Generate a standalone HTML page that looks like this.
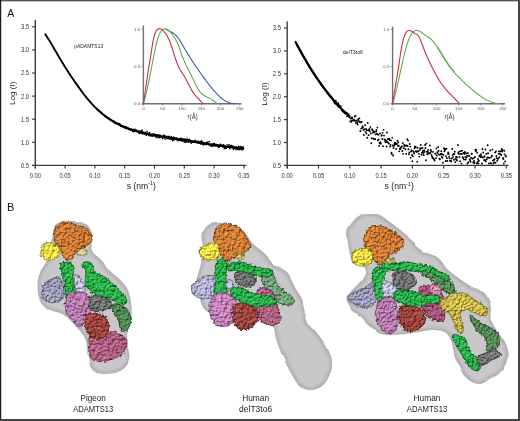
<!DOCTYPE html>
<html><head><meta charset="utf-8"><style>html,body{margin:0;padding:0;background:#fff;}svg{display:block;will-change:transform;}</style></head>
<body><svg width="520" height="421" viewBox="0 0 520 421"><defs>
<filter id="bump" x="-30%" y="-30%" width="160%" height="160%" color-interpolation-filters="sRGB">
 <feTurbulence type="fractalNoise" baseFrequency="0.4" numOctaves="2" seed="3" result="t"/>
 <feDisplacementMap in="SourceGraphic" in2="t" scale="3.8" xChannelSelector="R" yChannelSelector="G" result="d"/>
 <feTurbulence type="fractalNoise" baseFrequency="0.45" numOctaves="2" seed="11" result="t2"/>
 <feDiffuseLighting in="t2" surfaceScale="2.5" diffuseConstant="1.22" lighting-color="#ffffff" result="light">
   <feDistantLight azimuth="235" elevation="55"/>
 </feDiffuseLighting>
 <feComposite in="d" in2="light" operator="arithmetic" k1="0.7" k2="0.33" k3="0" k4="0" result="lit"/>
 <feSpecularLighting in="t2" surfaceScale="2.5" specularConstant="0.3" specularExponent="14" lighting-color="#ffffff" result="spec">
   <feDistantLight azimuth="235" elevation="55"/>
 </feSpecularLighting>
 <feComposite in="lit" in2="spec" operator="arithmetic" k1="0" k2="1" k3="0.5" k4="0" result="lit2"/>
 <feComposite in="lit2" in2="d" operator="in" result="litc"/>
 <feMorphology in="d" operator="erode" radius="0.7" result="er"/>
 <feComposite in="d" in2="er" operator="out" result="edge"/>
 <feFlood flood-color="#000" flood-opacity="0.28"/>
 <feComposite in2="edge" operator="in" result="edged"/>
 <feMerge><feMergeNode in="litc"/><feMergeNode in="edged"/></feMerge>
</filter>
<filter id="envf" x="-10%" y="-10%" width="120%" height="120%" color-interpolation-filters="sRGB">
 <feTurbulence type="fractalNoise" baseFrequency="0.06" numOctaves="1" seed="2" result="t"/>
 <feDisplacementMap in="SourceGraphic" in2="t" scale="3" xChannelSelector="R" yChannelSelector="G" result="d"/>
 <feGaussianBlur in="d" stdDeviation="0.45" result="db"/>
 <feMorphology in="db" operator="erode" radius="1.6" result="er"/>
 <feGaussianBlur in="er" stdDeviation="1.4" result="erb"/>
 <feFlood flood-color="#c9c7c9" result="fl"/>
 <feComposite in="fl" in2="erb" operator="in" result="inner"/>
 <feMerge><feMergeNode in="db"/><feMergeNode in="inner"/></feMerge>
</filter>
</defs>
<rect x="0" y="0" width="520" height="421" fill="#fff"/>
<line x1="35.3" y1="20" x2="35.3" y2="168.6" stroke="#3c3c3c" stroke-width="1.4"/>
<line x1="32.099999999999994" y1="165.4" x2="246.5" y2="165.4" stroke="#3c3c3c" stroke-width="1.3"/>
<line x1="32.099999999999994" y1="165.40" x2="35.3" y2="165.40" stroke="#3c3c3c" stroke-width="1.2"/>
<text x="29.099999999999998" y="167.85" font-size="6.9" text-anchor="end" fill="#333" font-family="Liberation Sans, sans-serif" textLength="8.2" lengthAdjust="spacingAndGlyphs">0.5</text>
<line x1="32.099999999999994" y1="142.30" x2="35.3" y2="142.30" stroke="#3c3c3c" stroke-width="1.2"/>
<text x="29.099999999999998" y="144.75" font-size="6.9" text-anchor="end" fill="#333" font-family="Liberation Sans, sans-serif" textLength="8.2" lengthAdjust="spacingAndGlyphs">1.0</text>
<line x1="32.099999999999994" y1="119.20" x2="35.3" y2="119.20" stroke="#3c3c3c" stroke-width="1.2"/>
<text x="29.099999999999998" y="121.65" font-size="6.9" text-anchor="end" fill="#333" font-family="Liberation Sans, sans-serif" textLength="8.2" lengthAdjust="spacingAndGlyphs">1.5</text>
<line x1="32.099999999999994" y1="96.10" x2="35.3" y2="96.10" stroke="#3c3c3c" stroke-width="1.2"/>
<text x="29.099999999999998" y="98.55" font-size="6.9" text-anchor="end" fill="#333" font-family="Liberation Sans, sans-serif" textLength="8.2" lengthAdjust="spacingAndGlyphs">2.0</text>
<line x1="32.099999999999994" y1="73.00" x2="35.3" y2="73.00" stroke="#3c3c3c" stroke-width="1.2"/>
<text x="29.099999999999998" y="75.45" font-size="6.9" text-anchor="end" fill="#333" font-family="Liberation Sans, sans-serif" textLength="8.2" lengthAdjust="spacingAndGlyphs">2.5</text>
<line x1="32.099999999999994" y1="49.90" x2="35.3" y2="49.90" stroke="#3c3c3c" stroke-width="1.2"/>
<text x="29.099999999999998" y="52.35" font-size="6.9" text-anchor="end" fill="#333" font-family="Liberation Sans, sans-serif" textLength="8.2" lengthAdjust="spacingAndGlyphs">3.0</text>
<line x1="32.099999999999994" y1="26.80" x2="35.3" y2="26.80" stroke="#3c3c3c" stroke-width="1.2"/>
<text x="29.099999999999998" y="29.25" font-size="6.9" text-anchor="end" fill="#333" font-family="Liberation Sans, sans-serif" textLength="8.2" lengthAdjust="spacingAndGlyphs">3.5</text>
<line x1="35.30" y1="165.4" x2="35.30" y2="168.6" stroke="#3c3c3c" stroke-width="1.2"/>
<text x="35.30" y="177.50" font-size="6.8" text-anchor="middle" fill="#333" font-family="Liberation Sans, sans-serif" textLength="11.2" lengthAdjust="spacingAndGlyphs">0.00</text>
<line x1="65.10" y1="165.4" x2="65.10" y2="168.6" stroke="#3c3c3c" stroke-width="1.2"/>
<text x="65.10" y="177.50" font-size="6.8" text-anchor="middle" fill="#333" font-family="Liberation Sans, sans-serif" textLength="11.2" lengthAdjust="spacingAndGlyphs">0.05</text>
<line x1="94.90" y1="165.4" x2="94.90" y2="168.6" stroke="#3c3c3c" stroke-width="1.2"/>
<text x="94.90" y="177.50" font-size="6.8" text-anchor="middle" fill="#333" font-family="Liberation Sans, sans-serif" textLength="11.2" lengthAdjust="spacingAndGlyphs">0.10</text>
<line x1="124.70" y1="165.4" x2="124.70" y2="168.6" stroke="#3c3c3c" stroke-width="1.2"/>
<text x="124.70" y="177.50" font-size="6.8" text-anchor="middle" fill="#333" font-family="Liberation Sans, sans-serif" textLength="11.2" lengthAdjust="spacingAndGlyphs">0.15</text>
<line x1="154.50" y1="165.4" x2="154.50" y2="168.6" stroke="#3c3c3c" stroke-width="1.2"/>
<text x="154.50" y="177.50" font-size="6.8" text-anchor="middle" fill="#333" font-family="Liberation Sans, sans-serif" textLength="11.2" lengthAdjust="spacingAndGlyphs">0.20</text>
<line x1="184.30" y1="165.4" x2="184.30" y2="168.6" stroke="#3c3c3c" stroke-width="1.2"/>
<text x="184.30" y="177.50" font-size="6.8" text-anchor="middle" fill="#333" font-family="Liberation Sans, sans-serif" textLength="11.2" lengthAdjust="spacingAndGlyphs">0.25</text>
<line x1="214.10" y1="165.4" x2="214.10" y2="168.6" stroke="#3c3c3c" stroke-width="1.2"/>
<text x="214.10" y="177.50" font-size="6.8" text-anchor="middle" fill="#333" font-family="Liberation Sans, sans-serif" textLength="11.2" lengthAdjust="spacingAndGlyphs">0.30</text>
<line x1="243.90" y1="165.4" x2="243.90" y2="168.6" stroke="#3c3c3c" stroke-width="1.2"/>
<text x="243.90" y="177.50" font-size="6.8" text-anchor="middle" fill="#333" font-family="Liberation Sans, sans-serif" textLength="11.2" lengthAdjust="spacingAndGlyphs">0.35</text>
<text x="14.9" y="93.2" font-size="8.1" text-anchor="middle" fill="#222" font-family="Liberation Sans, sans-serif" transform="rotate(-90 14.9 93.2)">Log (I)</text>
<text x="126.8" y="188.6" font-size="8.6" fill="#222" font-family="Liberation Sans, sans-serif">s (nm<tspan font-size="5.4" dy="-3.3">-1</tspan><tspan dy="3.3">)</tspan></text>
<text x="7.2" y="17.2" font-size="10.6" fill="#111" font-family="Liberation Sans, sans-serif">A</text>
<text x="74.2" y="47.8" font-size="5.3" fill="#222" font-family="Liberation Sans, sans-serif" textLength="29" lengthAdjust="spacingAndGlyphs">pADAMTS13</text>
<path d="M45.40,34.37 C45.96,35.24 47.64,37.79 48.76,39.58 C49.87,41.38 50.99,43.25 52.11,45.13 C53.23,47.01 54.35,48.94 55.47,50.86 C56.59,52.78 57.71,54.73 58.82,56.64 C59.94,58.55 61.06,60.47 62.18,62.33 C63.30,64.18 64.42,66.01 65.54,67.79 C66.65,69.57 67.77,71.30 68.89,73.01 C70.01,74.72 71.13,76.39 72.25,78.04 C73.37,79.69 74.48,81.31 75.60,82.91 C76.72,84.51 77.84,86.10 78.96,87.65 C80.08,89.20 81.20,90.73 82.32,92.22 C83.43,93.71 84.55,95.17 85.67,96.57 C86.79,97.98 87.91,99.35 89.03,100.66 C90.15,101.96 91.26,103.22 92.38,104.42 C93.50,105.63 94.62,106.77 95.74,107.87 C96.86,108.97 97.98,110.02 99.09,111.02 C100.21,112.02 101.33,112.98 102.45,113.89 C103.57,114.80 104.69,115.67 105.81,116.50 C106.93,117.33 108.04,118.12 109.16,118.88 C110.28,119.63 111.40,120.35 112.52,121.03 C113.64,121.71 114.76,122.36 115.87,122.97 C116.99,123.59 118.11,124.17 119.23,124.73 C120.35,125.28 121.47,125.81 122.59,126.30 C123.71,126.80 124.82,127.27 125.94,127.72 C127.06,128.17 128.18,128.59 129.30,128.99 C130.42,129.39 131.54,129.76 132.65,130.12 C133.77,130.48 134.89,130.82 136.01,131.14 C137.13,131.46 138.25,131.76 139.37,132.05 C140.48,132.34 141.60,132.62 142.72,132.88 C143.84,133.14 144.96,133.39 146.08,133.63 C147.20,133.87 148.32,134.10 149.43,134.33 C150.55,134.55 151.67,134.76 152.79,134.97 C153.91,135.19 155.03,135.39 156.15,135.59 C157.26,135.80 158.38,136.00 159.50,136.20 C160.62,136.40 161.74,136.60 162.86,136.80 C163.98,136.99 165.09,137.19 166.21,137.38 C167.33,137.58 168.45,137.77 169.57,137.97 C170.69,138.16 171.81,138.35 172.93,138.54 C174.04,138.73 175.16,138.92 176.28,139.10 C177.40,139.29 178.52,139.48 179.64,139.66 C180.76,139.84 181.87,140.03 182.99,140.21 C184.11,140.39 185.23,140.57 186.35,140.75 C187.47,140.93 188.59,141.11 189.71,141.28 C190.82,141.46 191.94,141.64 193.06,141.81 C194.18,141.98 195.30,142.16 196.42,142.33 C197.54,142.50 198.65,142.67 199.77,142.84 C200.89,143.00 202.01,143.17 203.13,143.34 C204.25,143.50 205.37,143.67 206.48,143.83 C207.60,143.99 208.72,144.16 209.84,144.32 C210.96,144.48 212.08,144.64 213.20,144.79 C214.32,144.95 215.43,145.11 216.55,145.26 C217.67,145.42 218.79,145.57 219.91,145.72 C221.03,145.88 222.15,146.03 223.26,146.18 C224.38,146.33 225.50,146.48 226.62,146.62 C227.74,146.77 228.86,146.92 229.98,147.06 C231.09,147.20 232.21,147.35 233.33,147.49 C234.45,147.63 235.57,147.77 236.69,147.91 C237.81,148.05 238.93,148.19 240.04,148.32 C241.16,148.46 242.84,148.66 243.40,148.73" fill="none" stroke="#000" stroke-width="1.9" stroke-linecap="round"/>
<path d="M95.40,107.52h1.2v1.2h-1.2zM95.58,107.75h1.2v1.2h-1.2zM95.77,107.81h1.2v1.2h-1.2zM95.95,107.85h1.2v1.2h-1.2zM96.14,108.11h1.2v1.2h-1.2zM96.32,108.17h1.2v1.2h-1.2zM96.51,108.57h1.2v1.2h-1.2zM96.69,109.02h1.2v1.2h-1.2zM96.88,108.79h1.2v1.2h-1.2zM97.06,108.93h1.2v1.2h-1.2zM97.24,109.36h1.2v1.2h-1.2zM97.43,109.50h1.2v1.2h-1.2zM97.61,109.62h1.2v1.2h-1.2zM97.80,109.55h1.2v1.2h-1.2zM97.98,109.93h1.2v1.2h-1.2zM98.17,110.28h1.2v1.2h-1.2zM98.35,109.96h1.2v1.2h-1.2zM98.54,110.34h1.2v1.2h-1.2zM98.72,110.14h1.2v1.2h-1.2zM98.91,110.45h1.2v1.2h-1.2zM99.09,110.46h1.2v1.2h-1.2zM99.27,111.03h1.2v1.2h-1.2zM99.46,110.91h1.2v1.2h-1.2zM99.64,111.47h1.2v1.2h-1.2zM99.83,111.60h1.2v1.2h-1.2zM100.01,111.67h1.2v1.2h-1.2zM100.20,111.19h1.2v1.2h-1.2zM100.38,111.89h1.2v1.2h-1.2zM100.57,112.18h1.2v1.2h-1.2zM100.75,112.38h1.2v1.2h-1.2zM100.93,112.07h1.2v1.2h-1.2zM101.12,112.53h1.2v1.2h-1.2zM101.30,112.54h1.2v1.2h-1.2zM101.49,112.74h1.2v1.2h-1.2zM101.67,113.45h1.2v1.2h-1.2zM101.86,113.06h1.2v1.2h-1.2zM102.04,113.43h1.2v1.2h-1.2zM102.23,113.85h1.2v1.2h-1.2zM102.41,113.55h1.2v1.2h-1.2zM102.59,113.84h1.2v1.2h-1.2zM102.78,114.05h1.2v1.2h-1.2zM102.96,114.18h1.2v1.2h-1.2zM103.15,113.91h1.2v1.2h-1.2zM103.33,114.47h1.2v1.2h-1.2zM103.52,115.03h1.2v1.2h-1.2zM103.70,114.23h1.2v1.2h-1.2zM103.89,115.16h1.2v1.2h-1.2zM104.07,115.06h1.2v1.2h-1.2zM104.26,114.95h1.2v1.2h-1.2zM104.44,115.98h1.2v1.2h-1.2zM104.62,115.71h1.2v1.2h-1.2zM104.81,115.18h1.2v1.2h-1.2zM104.99,115.76h1.2v1.2h-1.2zM105.18,116.08h1.2v1.2h-1.2zM105.36,115.95h1.2v1.2h-1.2zM105.55,116.38h1.2v1.2h-1.2zM105.73,116.25h1.2v1.2h-1.2zM105.92,116.64h1.2v1.2h-1.2zM106.10,117.05h1.2v1.2h-1.2zM106.28,116.42h1.2v1.2h-1.2zM106.47,116.87h1.2v1.2h-1.2zM106.65,116.75h1.2v1.2h-1.2zM106.84,117.10h1.2v1.2h-1.2zM107.02,116.74h1.2v1.2h-1.2zM107.21,117.10h1.2v1.2h-1.2zM107.39,117.37h1.2v1.2h-1.2zM107.58,117.92h1.2v1.2h-1.2zM107.76,118.15h1.2v1.2h-1.2zM107.94,117.33h1.2v1.2h-1.2zM108.13,117.66h1.2v1.2h-1.2zM108.31,118.35h1.2v1.2h-1.2zM108.50,117.44h1.2v1.2h-1.2zM108.68,118.17h1.2v1.2h-1.2zM108.87,118.43h1.2v1.2h-1.2zM109.05,119.10h1.2v1.2h-1.2zM109.24,118.99h1.2v1.2h-1.2zM109.42,118.69h1.2v1.2h-1.2zM109.61,118.79h1.2v1.2h-1.2zM109.79,118.96h1.2v1.2h-1.2zM109.97,119.82h1.2v1.2h-1.2zM110.16,119.12h1.2v1.2h-1.2zM110.34,119.29h1.2v1.2h-1.2zM110.53,119.69h1.2v1.2h-1.2zM110.71,119.60h1.2v1.2h-1.2zM110.90,119.69h1.2v1.2h-1.2zM111.08,119.41h1.2v1.2h-1.2zM111.27,120.00h1.2v1.2h-1.2zM111.45,119.93h1.2v1.2h-1.2zM111.63,120.76h1.2v1.2h-1.2zM111.82,120.66h1.2v1.2h-1.2zM112.00,120.47h1.2v1.2h-1.2zM112.19,120.89h1.2v1.2h-1.2zM112.37,120.54h1.2v1.2h-1.2zM112.56,121.28h1.2v1.2h-1.2zM112.74,120.90h1.2v1.2h-1.2zM112.93,121.28h1.2v1.2h-1.2zM113.11,120.52h1.2v1.2h-1.2zM113.29,121.39h1.2v1.2h-1.2zM113.48,120.54h1.2v1.2h-1.2zM113.66,120.47h1.2v1.2h-1.2zM113.85,121.40h1.2v1.2h-1.2zM114.03,121.22h1.2v1.2h-1.2zM114.22,121.84h1.2v1.2h-1.2zM114.40,122.96h1.2v1.2h-1.2zM114.59,121.57h1.2v1.2h-1.2zM114.77,121.78h1.2v1.2h-1.2zM114.95,122.29h1.2v1.2h-1.2zM115.14,122.54h1.2v1.2h-1.2zM115.32,122.31h1.2v1.2h-1.2zM115.51,122.39h1.2v1.2h-1.2zM115.69,122.95h1.2v1.2h-1.2zM115.88,122.95h1.2v1.2h-1.2zM116.06,122.26h1.2v1.2h-1.2zM116.25,122.84h1.2v1.2h-1.2zM116.43,123.00h1.2v1.2h-1.2zM116.62,122.53h1.2v1.2h-1.2zM116.80,123.31h1.2v1.2h-1.2zM116.98,122.82h1.2v1.2h-1.2zM117.17,123.88h1.2v1.2h-1.2zM117.35,123.56h1.2v1.2h-1.2zM117.54,123.60h1.2v1.2h-1.2zM117.72,123.34h1.2v1.2h-1.2zM117.91,123.69h1.2v1.2h-1.2zM118.09,122.77h1.2v1.2h-1.2zM118.28,123.33h1.2v1.2h-1.2zM118.46,124.24h1.2v1.2h-1.2zM118.64,122.97h1.2v1.2h-1.2zM118.83,124.69h1.2v1.2h-1.2zM119.01,123.34h1.2v1.2h-1.2zM119.20,124.82h1.2v1.2h-1.2zM119.38,124.01h1.2v1.2h-1.2zM119.57,125.01h1.2v1.2h-1.2zM119.75,124.73h1.2v1.2h-1.2zM119.94,123.87h1.2v1.2h-1.2zM120.12,125.54h1.2v1.2h-1.2zM120.30,125.74h1.2v1.2h-1.2zM120.49,124.96h1.2v1.2h-1.2zM120.67,124.93h1.2v1.2h-1.2zM120.86,125.08h1.2v1.2h-1.2zM121.04,124.69h1.2v1.2h-1.2zM121.23,125.99h1.2v1.2h-1.2zM121.41,125.11h1.2v1.2h-1.2zM121.60,125.49h1.2v1.2h-1.2zM121.78,125.14h1.2v1.2h-1.2zM121.97,125.32h1.2v1.2h-1.2zM122.15,125.01h1.2v1.2h-1.2zM122.33,126.61h1.2v1.2h-1.2zM122.52,125.84h1.2v1.2h-1.2zM122.70,126.60h1.2v1.2h-1.2zM122.89,126.09h1.2v1.2h-1.2zM123.07,125.74h1.2v1.2h-1.2zM123.26,126.04h1.2v1.2h-1.2zM123.44,125.97h1.2v1.2h-1.2zM123.63,126.40h1.2v1.2h-1.2zM123.81,126.24h1.2v1.2h-1.2zM123.99,126.36h1.2v1.2h-1.2zM124.18,125.76h1.2v1.2h-1.2zM124.36,126.20h1.2v1.2h-1.2zM124.55,127.84h1.2v1.2h-1.2zM124.73,126.43h1.2v1.2h-1.2zM124.92,126.26h1.2v1.2h-1.2zM125.10,127.24h1.2v1.2h-1.2zM125.29,128.01h1.2v1.2h-1.2zM125.47,126.22h1.2v1.2h-1.2zM125.65,127.10h1.2v1.2h-1.2zM125.84,126.89h1.2v1.2h-1.2zM126.02,126.22h1.2v1.2h-1.2zM126.21,127.93h1.2v1.2h-1.2zM126.39,127.50h1.2v1.2h-1.2zM126.58,127.63h1.2v1.2h-1.2zM126.76,127.15h1.2v1.2h-1.2zM126.95,128.03h1.2v1.2h-1.2zM127.13,127.43h1.2v1.2h-1.2zM127.32,127.77h1.2v1.2h-1.2zM127.50,127.18h1.2v1.2h-1.2zM127.68,127.17h1.2v1.2h-1.2zM127.87,128.99h1.2v1.2h-1.2zM128.05,127.79h1.2v1.2h-1.2zM128.24,128.42h1.2v1.2h-1.2zM128.42,128.26h1.2v1.2h-1.2zM128.61,128.05h1.2v1.2h-1.2zM128.79,128.06h1.2v1.2h-1.2zM128.98,128.92h1.2v1.2h-1.2zM129.16,128.33h1.2v1.2h-1.2zM129.34,128.50h1.2v1.2h-1.2zM129.53,128.68h1.2v1.2h-1.2zM129.71,129.57h1.2v1.2h-1.2zM129.90,129.28h1.2v1.2h-1.2zM130.08,129.13h1.2v1.2h-1.2zM130.27,128.51h1.2v1.2h-1.2zM130.45,127.98h1.2v1.2h-1.2zM130.64,129.73h1.2v1.2h-1.2zM130.82,129.81h1.2v1.2h-1.2zM131.00,129.06h1.2v1.2h-1.2zM131.19,129.63h1.2v1.2h-1.2zM131.37,129.87h1.2v1.2h-1.2zM131.56,129.97h1.2v1.2h-1.2zM131.74,130.10h1.2v1.2h-1.2zM131.93,129.14h1.2v1.2h-1.2zM132.11,130.68h1.2v1.2h-1.2zM132.30,128.66h1.2v1.2h-1.2zM132.48,130.30h1.2v1.2h-1.2zM132.67,130.08h1.2v1.2h-1.2zM132.85,130.43h1.2v1.2h-1.2zM133.03,131.26h1.2v1.2h-1.2zM133.22,131.01h1.2v1.2h-1.2zM133.40,129.05h1.2v1.2h-1.2zM133.59,128.68h1.2v1.2h-1.2zM133.77,130.68h1.2v1.2h-1.2zM133.96,129.31h1.2v1.2h-1.2zM134.14,130.15h1.2v1.2h-1.2zM134.33,130.87h1.2v1.2h-1.2zM134.51,128.97h1.2v1.2h-1.2zM134.69,128.66h1.2v1.2h-1.2zM134.88,130.58h1.2v1.2h-1.2zM135.06,130.47h1.2v1.2h-1.2zM135.25,130.29h1.2v1.2h-1.2zM135.43,130.58h1.2v1.2h-1.2zM135.62,129.91h1.2v1.2h-1.2zM135.80,129.43h1.2v1.2h-1.2zM135.99,130.56h1.2v1.2h-1.2zM136.17,129.96h1.2v1.2h-1.2zM136.35,129.46h1.2v1.2h-1.2zM136.54,131.26h1.2v1.2h-1.2zM136.72,130.85h1.2v1.2h-1.2zM136.91,131.28h1.2v1.2h-1.2zM137.09,130.18h1.2v1.2h-1.2zM137.28,130.50h1.2v1.2h-1.2zM137.46,130.27h1.2v1.2h-1.2zM137.65,130.41h1.2v1.2h-1.2zM137.83,131.36h1.2v1.2h-1.2zM138.02,130.59h1.2v1.2h-1.2zM138.20,131.60h1.2v1.2h-1.2zM138.38,131.64h1.2v1.2h-1.2zM138.57,133.12h1.2v1.2h-1.2zM138.75,130.27h1.2v1.2h-1.2zM138.94,132.25h1.2v1.2h-1.2zM139.12,131.47h1.2v1.2h-1.2zM139.31,131.58h1.2v1.2h-1.2zM139.49,130.38h1.2v1.2h-1.2zM139.68,131.28h1.2v1.2h-1.2zM139.86,132.37h1.2v1.2h-1.2zM140.04,131.70h1.2v1.2h-1.2zM140.23,131.88h1.2v1.2h-1.2zM140.41,131.61h1.2v1.2h-1.2zM140.60,132.92h1.2v1.2h-1.2zM140.78,131.93h1.2v1.2h-1.2zM140.97,130.05h1.2v1.2h-1.2zM141.15,131.43h1.2v1.2h-1.2zM141.34,130.34h1.2v1.2h-1.2zM141.52,129.23h1.2v1.2h-1.2zM141.70,131.70h1.2v1.2h-1.2zM141.89,133.42h1.2v1.2h-1.2zM142.07,132.31h1.2v1.2h-1.2zM142.26,131.25h1.2v1.2h-1.2zM142.44,131.50h1.2v1.2h-1.2zM142.63,133.42h1.2v1.2h-1.2zM142.81,132.58h1.2v1.2h-1.2zM143.00,132.52h1.2v1.2h-1.2zM143.18,132.47h1.2v1.2h-1.2zM143.36,132.59h1.2v1.2h-1.2zM143.55,133.34h1.2v1.2h-1.2zM143.73,133.15h1.2v1.2h-1.2zM143.92,132.88h1.2v1.2h-1.2zM144.10,131.75h1.2v1.2h-1.2zM144.29,133.24h1.2v1.2h-1.2zM144.47,132.17h1.2v1.2h-1.2zM144.66,133.88h1.2v1.2h-1.2zM144.84,131.69h1.2v1.2h-1.2zM145.03,132.80h1.2v1.2h-1.2zM145.21,132.97h1.2v1.2h-1.2zM145.39,131.76h1.2v1.2h-1.2zM145.58,134.69h1.2v1.2h-1.2zM145.76,134.48h1.2v1.2h-1.2zM145.95,132.69h1.2v1.2h-1.2zM146.13,133.90h1.2v1.2h-1.2zM146.32,133.57h1.2v1.2h-1.2zM146.50,130.76h1.2v1.2h-1.2zM146.69,133.52h1.2v1.2h-1.2zM146.87,133.26h1.2v1.2h-1.2zM147.05,133.44h1.2v1.2h-1.2zM147.24,132.37h1.2v1.2h-1.2zM147.42,133.18h1.2v1.2h-1.2zM147.61,133.30h1.2v1.2h-1.2zM147.79,134.64h1.2v1.2h-1.2zM147.98,133.87h1.2v1.2h-1.2zM148.16,133.58h1.2v1.2h-1.2zM148.35,135.08h1.2v1.2h-1.2zM148.53,133.14h1.2v1.2h-1.2zM148.71,133.33h1.2v1.2h-1.2zM148.90,132.01h1.2v1.2h-1.2zM149.08,135.26h1.2v1.2h-1.2zM149.27,134.73h1.2v1.2h-1.2zM149.45,134.72h1.2v1.2h-1.2zM149.64,134.52h1.2v1.2h-1.2zM149.82,134.02h1.2v1.2h-1.2zM150.01,134.16h1.2v1.2h-1.2zM150.19,133.75h1.2v1.2h-1.2zM150.38,133.83h1.2v1.2h-1.2zM150.56,134.11h1.2v1.2h-1.2zM150.74,135.53h1.2v1.2h-1.2zM150.93,134.66h1.2v1.2h-1.2zM151.11,134.11h1.2v1.2h-1.2zM151.30,133.65h1.2v1.2h-1.2zM151.48,133.63h1.2v1.2h-1.2zM151.67,135.80h1.2v1.2h-1.2zM151.85,134.79h1.2v1.2h-1.2zM152.04,134.41h1.2v1.2h-1.2zM152.22,134.05h1.2v1.2h-1.2zM152.40,133.36h1.2v1.2h-1.2zM152.59,134.38h1.2v1.2h-1.2zM152.77,135.31h1.2v1.2h-1.2zM152.96,134.14h1.2v1.2h-1.2zM153.14,134.33h1.2v1.2h-1.2zM153.33,134.37h1.2v1.2h-1.2zM153.51,134.72h1.2v1.2h-1.2zM153.70,133.14h1.2v1.2h-1.2zM153.88,134.46h1.2v1.2h-1.2zM154.06,133.91h1.2v1.2h-1.2zM154.25,135.60h1.2v1.2h-1.2zM154.43,134.06h1.2v1.2h-1.2zM154.62,135.37h1.2v1.2h-1.2zM154.80,136.31h1.2v1.2h-1.2zM154.99,134.59h1.2v1.2h-1.2zM155.17,134.35h1.2v1.2h-1.2zM155.36,135.14h1.2v1.2h-1.2zM155.54,134.99h1.2v1.2h-1.2zM155.73,134.08h1.2v1.2h-1.2zM155.91,135.50h1.2v1.2h-1.2zM156.09,137.01h1.2v1.2h-1.2zM156.28,134.88h1.2v1.2h-1.2zM156.46,134.97h1.2v1.2h-1.2zM156.65,134.20h1.2v1.2h-1.2zM156.83,135.53h1.2v1.2h-1.2zM157.02,134.07h1.2v1.2h-1.2zM157.20,134.24h1.2v1.2h-1.2zM157.39,136.54h1.2v1.2h-1.2zM157.57,134.50h1.2v1.2h-1.2zM157.75,136.42h1.2v1.2h-1.2zM157.94,136.87h1.2v1.2h-1.2zM158.12,135.71h1.2v1.2h-1.2zM158.31,136.02h1.2v1.2h-1.2zM158.49,137.38h1.2v1.2h-1.2zM158.68,135.37h1.2v1.2h-1.2zM158.86,135.03h1.2v1.2h-1.2zM159.05,134.34h1.2v1.2h-1.2zM159.23,135.70h1.2v1.2h-1.2zM159.41,137.10h1.2v1.2h-1.2zM159.60,136.63h1.2v1.2h-1.2zM159.78,134.86h1.2v1.2h-1.2zM159.97,134.98h1.2v1.2h-1.2zM160.15,135.34h1.2v1.2h-1.2zM160.34,136.13h1.2v1.2h-1.2zM160.52,135.69h1.2v1.2h-1.2zM160.71,136.12h1.2v1.2h-1.2zM160.89,136.23h1.2v1.2h-1.2zM161.08,135.70h1.2v1.2h-1.2zM161.26,135.98h1.2v1.2h-1.2zM161.44,136.25h1.2v1.2h-1.2zM161.63,136.00h1.2v1.2h-1.2zM161.81,136.59h1.2v1.2h-1.2zM162.00,137.93h1.2v1.2h-1.2zM162.18,136.74h1.2v1.2h-1.2zM162.37,136.27h1.2v1.2h-1.2zM162.55,134.65h1.2v1.2h-1.2zM162.74,136.65h1.2v1.2h-1.2zM162.92,134.46h1.2v1.2h-1.2zM163.10,135.01h1.2v1.2h-1.2zM163.29,137.19h1.2v1.2h-1.2zM163.47,137.08h1.2v1.2h-1.2zM163.66,136.30h1.2v1.2h-1.2zM163.84,134.85h1.2v1.2h-1.2zM164.03,136.15h1.2v1.2h-1.2zM164.21,135.89h1.2v1.2h-1.2zM164.40,137.18h1.2v1.2h-1.2zM164.58,138.75h1.2v1.2h-1.2zM164.76,136.84h1.2v1.2h-1.2zM164.95,135.93h1.2v1.2h-1.2zM165.13,135.59h1.2v1.2h-1.2zM165.32,136.68h1.2v1.2h-1.2zM165.50,136.60h1.2v1.2h-1.2zM165.69,135.70h1.2v1.2h-1.2zM165.87,136.94h1.2v1.2h-1.2zM166.06,135.77h1.2v1.2h-1.2zM166.24,137.95h1.2v1.2h-1.2zM166.43,137.93h1.2v1.2h-1.2zM166.61,137.99h1.2v1.2h-1.2zM166.79,136.54h1.2v1.2h-1.2zM166.98,137.51h1.2v1.2h-1.2zM167.16,136.93h1.2v1.2h-1.2zM167.35,136.72h1.2v1.2h-1.2zM167.53,136.79h1.2v1.2h-1.2zM167.72,135.91h1.2v1.2h-1.2zM167.90,135.81h1.2v1.2h-1.2zM168.09,137.97h1.2v1.2h-1.2zM168.27,137.06h1.2v1.2h-1.2zM168.45,137.48h1.2v1.2h-1.2zM168.64,138.26h1.2v1.2h-1.2zM168.82,135.69h1.2v1.2h-1.2zM169.01,136.63h1.2v1.2h-1.2zM169.19,137.57h1.2v1.2h-1.2zM169.38,137.81h1.2v1.2h-1.2zM169.56,137.11h1.2v1.2h-1.2zM169.75,138.48h1.2v1.2h-1.2zM169.93,137.73h1.2v1.2h-1.2zM170.11,136.41h1.2v1.2h-1.2zM170.30,136.71h1.2v1.2h-1.2zM170.48,138.39h1.2v1.2h-1.2zM170.67,138.10h1.2v1.2h-1.2zM170.85,135.88h1.2v1.2h-1.2zM171.04,139.00h1.2v1.2h-1.2zM171.22,138.32h1.2v1.2h-1.2zM171.41,139.06h1.2v1.2h-1.2zM171.59,137.45h1.2v1.2h-1.2zM171.77,137.56h1.2v1.2h-1.2zM171.96,136.81h1.2v1.2h-1.2zM172.14,140.32h1.2v1.2h-1.2zM172.33,137.77h1.2v1.2h-1.2zM172.51,139.48h1.2v1.2h-1.2zM172.70,137.39h1.2v1.2h-1.2zM172.88,138.19h1.2v1.2h-1.2zM173.07,136.48h1.2v1.2h-1.2zM173.25,137.73h1.2v1.2h-1.2zM173.44,139.06h1.2v1.2h-1.2zM173.62,136.97h1.2v1.2h-1.2zM173.80,139.21h1.2v1.2h-1.2zM173.99,138.54h1.2v1.2h-1.2zM174.17,137.26h1.2v1.2h-1.2zM174.36,137.80h1.2v1.2h-1.2zM174.54,137.88h1.2v1.2h-1.2zM174.73,138.30h1.2v1.2h-1.2zM174.91,137.86h1.2v1.2h-1.2zM175.10,137.62h1.2v1.2h-1.2zM175.28,138.15h1.2v1.2h-1.2zM175.46,137.49h1.2v1.2h-1.2zM175.65,137.27h1.2v1.2h-1.2zM175.83,138.48h1.2v1.2h-1.2zM176.02,139.40h1.2v1.2h-1.2zM176.20,137.14h1.2v1.2h-1.2zM176.39,138.62h1.2v1.2h-1.2zM176.57,138.03h1.2v1.2h-1.2zM176.76,137.75h1.2v1.2h-1.2zM176.94,139.52h1.2v1.2h-1.2zM177.12,138.25h1.2v1.2h-1.2zM177.31,140.20h1.2v1.2h-1.2zM177.49,138.06h1.2v1.2h-1.2zM177.68,139.20h1.2v1.2h-1.2zM177.86,138.65h1.2v1.2h-1.2zM178.05,138.18h1.2v1.2h-1.2zM178.23,139.48h1.2v1.2h-1.2zM178.42,138.81h1.2v1.2h-1.2zM178.60,139.56h1.2v1.2h-1.2zM178.79,138.97h1.2v1.2h-1.2zM178.97,138.02h1.2v1.2h-1.2zM179.15,138.98h1.2v1.2h-1.2zM179.34,139.16h1.2v1.2h-1.2zM179.52,140.05h1.2v1.2h-1.2zM179.71,138.31h1.2v1.2h-1.2zM179.89,139.16h1.2v1.2h-1.2zM180.08,137.59h1.2v1.2h-1.2zM180.26,139.88h1.2v1.2h-1.2zM180.45,138.26h1.2v1.2h-1.2zM180.63,137.60h1.2v1.2h-1.2zM180.81,139.29h1.2v1.2h-1.2zM181.00,140.43h1.2v1.2h-1.2zM181.18,137.96h1.2v1.2h-1.2zM181.37,138.41h1.2v1.2h-1.2zM181.55,138.77h1.2v1.2h-1.2zM181.74,138.43h1.2v1.2h-1.2zM181.92,139.89h1.2v1.2h-1.2zM182.11,138.80h1.2v1.2h-1.2zM182.29,138.91h1.2v1.2h-1.2zM182.47,140.18h1.2v1.2h-1.2zM182.66,138.93h1.2v1.2h-1.2zM182.84,140.09h1.2v1.2h-1.2zM183.03,138.79h1.2v1.2h-1.2zM183.21,138.59h1.2v1.2h-1.2zM183.40,138.03h1.2v1.2h-1.2zM183.58,141.57h1.2v1.2h-1.2zM183.77,139.53h1.2v1.2h-1.2zM183.95,140.09h1.2v1.2h-1.2zM184.14,139.86h1.2v1.2h-1.2zM184.32,140.07h1.2v1.2h-1.2zM184.50,140.00h1.2v1.2h-1.2zM184.69,141.79h1.2v1.2h-1.2zM184.87,139.02h1.2v1.2h-1.2zM185.06,138.56h1.2v1.2h-1.2zM185.24,139.11h1.2v1.2h-1.2zM185.43,138.83h1.2v1.2h-1.2zM185.61,140.84h1.2v1.2h-1.2zM185.80,140.94h1.2v1.2h-1.2zM185.98,139.27h1.2v1.2h-1.2zM186.16,138.90h1.2v1.2h-1.2zM186.35,139.91h1.2v1.2h-1.2zM186.53,141.60h1.2v1.2h-1.2zM186.72,137.63h1.2v1.2h-1.2zM186.90,140.83h1.2v1.2h-1.2zM187.09,139.34h1.2v1.2h-1.2zM187.27,141.38h1.2v1.2h-1.2zM187.46,139.40h1.2v1.2h-1.2zM187.64,140.18h1.2v1.2h-1.2zM187.82,139.05h1.2v1.2h-1.2zM188.01,139.58h1.2v1.2h-1.2zM188.19,141.86h1.2v1.2h-1.2zM188.38,141.35h1.2v1.2h-1.2zM188.56,140.22h1.2v1.2h-1.2zM188.75,139.80h1.2v1.2h-1.2zM188.93,138.86h1.2v1.2h-1.2zM189.12,140.31h1.2v1.2h-1.2zM189.30,140.69h1.2v1.2h-1.2zM189.49,140.66h1.2v1.2h-1.2zM189.67,140.68h1.2v1.2h-1.2zM189.85,139.74h1.2v1.2h-1.2zM190.04,140.77h1.2v1.2h-1.2zM190.22,140.82h1.2v1.2h-1.2zM190.41,142.11h1.2v1.2h-1.2zM190.59,142.69h1.2v1.2h-1.2zM190.78,140.82h1.2v1.2h-1.2zM190.96,140.25h1.2v1.2h-1.2zM191.15,140.94h1.2v1.2h-1.2zM191.33,140.46h1.2v1.2h-1.2zM191.51,140.36h1.2v1.2h-1.2zM191.70,141.03h1.2v1.2h-1.2zM191.88,140.13h1.2v1.2h-1.2zM192.07,141.72h1.2v1.2h-1.2zM192.25,141.08h1.2v1.2h-1.2zM192.44,141.44h1.2v1.2h-1.2zM192.62,141.06h1.2v1.2h-1.2zM192.81,140.57h1.2v1.2h-1.2zM192.99,140.39h1.2v1.2h-1.2zM193.17,141.09h1.2v1.2h-1.2zM193.36,140.83h1.2v1.2h-1.2zM193.54,141.60h1.2v1.2h-1.2zM193.73,141.40h1.2v1.2h-1.2zM193.91,140.14h1.2v1.2h-1.2zM194.10,141.53h1.2v1.2h-1.2zM194.28,140.21h1.2v1.2h-1.2zM194.47,140.93h1.2v1.2h-1.2zM194.65,141.27h1.2v1.2h-1.2zM194.84,139.60h1.2v1.2h-1.2zM195.02,141.69h1.2v1.2h-1.2zM195.20,141.78h1.2v1.2h-1.2zM195.39,141.51h1.2v1.2h-1.2zM195.57,141.29h1.2v1.2h-1.2zM195.76,141.36h1.2v1.2h-1.2zM195.94,140.82h1.2v1.2h-1.2zM196.13,141.52h1.2v1.2h-1.2zM196.31,141.28h1.2v1.2h-1.2zM196.50,141.92h1.2v1.2h-1.2zM196.68,140.71h1.2v1.2h-1.2zM196.86,142.11h1.2v1.2h-1.2zM197.05,142.05h1.2v1.2h-1.2zM197.23,141.81h1.2v1.2h-1.2zM197.42,141.55h1.2v1.2h-1.2zM197.60,142.52h1.2v1.2h-1.2zM197.79,140.44h1.2v1.2h-1.2zM197.97,142.49h1.2v1.2h-1.2zM198.16,142.31h1.2v1.2h-1.2zM198.34,142.38h1.2v1.2h-1.2zM198.52,142.50h1.2v1.2h-1.2zM198.71,141.55h1.2v1.2h-1.2zM198.89,141.95h1.2v1.2h-1.2zM199.08,142.83h1.2v1.2h-1.2zM199.26,142.66h1.2v1.2h-1.2zM199.45,142.47h1.2v1.2h-1.2zM199.63,140.87h1.2v1.2h-1.2zM199.82,142.84h1.2v1.2h-1.2zM200.00,143.47h1.2v1.2h-1.2zM200.18,143.35h1.2v1.2h-1.2zM200.37,142.64h1.2v1.2h-1.2zM200.55,140.96h1.2v1.2h-1.2zM200.74,143.37h1.2v1.2h-1.2zM200.92,142.36h1.2v1.2h-1.2zM201.11,140.12h1.2v1.2h-1.2zM201.29,142.91h1.2v1.2h-1.2zM201.48,141.16h1.2v1.2h-1.2zM201.66,141.38h1.2v1.2h-1.2zM201.85,142.03h1.2v1.2h-1.2zM202.03,143.87h1.2v1.2h-1.2zM202.21,142.34h1.2v1.2h-1.2zM202.40,142.98h1.2v1.2h-1.2zM202.58,144.41h1.2v1.2h-1.2zM202.77,144.29h1.2v1.2h-1.2zM202.95,142.70h1.2v1.2h-1.2zM203.14,142.60h1.2v1.2h-1.2zM203.32,141.66h1.2v1.2h-1.2zM203.51,142.22h1.2v1.2h-1.2zM203.69,143.31h1.2v1.2h-1.2zM203.87,143.31h1.2v1.2h-1.2zM204.06,143.07h1.2v1.2h-1.2zM204.24,143.94h1.2v1.2h-1.2zM204.43,142.28h1.2v1.2h-1.2zM204.61,142.99h1.2v1.2h-1.2zM204.80,143.77h1.2v1.2h-1.2zM204.98,143.65h1.2v1.2h-1.2zM205.17,144.14h1.2v1.2h-1.2zM205.35,143.53h1.2v1.2h-1.2zM205.53,142.89h1.2v1.2h-1.2zM205.72,143.55h1.2v1.2h-1.2zM205.90,142.28h1.2v1.2h-1.2zM206.09,141.70h1.2v1.2h-1.2zM206.27,143.84h1.2v1.2h-1.2zM206.46,143.26h1.2v1.2h-1.2zM206.64,143.63h1.2v1.2h-1.2zM206.83,141.75h1.2v1.2h-1.2zM207.01,143.05h1.2v1.2h-1.2zM207.20,142.85h1.2v1.2h-1.2zM207.38,142.63h1.2v1.2h-1.2zM207.56,141.33h1.2v1.2h-1.2zM207.75,143.18h1.2v1.2h-1.2zM207.93,144.38h1.2v1.2h-1.2zM208.12,143.92h1.2v1.2h-1.2zM208.30,143.01h1.2v1.2h-1.2zM208.49,143.59h1.2v1.2h-1.2zM208.67,144.35h1.2v1.2h-1.2zM208.86,141.04h1.2v1.2h-1.2zM209.04,143.57h1.2v1.2h-1.2zM209.22,144.23h1.2v1.2h-1.2zM209.41,144.39h1.2v1.2h-1.2zM209.59,145.38h1.2v1.2h-1.2zM209.78,144.87h1.2v1.2h-1.2zM209.96,144.12h1.2v1.2h-1.2zM210.15,144.13h1.2v1.2h-1.2zM210.33,144.62h1.2v1.2h-1.2zM210.52,143.39h1.2v1.2h-1.2zM210.70,143.89h1.2v1.2h-1.2zM210.88,144.81h1.2v1.2h-1.2zM211.07,145.84h1.2v1.2h-1.2zM211.25,143.85h1.2v1.2h-1.2zM211.44,143.98h1.2v1.2h-1.2zM211.62,144.24h1.2v1.2h-1.2zM211.81,145.36h1.2v1.2h-1.2zM211.99,144.08h1.2v1.2h-1.2zM212.18,145.53h1.2v1.2h-1.2zM212.36,143.24h1.2v1.2h-1.2zM212.55,144.01h1.2v1.2h-1.2zM212.73,144.02h1.2v1.2h-1.2zM212.91,144.99h1.2v1.2h-1.2zM213.10,145.26h1.2v1.2h-1.2zM213.28,142.86h1.2v1.2h-1.2zM213.47,143.45h1.2v1.2h-1.2zM213.65,144.66h1.2v1.2h-1.2zM213.84,143.74h1.2v1.2h-1.2zM214.02,142.95h1.2v1.2h-1.2zM214.21,145.41h1.2v1.2h-1.2zM214.39,144.91h1.2v1.2h-1.2zM214.57,144.94h1.2v1.2h-1.2zM214.76,144.05h1.2v1.2h-1.2zM214.94,145.50h1.2v1.2h-1.2zM215.13,144.32h1.2v1.2h-1.2zM215.31,145.62h1.2v1.2h-1.2zM215.50,143.73h1.2v1.2h-1.2zM215.68,143.81h1.2v1.2h-1.2zM215.87,144.85h1.2v1.2h-1.2zM216.05,144.01h1.2v1.2h-1.2zM216.23,145.34h1.2v1.2h-1.2zM216.42,144.97h1.2v1.2h-1.2zM216.60,143.88h1.2v1.2h-1.2zM216.79,144.85h1.2v1.2h-1.2zM216.97,144.47h1.2v1.2h-1.2zM217.16,145.70h1.2v1.2h-1.2zM217.34,144.25h1.2v1.2h-1.2zM217.53,144.46h1.2v1.2h-1.2zM217.71,146.06h1.2v1.2h-1.2zM217.90,147.06h1.2v1.2h-1.2zM218.08,146.86h1.2v1.2h-1.2zM218.26,145.04h1.2v1.2h-1.2zM218.45,145.21h1.2v1.2h-1.2zM218.63,146.49h1.2v1.2h-1.2zM218.82,144.94h1.2v1.2h-1.2zM219.00,144.16h1.2v1.2h-1.2zM219.19,145.22h1.2v1.2h-1.2zM219.37,145.56h1.2v1.2h-1.2zM219.56,144.37h1.2v1.2h-1.2zM219.74,143.62h1.2v1.2h-1.2zM219.92,143.84h1.2v1.2h-1.2zM220.11,145.87h1.2v1.2h-1.2zM220.29,144.54h1.2v1.2h-1.2zM220.48,145.15h1.2v1.2h-1.2zM220.66,145.51h1.2v1.2h-1.2zM220.85,145.92h1.2v1.2h-1.2zM221.03,145.04h1.2v1.2h-1.2zM221.22,145.86h1.2v1.2h-1.2zM221.40,144.56h1.2v1.2h-1.2zM221.58,145.09h1.2v1.2h-1.2zM221.77,144.48h1.2v1.2h-1.2zM221.95,146.56h1.2v1.2h-1.2zM222.14,145.48h1.2v1.2h-1.2zM222.32,144.83h1.2v1.2h-1.2zM222.51,145.22h1.2v1.2h-1.2zM222.69,145.37h1.2v1.2h-1.2zM222.88,146.27h1.2v1.2h-1.2zM223.06,144.11h1.2v1.2h-1.2zM223.25,144.67h1.2v1.2h-1.2zM223.43,145.32h1.2v1.2h-1.2zM223.61,148.11h1.2v1.2h-1.2zM223.80,146.64h1.2v1.2h-1.2zM223.98,145.65h1.2v1.2h-1.2zM224.17,146.45h1.2v1.2h-1.2zM224.35,147.76h1.2v1.2h-1.2zM224.54,145.60h1.2v1.2h-1.2zM224.72,145.50h1.2v1.2h-1.2zM224.91,147.03h1.2v1.2h-1.2zM225.09,146.37h1.2v1.2h-1.2zM225.27,146.56h1.2v1.2h-1.2zM225.46,145.47h1.2v1.2h-1.2zM225.64,147.80h1.2v1.2h-1.2zM225.83,147.62h1.2v1.2h-1.2zM226.01,146.56h1.2v1.2h-1.2zM226.20,146.70h1.2v1.2h-1.2zM226.38,144.14h1.2v1.2h-1.2zM226.57,146.70h1.2v1.2h-1.2zM226.75,145.93h1.2v1.2h-1.2zM226.93,146.55h1.2v1.2h-1.2zM227.12,146.81h1.2v1.2h-1.2zM227.30,145.87h1.2v1.2h-1.2zM227.49,144.61h1.2v1.2h-1.2zM227.67,146.59h1.2v1.2h-1.2zM227.86,145.56h1.2v1.2h-1.2zM228.04,145.97h1.2v1.2h-1.2zM228.23,145.74h1.2v1.2h-1.2zM228.41,146.01h1.2v1.2h-1.2zM228.59,144.16h1.2v1.2h-1.2zM228.78,147.54h1.2v1.2h-1.2zM228.96,146.65h1.2v1.2h-1.2zM229.15,147.49h1.2v1.2h-1.2zM229.33,148.34h1.2v1.2h-1.2zM229.52,146.50h1.2v1.2h-1.2zM229.70,144.79h1.2v1.2h-1.2zM229.89,145.68h1.2v1.2h-1.2zM230.07,145.40h1.2v1.2h-1.2zM230.26,146.10h1.2v1.2h-1.2zM230.44,146.67h1.2v1.2h-1.2zM230.62,144.72h1.2v1.2h-1.2zM230.81,146.97h1.2v1.2h-1.2zM230.99,145.23h1.2v1.2h-1.2zM231.18,146.97h1.2v1.2h-1.2zM231.36,146.61h1.2v1.2h-1.2zM231.55,146.44h1.2v1.2h-1.2zM231.73,146.69h1.2v1.2h-1.2zM231.92,146.27h1.2v1.2h-1.2zM232.10,146.23h1.2v1.2h-1.2zM232.28,145.23h1.2v1.2h-1.2zM232.47,146.83h1.2v1.2h-1.2zM232.65,148.63h1.2v1.2h-1.2zM232.84,148.78h1.2v1.2h-1.2zM233.02,148.18h1.2v1.2h-1.2zM233.21,147.62h1.2v1.2h-1.2zM233.39,146.33h1.2v1.2h-1.2zM233.58,148.37h1.2v1.2h-1.2zM233.76,146.97h1.2v1.2h-1.2zM233.94,146.98h1.2v1.2h-1.2zM234.13,146.79h1.2v1.2h-1.2zM234.31,147.18h1.2v1.2h-1.2zM234.50,146.70h1.2v1.2h-1.2zM234.68,147.05h1.2v1.2h-1.2zM234.87,146.13h1.2v1.2h-1.2zM235.05,146.83h1.2v1.2h-1.2zM235.24,149.37h1.2v1.2h-1.2zM235.42,147.16h1.2v1.2h-1.2zM235.61,147.02h1.2v1.2h-1.2zM235.79,147.78h1.2v1.2h-1.2zM235.97,147.97h1.2v1.2h-1.2zM236.16,146.26h1.2v1.2h-1.2zM236.34,147.15h1.2v1.2h-1.2zM236.53,148.24h1.2v1.2h-1.2zM236.71,147.64h1.2v1.2h-1.2zM236.90,147.53h1.2v1.2h-1.2zM237.08,148.91h1.2v1.2h-1.2zM237.27,146.81h1.2v1.2h-1.2zM237.45,147.56h1.2v1.2h-1.2zM237.63,147.01h1.2v1.2h-1.2zM237.82,148.94h1.2v1.2h-1.2zM238.00,145.69h1.2v1.2h-1.2zM238.19,146.93h1.2v1.2h-1.2zM238.37,147.09h1.2v1.2h-1.2zM238.56,148.24h1.2v1.2h-1.2zM238.74,148.21h1.2v1.2h-1.2zM238.93,148.99h1.2v1.2h-1.2zM239.11,146.19h1.2v1.2h-1.2zM239.29,148.42h1.2v1.2h-1.2zM239.48,147.45h1.2v1.2h-1.2zM239.66,147.12h1.2v1.2h-1.2zM239.85,148.28h1.2v1.2h-1.2zM240.03,146.92h1.2v1.2h-1.2zM240.22,145.84h1.2v1.2h-1.2zM240.40,147.49h1.2v1.2h-1.2zM240.59,146.44h1.2v1.2h-1.2zM240.77,147.27h1.2v1.2h-1.2zM240.96,148.26h1.2v1.2h-1.2zM241.14,148.22h1.2v1.2h-1.2zM241.32,149.46h1.2v1.2h-1.2zM241.51,147.78h1.2v1.2h-1.2zM241.69,146.54h1.2v1.2h-1.2zM241.88,147.30h1.2v1.2h-1.2zM242.06,147.17h1.2v1.2h-1.2zM242.25,146.90h1.2v1.2h-1.2zM242.43,148.50h1.2v1.2h-1.2zM242.62,147.49h1.2v1.2h-1.2zM242.80,146.25h1.2v1.2h-1.2z" fill="#000"/>
<line x1="287.2" y1="21.5" x2="287.2" y2="168.6" stroke="#3c3c3c" stroke-width="1.4"/>
<line x1="284.0" y1="165.4" x2="508.5" y2="165.4" stroke="#3c3c3c" stroke-width="1.3"/>
<line x1="284.0" y1="165.40" x2="287.2" y2="165.40" stroke="#3c3c3c" stroke-width="1.2"/>
<text x="281.0" y="167.85" font-size="6.9" text-anchor="end" fill="#333" font-family="Liberation Sans, sans-serif" textLength="8.2" lengthAdjust="spacingAndGlyphs">0.5</text>
<line x1="284.0" y1="142.50" x2="287.2" y2="142.50" stroke="#3c3c3c" stroke-width="1.2"/>
<text x="281.0" y="144.95" font-size="6.9" text-anchor="end" fill="#333" font-family="Liberation Sans, sans-serif" textLength="8.2" lengthAdjust="spacingAndGlyphs">1.0</text>
<line x1="284.0" y1="119.60" x2="287.2" y2="119.60" stroke="#3c3c3c" stroke-width="1.2"/>
<text x="281.0" y="122.05" font-size="6.9" text-anchor="end" fill="#333" font-family="Liberation Sans, sans-serif" textLength="8.2" lengthAdjust="spacingAndGlyphs">1.5</text>
<line x1="284.0" y1="96.70" x2="287.2" y2="96.70" stroke="#3c3c3c" stroke-width="1.2"/>
<text x="281.0" y="99.15" font-size="6.9" text-anchor="end" fill="#333" font-family="Liberation Sans, sans-serif" textLength="8.2" lengthAdjust="spacingAndGlyphs">2.0</text>
<line x1="284.0" y1="73.80" x2="287.2" y2="73.80" stroke="#3c3c3c" stroke-width="1.2"/>
<text x="281.0" y="76.25" font-size="6.9" text-anchor="end" fill="#333" font-family="Liberation Sans, sans-serif" textLength="8.2" lengthAdjust="spacingAndGlyphs">2.5</text>
<line x1="284.0" y1="50.90" x2="287.2" y2="50.90" stroke="#3c3c3c" stroke-width="1.2"/>
<text x="281.0" y="53.35" font-size="6.9" text-anchor="end" fill="#333" font-family="Liberation Sans, sans-serif" textLength="8.2" lengthAdjust="spacingAndGlyphs">3.0</text>
<line x1="284.0" y1="28.00" x2="287.2" y2="28.00" stroke="#3c3c3c" stroke-width="1.2"/>
<text x="281.0" y="30.45" font-size="6.9" text-anchor="end" fill="#333" font-family="Liberation Sans, sans-serif" textLength="8.2" lengthAdjust="spacingAndGlyphs">3.5</text>
<line x1="287.20" y1="165.4" x2="287.20" y2="168.6" stroke="#3c3c3c" stroke-width="1.2"/>
<text x="287.20" y="177.50" font-size="6.8" text-anchor="middle" fill="#333" font-family="Liberation Sans, sans-serif" textLength="11.2" lengthAdjust="spacingAndGlyphs">0.00</text>
<line x1="318.50" y1="165.4" x2="318.50" y2="168.6" stroke="#3c3c3c" stroke-width="1.2"/>
<text x="318.50" y="177.50" font-size="6.8" text-anchor="middle" fill="#333" font-family="Liberation Sans, sans-serif" textLength="11.2" lengthAdjust="spacingAndGlyphs">0.05</text>
<line x1="349.80" y1="165.4" x2="349.80" y2="168.6" stroke="#3c3c3c" stroke-width="1.2"/>
<text x="349.80" y="177.50" font-size="6.8" text-anchor="middle" fill="#333" font-family="Liberation Sans, sans-serif" textLength="11.2" lengthAdjust="spacingAndGlyphs">0.10</text>
<line x1="381.10" y1="165.4" x2="381.10" y2="168.6" stroke="#3c3c3c" stroke-width="1.2"/>
<text x="381.10" y="177.50" font-size="6.8" text-anchor="middle" fill="#333" font-family="Liberation Sans, sans-serif" textLength="11.2" lengthAdjust="spacingAndGlyphs">0.15</text>
<line x1="412.40" y1="165.4" x2="412.40" y2="168.6" stroke="#3c3c3c" stroke-width="1.2"/>
<text x="412.40" y="177.50" font-size="6.8" text-anchor="middle" fill="#333" font-family="Liberation Sans, sans-serif" textLength="11.2" lengthAdjust="spacingAndGlyphs">0.20</text>
<line x1="443.70" y1="165.4" x2="443.70" y2="168.6" stroke="#3c3c3c" stroke-width="1.2"/>
<text x="443.70" y="177.50" font-size="6.8" text-anchor="middle" fill="#333" font-family="Liberation Sans, sans-serif" textLength="11.2" lengthAdjust="spacingAndGlyphs">0.25</text>
<line x1="475.00" y1="165.4" x2="475.00" y2="168.6" stroke="#3c3c3c" stroke-width="1.2"/>
<text x="475.00" y="177.50" font-size="6.8" text-anchor="middle" fill="#333" font-family="Liberation Sans, sans-serif" textLength="11.2" lengthAdjust="spacingAndGlyphs">0.30</text>
<line x1="506.30" y1="165.4" x2="506.30" y2="168.6" stroke="#3c3c3c" stroke-width="1.2"/>
<text x="506.30" y="177.50" font-size="6.8" text-anchor="middle" fill="#333" font-family="Liberation Sans, sans-serif" textLength="11.2" lengthAdjust="spacingAndGlyphs">0.35</text>
<text x="266.7" y="94" font-size="8.1" text-anchor="middle" fill="#222" font-family="Liberation Sans, sans-serif" transform="rotate(-90 266.7 94)">Log (I)</text>
<text x="384.6" y="189.4" font-size="8.6" fill="#222" font-family="Liberation Sans, sans-serif">s (nm<tspan font-size="5.4" dy="-3.3">-1</tspan><tspan dy="3.3">)</tspan></text>
<text x="342.7" y="53.5" font-size="5.3" fill="#222" font-family="Liberation Sans, sans-serif" textLength="20.3" lengthAdjust="spacingAndGlyphs">delT3to6</text>
<path d="M295.50,41.86 C295.94,42.70 297.28,45.26 298.16,46.92 C299.05,48.57 299.94,50.21 300.83,51.81 C301.72,53.42 302.61,55.00 303.49,56.55 C304.38,58.11 305.27,59.64 306.16,61.14 C307.05,62.65 307.93,64.12 308.82,65.58 C309.71,67.03 310.60,68.46 311.49,69.87 C312.38,71.28 313.26,72.66 314.15,74.01 C315.04,75.37 315.93,76.71 316.82,78.02 C317.70,79.33 318.59,80.62 319.48,81.88 C320.37,83.15 321.26,84.39 322.15,85.61 C323.03,86.83 323.92,88.03 324.81,89.20 C325.70,90.38 326.59,91.53 327.47,92.67 C328.36,93.80 329.25,94.91 330.14,96.00 C331.03,97.09 331.92,98.16 332.80,99.21 C333.69,100.26 334.58,101.29 335.47,102.30 C336.36,103.31 337.24,104.29 338.13,105.26 C339.02,106.23 339.91,107.18 340.80,108.11 C341.69,109.05 342.57,109.96 343.46,110.85 C344.35,111.74 345.24,112.62 346.13,113.48 C347.01,114.33 348.35,115.57 348.79,115.99" fill="none" stroke="#000" stroke-width="2.1" stroke-linecap="round"/>
<path d="M295.05,43.02a0.95,0.95 0 1,0 1.9,0a0.95,0.95 0 1,0 -1.9,0M295.30,43.24a0.95,0.95 0 1,0 1.9,0a0.95,0.95 0 1,0 -1.9,0M295.54,43.85a0.95,0.95 0 1,0 1.9,0a0.95,0.95 0 1,0 -1.9,0M295.79,44.24a0.95,0.95 0 1,0 1.9,0a0.95,0.95 0 1,0 -1.9,0M296.03,44.86a0.95,0.95 0 1,0 1.9,0a0.95,0.95 0 1,0 -1.9,0M296.28,45.15a0.95,0.95 0 1,0 1.9,0a0.95,0.95 0 1,0 -1.9,0M296.52,45.98a0.95,0.95 0 1,0 1.9,0a0.95,0.95 0 1,0 -1.9,0M296.77,46.20a0.95,0.95 0 1,0 1.9,0a0.95,0.95 0 1,0 -1.9,0M297.02,46.66a0.95,0.95 0 1,0 1.9,0a0.95,0.95 0 1,0 -1.9,0M297.26,47.13a0.95,0.95 0 1,0 1.9,0a0.95,0.95 0 1,0 -1.9,0M297.51,47.02a0.95,0.95 0 1,0 1.9,0a0.95,0.95 0 1,0 -1.9,0M297.75,47.86a0.95,0.95 0 1,0 1.9,0a0.95,0.95 0 1,0 -1.9,0M298.00,48.28a0.95,0.95 0 1,0 1.9,0a0.95,0.95 0 1,0 -1.9,0M298.25,48.87a0.95,0.95 0 1,0 1.9,0a0.95,0.95 0 1,0 -1.9,0M298.49,48.85a0.95,0.95 0 1,0 1.9,0a0.95,0.95 0 1,0 -1.9,0M298.74,50.20a0.95,0.95 0 1,0 1.9,0a0.95,0.95 0 1,0 -1.9,0M298.98,50.20a0.95,0.95 0 1,0 1.9,0a0.95,0.95 0 1,0 -1.9,0M299.23,50.25a0.95,0.95 0 1,0 1.9,0a0.95,0.95 0 1,0 -1.9,0M299.47,50.56a0.95,0.95 0 1,0 1.9,0a0.95,0.95 0 1,0 -1.9,0M299.72,51.44a0.95,0.95 0 1,0 1.9,0a0.95,0.95 0 1,0 -1.9,0M299.97,51.94a0.95,0.95 0 1,0 1.9,0a0.95,0.95 0 1,0 -1.9,0M300.21,52.19a0.95,0.95 0 1,0 1.9,0a0.95,0.95 0 1,0 -1.9,0M300.46,52.87a0.95,0.95 0 1,0 1.9,0a0.95,0.95 0 1,0 -1.9,0M300.70,53.09a0.95,0.95 0 1,0 1.9,0a0.95,0.95 0 1,0 -1.9,0M300.95,53.88a0.95,0.95 0 1,0 1.9,0a0.95,0.95 0 1,0 -1.9,0M301.20,53.94a0.95,0.95 0 1,0 1.9,0a0.95,0.95 0 1,0 -1.9,0M301.44,54.58a0.95,0.95 0 1,0 1.9,0a0.95,0.95 0 1,0 -1.9,0M301.69,55.32a0.95,0.95 0 1,0 1.9,0a0.95,0.95 0 1,0 -1.9,0M301.93,56.24a0.95,0.95 0 1,0 1.9,0a0.95,0.95 0 1,0 -1.9,0M302.18,55.60a0.95,0.95 0 1,0 1.9,0a0.95,0.95 0 1,0 -1.9,0M302.42,56.20a0.95,0.95 0 1,0 1.9,0a0.95,0.95 0 1,0 -1.9,0M302.67,56.52a0.95,0.95 0 1,0 1.9,0a0.95,0.95 0 1,0 -1.9,0M302.92,57.43a0.95,0.95 0 1,0 1.9,0a0.95,0.95 0 1,0 -1.9,0M303.16,57.27a0.95,0.95 0 1,0 1.9,0a0.95,0.95 0 1,0 -1.9,0M303.41,57.90a0.95,0.95 0 1,0 1.9,0a0.95,0.95 0 1,0 -1.9,0M303.65,58.46a0.95,0.95 0 1,0 1.9,0a0.95,0.95 0 1,0 -1.9,0M303.90,58.59a0.95,0.95 0 1,0 1.9,0a0.95,0.95 0 1,0 -1.9,0M304.14,59.02a0.95,0.95 0 1,0 1.9,0a0.95,0.95 0 1,0 -1.9,0M304.39,59.59a0.95,0.95 0 1,0 1.9,0a0.95,0.95 0 1,0 -1.9,0M304.64,59.53a0.95,0.95 0 1,0 1.9,0a0.95,0.95 0 1,0 -1.9,0M304.88,60.15a0.95,0.95 0 1,0 1.9,0a0.95,0.95 0 1,0 -1.9,0M305.13,60.88a0.95,0.95 0 1,0 1.9,0a0.95,0.95 0 1,0 -1.9,0M305.37,61.46a0.95,0.95 0 1,0 1.9,0a0.95,0.95 0 1,0 -1.9,0M305.62,61.77a0.95,0.95 0 1,0 1.9,0a0.95,0.95 0 1,0 -1.9,0M305.87,61.70a0.95,0.95 0 1,0 1.9,0a0.95,0.95 0 1,0 -1.9,0M306.11,62.51a0.95,0.95 0 1,0 1.9,0a0.95,0.95 0 1,0 -1.9,0M306.36,63.30a0.95,0.95 0 1,0 1.9,0a0.95,0.95 0 1,0 -1.9,0M306.60,63.63a0.95,0.95 0 1,0 1.9,0a0.95,0.95 0 1,0 -1.9,0M306.85,63.85a0.95,0.95 0 1,0 1.9,0a0.95,0.95 0 1,0 -1.9,0M307.09,64.02a0.95,0.95 0 1,0 1.9,0a0.95,0.95 0 1,0 -1.9,0M307.34,64.88a0.95,0.95 0 1,0 1.9,0a0.95,0.95 0 1,0 -1.9,0M307.59,64.93a0.95,0.95 0 1,0 1.9,0a0.95,0.95 0 1,0 -1.9,0M307.83,65.16a0.95,0.95 0 1,0 1.9,0a0.95,0.95 0 1,0 -1.9,0M308.08,65.67a0.95,0.95 0 1,0 1.9,0a0.95,0.95 0 1,0 -1.9,0M308.32,66.74a0.95,0.95 0 1,0 1.9,0a0.95,0.95 0 1,0 -1.9,0M308.57,66.77a0.95,0.95 0 1,0 1.9,0a0.95,0.95 0 1,0 -1.9,0M308.82,67.44a0.95,0.95 0 1,0 1.9,0a0.95,0.95 0 1,0 -1.9,0M309.06,67.35a0.95,0.95 0 1,0 1.9,0a0.95,0.95 0 1,0 -1.9,0M309.31,68.17a0.95,0.95 0 1,0 1.9,0a0.95,0.95 0 1,0 -1.9,0M309.55,68.10a0.95,0.95 0 1,0 1.9,0a0.95,0.95 0 1,0 -1.9,0M309.80,68.63a0.95,0.95 0 1,0 1.9,0a0.95,0.95 0 1,0 -1.9,0M310.04,69.82a0.95,0.95 0 1,0 1.9,0a0.95,0.95 0 1,0 -1.9,0M310.29,69.70a0.95,0.95 0 1,0 1.9,0a0.95,0.95 0 1,0 -1.9,0M310.54,69.72a0.95,0.95 0 1,0 1.9,0a0.95,0.95 0 1,0 -1.9,0M310.78,70.22a0.95,0.95 0 1,0 1.9,0a0.95,0.95 0 1,0 -1.9,0M311.03,70.73a0.95,0.95 0 1,0 1.9,0a0.95,0.95 0 1,0 -1.9,0M311.27,71.38a0.95,0.95 0 1,0 1.9,0a0.95,0.95 0 1,0 -1.9,0M311.52,71.25a0.95,0.95 0 1,0 1.9,0a0.95,0.95 0 1,0 -1.9,0M311.77,71.26a0.95,0.95 0 1,0 1.9,0a0.95,0.95 0 1,0 -1.9,0M312.01,72.08a0.95,0.95 0 1,0 1.9,0a0.95,0.95 0 1,0 -1.9,0M312.26,72.55a0.95,0.95 0 1,0 1.9,0a0.95,0.95 0 1,0 -1.9,0M312.50,72.96a0.95,0.95 0 1,0 1.9,0a0.95,0.95 0 1,0 -1.9,0M312.75,73.70a0.95,0.95 0 1,0 1.9,0a0.95,0.95 0 1,0 -1.9,0M312.99,73.79a0.95,0.95 0 1,0 1.9,0a0.95,0.95 0 1,0 -1.9,0M313.24,74.32a0.95,0.95 0 1,0 1.9,0a0.95,0.95 0 1,0 -1.9,0M313.49,74.11a0.95,0.95 0 1,0 1.9,0a0.95,0.95 0 1,0 -1.9,0M313.73,75.07a0.95,0.95 0 1,0 1.9,0a0.95,0.95 0 1,0 -1.9,0M313.98,75.81a0.95,0.95 0 1,0 1.9,0a0.95,0.95 0 1,0 -1.9,0M314.22,75.78a0.95,0.95 0 1,0 1.9,0a0.95,0.95 0 1,0 -1.9,0M314.47,75.99a0.95,0.95 0 1,0 1.9,0a0.95,0.95 0 1,0 -1.9,0M314.71,76.33a0.95,0.95 0 1,0 1.9,0a0.95,0.95 0 1,0 -1.9,0M314.96,77.19a0.95,0.95 0 1,0 1.9,0a0.95,0.95 0 1,0 -1.9,0M315.21,76.75a0.95,0.95 0 1,0 1.9,0a0.95,0.95 0 1,0 -1.9,0M315.45,77.36a0.95,0.95 0 1,0 1.9,0a0.95,0.95 0 1,0 -1.9,0M315.70,77.90a0.95,0.95 0 1,0 1.9,0a0.95,0.95 0 1,0 -1.9,0M315.94,78.35a0.95,0.95 0 1,0 1.9,0a0.95,0.95 0 1,0 -1.9,0M316.19,78.36a0.95,0.95 0 1,0 1.9,0a0.95,0.95 0 1,0 -1.9,0M316.44,78.94a0.95,0.95 0 1,0 1.9,0a0.95,0.95 0 1,0 -1.9,0M316.68,79.12a0.95,0.95 0 1,0 1.9,0a0.95,0.95 0 1,0 -1.9,0M316.93,79.59a0.95,0.95 0 1,0 1.9,0a0.95,0.95 0 1,0 -1.9,0M317.17,79.87a0.95,0.95 0 1,0 1.9,0a0.95,0.95 0 1,0 -1.9,0M317.42,79.93a0.95,0.95 0 1,0 1.9,0a0.95,0.95 0 1,0 -1.9,0M317.66,80.62a0.95,0.95 0 1,0 1.9,0a0.95,0.95 0 1,0 -1.9,0M317.91,81.24a0.95,0.95 0 1,0 1.9,0a0.95,0.95 0 1,0 -1.9,0M318.16,81.05a0.95,0.95 0 1,0 1.9,0a0.95,0.95 0 1,0 -1.9,0M318.40,81.62a0.95,0.95 0 1,0 1.9,0a0.95,0.95 0 1,0 -1.9,0M318.65,82.24a0.95,0.95 0 1,0 1.9,0a0.95,0.95 0 1,0 -1.9,0M318.89,82.07a0.95,0.95 0 1,0 1.9,0a0.95,0.95 0 1,0 -1.9,0M319.14,82.79a0.95,0.95 0 1,0 1.9,0a0.95,0.95 0 1,0 -1.9,0M319.39,82.76a0.95,0.95 0 1,0 1.9,0a0.95,0.95 0 1,0 -1.9,0M319.63,83.76a0.95,0.95 0 1,0 1.9,0a0.95,0.95 0 1,0 -1.9,0M319.88,84.46a0.95,0.95 0 1,0 1.9,0a0.95,0.95 0 1,0 -1.9,0M320.12,84.71a0.95,0.95 0 1,0 1.9,0a0.95,0.95 0 1,0 -1.9,0M320.37,84.39a0.95,0.95 0 1,0 1.9,0a0.95,0.95 0 1,0 -1.9,0M320.61,85.02a0.95,0.95 0 1,0 1.9,0a0.95,0.95 0 1,0 -1.9,0M320.86,85.18a0.95,0.95 0 1,0 1.9,0a0.95,0.95 0 1,0 -1.9,0M321.11,85.51a0.95,0.95 0 1,0 1.9,0a0.95,0.95 0 1,0 -1.9,0M321.35,86.28a0.95,0.95 0 1,0 1.9,0a0.95,0.95 0 1,0 -1.9,0M321.60,85.76a0.95,0.95 0 1,0 1.9,0a0.95,0.95 0 1,0 -1.9,0M321.84,86.80a0.95,0.95 0 1,0 1.9,0a0.95,0.95 0 1,0 -1.9,0M322.09,86.80a0.95,0.95 0 1,0 1.9,0a0.95,0.95 0 1,0 -1.9,0M322.33,87.57a0.95,0.95 0 1,0 1.9,0a0.95,0.95 0 1,0 -1.9,0M322.58,87.53a0.95,0.95 0 1,0 1.9,0a0.95,0.95 0 1,0 -1.9,0M322.83,87.61a0.95,0.95 0 1,0 1.9,0a0.95,0.95 0 1,0 -1.9,0M323.07,88.22a0.95,0.95 0 1,0 1.9,0a0.95,0.95 0 1,0 -1.9,0M323.32,88.69a0.95,0.95 0 1,0 1.9,0a0.95,0.95 0 1,0 -1.9,0M323.56,88.81a0.95,0.95 0 1,0 1.9,0a0.95,0.95 0 1,0 -1.9,0M323.81,89.28a0.95,0.95 0 1,0 1.9,0a0.95,0.95 0 1,0 -1.9,0M324.06,89.30a0.95,0.95 0 1,0 1.9,0a0.95,0.95 0 1,0 -1.9,0M324.30,89.11a0.95,0.95 0 1,0 1.9,0a0.95,0.95 0 1,0 -1.9,0M324.55,90.39a0.95,0.95 0 1,0 1.9,0a0.95,0.95 0 1,0 -1.9,0M324.79,90.65a0.95,0.95 0 1,0 1.9,0a0.95,0.95 0 1,0 -1.9,0M325.04,90.79a0.95,0.95 0 1,0 1.9,0a0.95,0.95 0 1,0 -1.9,0M325.28,91.08a0.95,0.95 0 1,0 1.9,0a0.95,0.95 0 1,0 -1.9,0M325.53,91.76a0.95,0.95 0 1,0 1.9,0a0.95,0.95 0 1,0 -1.9,0M325.78,91.52a0.95,0.95 0 1,0 1.9,0a0.95,0.95 0 1,0 -1.9,0M326.02,91.73a0.95,0.95 0 1,0 1.9,0a0.95,0.95 0 1,0 -1.9,0M326.27,92.25a0.95,0.95 0 1,0 1.9,0a0.95,0.95 0 1,0 -1.9,0M326.51,93.15a0.95,0.95 0 1,0 1.9,0a0.95,0.95 0 1,0 -1.9,0M326.76,92.36a0.95,0.95 0 1,0 1.9,0a0.95,0.95 0 1,0 -1.9,0M327.01,93.80a0.95,0.95 0 1,0 1.9,0a0.95,0.95 0 1,0 -1.9,0M327.25,93.28a0.95,0.95 0 1,0 1.9,0a0.95,0.95 0 1,0 -1.9,0M327.50,93.36a0.95,0.95 0 1,0 1.9,0a0.95,0.95 0 1,0 -1.9,0M327.74,94.80a0.95,0.95 0 1,0 1.9,0a0.95,0.95 0 1,0 -1.9,0M327.99,94.45a0.95,0.95 0 1,0 1.9,0a0.95,0.95 0 1,0 -1.9,0M328.23,94.14a0.95,0.95 0 1,0 1.9,0a0.95,0.95 0 1,0 -1.9,0M328.48,94.93a0.95,0.95 0 1,0 1.9,0a0.95,0.95 0 1,0 -1.9,0M328.73,95.92a0.95,0.95 0 1,0 1.9,0a0.95,0.95 0 1,0 -1.9,0M328.97,96.38a0.95,0.95 0 1,0 1.9,0a0.95,0.95 0 1,0 -1.9,0M329.22,95.80a0.95,0.95 0 1,0 1.9,0a0.95,0.95 0 1,0 -1.9,0M329.46,96.56a0.95,0.95 0 1,0 1.9,0a0.95,0.95 0 1,0 -1.9,0M329.71,97.04a0.95,0.95 0 1,0 1.9,0a0.95,0.95 0 1,0 -1.9,0M329.96,96.54a0.95,0.95 0 1,0 1.9,0a0.95,0.95 0 1,0 -1.9,0M330.20,97.43a0.95,0.95 0 1,0 1.9,0a0.95,0.95 0 1,0 -1.9,0M330.45,97.49a0.95,0.95 0 1,0 1.9,0a0.95,0.95 0 1,0 -1.9,0M330.69,97.47a0.95,0.95 0 1,0 1.9,0a0.95,0.95 0 1,0 -1.9,0M330.94,97.79a0.95,0.95 0 1,0 1.9,0a0.95,0.95 0 1,0 -1.9,0M331.18,98.45a0.95,0.95 0 1,0 1.9,0a0.95,0.95 0 1,0 -1.9,0M331.43,98.72a0.95,0.95 0 1,0 1.9,0a0.95,0.95 0 1,0 -1.9,0M331.68,98.61a0.95,0.95 0 1,0 1.9,0a0.95,0.95 0 1,0 -1.9,0M331.92,98.99a0.95,0.95 0 1,0 1.9,0a0.95,0.95 0 1,0 -1.9,0M332.17,100.36a0.95,0.95 0 1,0 1.9,0a0.95,0.95 0 1,0 -1.9,0M332.41,100.01a0.95,0.95 0 1,0 1.9,0a0.95,0.95 0 1,0 -1.9,0M332.66,100.79a0.95,0.95 0 1,0 1.9,0a0.95,0.95 0 1,0 -1.9,0M332.90,101.32a0.95,0.95 0 1,0 1.9,0a0.95,0.95 0 1,0 -1.9,0M333.15,101.16a0.95,0.95 0 1,0 1.9,0a0.95,0.95 0 1,0 -1.9,0M333.40,102.74a0.95,0.95 0 1,0 1.9,0a0.95,0.95 0 1,0 -1.9,0M333.64,100.64a0.95,0.95 0 1,0 1.9,0a0.95,0.95 0 1,0 -1.9,0M333.89,102.21a0.95,0.95 0 1,0 1.9,0a0.95,0.95 0 1,0 -1.9,0M334.13,101.60a0.95,0.95 0 1,0 1.9,0a0.95,0.95 0 1,0 -1.9,0M334.38,103.65a0.95,0.95 0 1,0 1.9,0a0.95,0.95 0 1,0 -1.9,0M334.63,103.83a0.95,0.95 0 1,0 1.9,0a0.95,0.95 0 1,0 -1.9,0M334.87,101.05a0.95,0.95 0 1,0 1.9,0a0.95,0.95 0 1,0 -1.9,0M335.12,102.14a0.95,0.95 0 1,0 1.9,0a0.95,0.95 0 1,0 -1.9,0M335.36,103.81a0.95,0.95 0 1,0 1.9,0a0.95,0.95 0 1,0 -1.9,0M335.61,104.20a0.95,0.95 0 1,0 1.9,0a0.95,0.95 0 1,0 -1.9,0M335.85,104.44a0.95,0.95 0 1,0 1.9,0a0.95,0.95 0 1,0 -1.9,0M336.10,103.99a0.95,0.95 0 1,0 1.9,0a0.95,0.95 0 1,0 -1.9,0M336.35,104.75a0.95,0.95 0 1,0 1.9,0a0.95,0.95 0 1,0 -1.9,0M336.59,105.21a0.95,0.95 0 1,0 1.9,0a0.95,0.95 0 1,0 -1.9,0M336.84,104.81a0.95,0.95 0 1,0 1.9,0a0.95,0.95 0 1,0 -1.9,0M337.08,106.13a0.95,0.95 0 1,0 1.9,0a0.95,0.95 0 1,0 -1.9,0M337.33,103.24a0.95,0.95 0 1,0 1.9,0a0.95,0.95 0 1,0 -1.9,0M337.58,106.30a0.95,0.95 0 1,0 1.9,0a0.95,0.95 0 1,0 -1.9,0M337.82,104.92a0.95,0.95 0 1,0 1.9,0a0.95,0.95 0 1,0 -1.9,0M338.07,107.17a0.95,0.95 0 1,0 1.9,0a0.95,0.95 0 1,0 -1.9,0M338.31,106.24a0.95,0.95 0 1,0 1.9,0a0.95,0.95 0 1,0 -1.9,0M338.56,105.82a0.95,0.95 0 1,0 1.9,0a0.95,0.95 0 1,0 -1.9,0M338.80,107.39a0.95,0.95 0 1,0 1.9,0a0.95,0.95 0 1,0 -1.9,0M339.05,106.30a0.95,0.95 0 1,0 1.9,0a0.95,0.95 0 1,0 -1.9,0M339.25,106.51a0.95,0.95 0 1,0 1.9,0a0.95,0.95 0 1,0 -1.9,0M339.69,106.25a0.95,0.95 0 1,0 1.9,0a0.95,0.95 0 1,0 -1.9,0M340.12,108.37a0.95,0.95 0 1,0 1.9,0a0.95,0.95 0 1,0 -1.9,0M340.56,109.41a0.95,0.95 0 1,0 1.9,0a0.95,0.95 0 1,0 -1.9,0M341.00,110.47a0.95,0.95 0 1,0 1.9,0a0.95,0.95 0 1,0 -1.9,0M341.44,109.58a0.95,0.95 0 1,0 1.9,0a0.95,0.95 0 1,0 -1.9,0M341.87,111.44a0.95,0.95 0 1,0 1.9,0a0.95,0.95 0 1,0 -1.9,0M342.31,110.67a0.95,0.95 0 1,0 1.9,0a0.95,0.95 0 1,0 -1.9,0M342.75,110.97a0.95,0.95 0 1,0 1.9,0a0.95,0.95 0 1,0 -1.9,0M343.19,112.24a0.95,0.95 0 1,0 1.9,0a0.95,0.95 0 1,0 -1.9,0M343.62,113.30a0.95,0.95 0 1,0 1.9,0a0.95,0.95 0 1,0 -1.9,0M344.06,111.93a0.95,0.95 0 1,0 1.9,0a0.95,0.95 0 1,0 -1.9,0M344.50,112.48a0.95,0.95 0 1,0 1.9,0a0.95,0.95 0 1,0 -1.9,0M344.94,113.01a0.95,0.95 0 1,0 1.9,0a0.95,0.95 0 1,0 -1.9,0M345.37,113.78a0.95,0.95 0 1,0 1.9,0a0.95,0.95 0 1,0 -1.9,0M345.81,112.69a0.95,0.95 0 1,0 1.9,0a0.95,0.95 0 1,0 -1.9,0M346.25,116.13a0.95,0.95 0 1,0 1.9,0a0.95,0.95 0 1,0 -1.9,0M346.69,114.24a0.95,0.95 0 1,0 1.9,0a0.95,0.95 0 1,0 -1.9,0M347.12,116.11a0.95,0.95 0 1,0 1.9,0a0.95,0.95 0 1,0 -1.9,0M347.56,114.26a0.95,0.95 0 1,0 1.9,0a0.95,0.95 0 1,0 -1.9,0M348.00,116.79a0.95,0.95 0 1,0 1.9,0a0.95,0.95 0 1,0 -1.9,0M348.44,117.27a0.95,0.95 0 1,0 1.9,0a0.95,0.95 0 1,0 -1.9,0M348.87,116.11a0.95,0.95 0 1,0 1.9,0a0.95,0.95 0 1,0 -1.9,0M349.31,121.38a0.95,0.95 0 1,0 1.9,0a0.95,0.95 0 1,0 -1.9,0M349.75,118.49a0.95,0.95 0 1,0 1.9,0a0.95,0.95 0 1,0 -1.9,0M350.19,121.90a0.95,0.95 0 1,0 1.9,0a0.95,0.95 0 1,0 -1.9,0M350.62,120.60a0.95,0.95 0 1,0 1.9,0a0.95,0.95 0 1,0 -1.9,0M351.06,117.40a0.95,0.95 0 1,0 1.9,0a0.95,0.95 0 1,0 -1.9,0M351.50,118.38a0.95,0.95 0 1,0 1.9,0a0.95,0.95 0 1,0 -1.9,0M351.94,120.67a0.95,0.95 0 1,0 1.9,0a0.95,0.95 0 1,0 -1.9,0M352.37,120.17a0.95,0.95 0 1,0 1.9,0a0.95,0.95 0 1,0 -1.9,0M352.81,120.52a0.95,0.95 0 1,0 1.9,0a0.95,0.95 0 1,0 -1.9,0M353.25,120.05a0.95,0.95 0 1,0 1.9,0a0.95,0.95 0 1,0 -1.9,0M353.69,116.43a0.95,0.95 0 1,0 1.9,0a0.95,0.95 0 1,0 -1.9,0M354.12,120.90a0.95,0.95 0 1,0 1.9,0a0.95,0.95 0 1,0 -1.9,0M354.56,115.83a0.95,0.95 0 1,0 1.9,0a0.95,0.95 0 1,0 -1.9,0M355.00,123.26a0.95,0.95 0 1,0 1.9,0a0.95,0.95 0 1,0 -1.9,0M355.44,120.53a0.95,0.95 0 1,0 1.9,0a0.95,0.95 0 1,0 -1.9,0M355.87,120.88a0.95,0.95 0 1,0 1.9,0a0.95,0.95 0 1,0 -1.9,0M356.31,122.65a0.95,0.95 0 1,0 1.9,0a0.95,0.95 0 1,0 -1.9,0M356.75,124.46a0.95,0.95 0 1,0 1.9,0a0.95,0.95 0 1,0 -1.9,0M357.19,119.59a0.95,0.95 0 1,0 1.9,0a0.95,0.95 0 1,0 -1.9,0M357.62,118.86a0.95,0.95 0 1,0 1.9,0a0.95,0.95 0 1,0 -1.9,0M358.06,121.28a0.95,0.95 0 1,0 1.9,0a0.95,0.95 0 1,0 -1.9,0M358.50,118.39a0.95,0.95 0 1,0 1.9,0a0.95,0.95 0 1,0 -1.9,0M358.94,122.16a0.95,0.95 0 1,0 1.9,0a0.95,0.95 0 1,0 -1.9,0M359.37,131.05a0.95,0.95 0 1,0 1.9,0a0.95,0.95 0 1,0 -1.9,0M359.81,122.40a0.95,0.95 0 1,0 1.9,0a0.95,0.95 0 1,0 -1.9,0M360.25,128.62a0.95,0.95 0 1,0 1.9,0a0.95,0.95 0 1,0 -1.9,0M360.69,121.82a0.95,0.95 0 1,0 1.9,0a0.95,0.95 0 1,0 -1.9,0M361.12,128.09a0.95,0.95 0 1,0 1.9,0a0.95,0.95 0 1,0 -1.9,0M361.56,126.16a0.95,0.95 0 1,0 1.9,0a0.95,0.95 0 1,0 -1.9,0M362.00,127.42a0.95,0.95 0 1,0 1.9,0a0.95,0.95 0 1,0 -1.9,0M362.44,130.11a0.95,0.95 0 1,0 1.9,0a0.95,0.95 0 1,0 -1.9,0M362.87,135.02a0.95,0.95 0 1,0 1.9,0a0.95,0.95 0 1,0 -1.9,0M363.31,129.35a0.95,0.95 0 1,0 1.9,0a0.95,0.95 0 1,0 -1.9,0M363.75,129.40a0.95,0.95 0 1,0 1.9,0a0.95,0.95 0 1,0 -1.9,0M364.19,125.32a0.95,0.95 0 1,0 1.9,0a0.95,0.95 0 1,0 -1.9,0M364.62,131.85a0.95,0.95 0 1,0 1.9,0a0.95,0.95 0 1,0 -1.9,0M365.06,128.83a0.95,0.95 0 1,0 1.9,0a0.95,0.95 0 1,0 -1.9,0M365.50,133.46a0.95,0.95 0 1,0 1.9,0a0.95,0.95 0 1,0 -1.9,0M365.94,130.24a0.95,0.95 0 1,0 1.9,0a0.95,0.95 0 1,0 -1.9,0M366.37,137.74a0.95,0.95 0 1,0 1.9,0a0.95,0.95 0 1,0 -1.9,0M366.81,123.00a0.95,0.95 0 1,0 1.9,0a0.95,0.95 0 1,0 -1.9,0M367.25,130.10a0.95,0.95 0 1,0 1.9,0a0.95,0.95 0 1,0 -1.9,0M367.69,135.16a0.95,0.95 0 1,0 1.9,0a0.95,0.95 0 1,0 -1.9,0M368.12,130.45a0.95,0.95 0 1,0 1.9,0a0.95,0.95 0 1,0 -1.9,0M368.56,128.94a0.95,0.95 0 1,0 1.9,0a0.95,0.95 0 1,0 -1.9,0M369.00,131.36a0.95,0.95 0 1,0 1.9,0a0.95,0.95 0 1,0 -1.9,0M369.44,127.10a0.95,0.95 0 1,0 1.9,0a0.95,0.95 0 1,0 -1.9,0M369.87,133.48a0.95,0.95 0 1,0 1.9,0a0.95,0.95 0 1,0 -1.9,0M370.31,143.25a0.95,0.95 0 1,0 1.9,0a0.95,0.95 0 1,0 -1.9,0M370.75,138.23a0.95,0.95 0 1,0 1.9,0a0.95,0.95 0 1,0 -1.9,0M371.19,129.27a0.95,0.95 0 1,0 1.9,0a0.95,0.95 0 1,0 -1.9,0M371.62,130.50a0.95,0.95 0 1,0 1.9,0a0.95,0.95 0 1,0 -1.9,0M372.06,132.69a0.95,0.95 0 1,0 1.9,0a0.95,0.95 0 1,0 -1.9,0M372.50,138.76a0.95,0.95 0 1,0 1.9,0a0.95,0.95 0 1,0 -1.9,0M372.93,131.49a0.95,0.95 0 1,0 1.9,0a0.95,0.95 0 1,0 -1.9,0M373.37,132.28a0.95,0.95 0 1,0 1.9,0a0.95,0.95 0 1,0 -1.9,0M373.81,139.06a0.95,0.95 0 1,0 1.9,0a0.95,0.95 0 1,0 -1.9,0M374.25,139.24a0.95,0.95 0 1,0 1.9,0a0.95,0.95 0 1,0 -1.9,0M374.68,134.36a0.95,0.95 0 1,0 1.9,0a0.95,0.95 0 1,0 -1.9,0M375.12,131.51a0.95,0.95 0 1,0 1.9,0a0.95,0.95 0 1,0 -1.9,0M375.56,129.95a0.95,0.95 0 1,0 1.9,0a0.95,0.95 0 1,0 -1.9,0M376.00,133.74a0.95,0.95 0 1,0 1.9,0a0.95,0.95 0 1,0 -1.9,0M376.43,127.58a0.95,0.95 0 1,0 1.9,0a0.95,0.95 0 1,0 -1.9,0M376.87,140.28a0.95,0.95 0 1,0 1.9,0a0.95,0.95 0 1,0 -1.9,0M377.31,134.75a0.95,0.95 0 1,0 1.9,0a0.95,0.95 0 1,0 -1.9,0M377.75,139.64a0.95,0.95 0 1,0 1.9,0a0.95,0.95 0 1,0 -1.9,0M378.18,145.71a0.95,0.95 0 1,0 1.9,0a0.95,0.95 0 1,0 -1.9,0M378.62,143.03a0.95,0.95 0 1,0 1.9,0a0.95,0.95 0 1,0 -1.9,0M379.06,133.47a0.95,0.95 0 1,0 1.9,0a0.95,0.95 0 1,0 -1.9,0M379.50,142.23a0.95,0.95 0 1,0 1.9,0a0.95,0.95 0 1,0 -1.9,0M379.93,143.68a0.95,0.95 0 1,0 1.9,0a0.95,0.95 0 1,0 -1.9,0M380.37,135.85a0.95,0.95 0 1,0 1.9,0a0.95,0.95 0 1,0 -1.9,0M380.81,135.19a0.95,0.95 0 1,0 1.9,0a0.95,0.95 0 1,0 -1.9,0M381.25,138.99a0.95,0.95 0 1,0 1.9,0a0.95,0.95 0 1,0 -1.9,0M381.68,132.87a0.95,0.95 0 1,0 1.9,0a0.95,0.95 0 1,0 -1.9,0M382.12,146.16a0.95,0.95 0 1,0 1.9,0a0.95,0.95 0 1,0 -1.9,0M382.56,129.86a0.95,0.95 0 1,0 1.9,0a0.95,0.95 0 1,0 -1.9,0M383.00,135.60a0.95,0.95 0 1,0 1.9,0a0.95,0.95 0 1,0 -1.9,0M383.43,139.38a0.95,0.95 0 1,0 1.9,0a0.95,0.95 0 1,0 -1.9,0M383.87,139.77a0.95,0.95 0 1,0 1.9,0a0.95,0.95 0 1,0 -1.9,0M384.31,141.67a0.95,0.95 0 1,0 1.9,0a0.95,0.95 0 1,0 -1.9,0M384.75,142.33a0.95,0.95 0 1,0 1.9,0a0.95,0.95 0 1,0 -1.9,0M385.18,140.46a0.95,0.95 0 1,0 1.9,0a0.95,0.95 0 1,0 -1.9,0M385.62,146.47a0.95,0.95 0 1,0 1.9,0a0.95,0.95 0 1,0 -1.9,0M386.06,132.54a0.95,0.95 0 1,0 1.9,0a0.95,0.95 0 1,0 -1.9,0M386.50,141.97a0.95,0.95 0 1,0 1.9,0a0.95,0.95 0 1,0 -1.9,0M386.93,139.08a0.95,0.95 0 1,0 1.9,0a0.95,0.95 0 1,0 -1.9,0M387.37,142.94a0.95,0.95 0 1,0 1.9,0a0.95,0.95 0 1,0 -1.9,0M387.81,143.52a0.95,0.95 0 1,0 1.9,0a0.95,0.95 0 1,0 -1.9,0M388.25,138.79a0.95,0.95 0 1,0 1.9,0a0.95,0.95 0 1,0 -1.9,0M388.68,140.15a0.95,0.95 0 1,0 1.9,0a0.95,0.95 0 1,0 -1.9,0M389.12,146.58a0.95,0.95 0 1,0 1.9,0a0.95,0.95 0 1,0 -1.9,0M389.56,144.83a0.95,0.95 0 1,0 1.9,0a0.95,0.95 0 1,0 -1.9,0M390.00,140.52a0.95,0.95 0 1,0 1.9,0a0.95,0.95 0 1,0 -1.9,0M390.43,152.61a0.95,0.95 0 1,0 1.9,0a0.95,0.95 0 1,0 -1.9,0M390.87,153.98a0.95,0.95 0 1,0 1.9,0a0.95,0.95 0 1,0 -1.9,0M391.31,137.62a0.95,0.95 0 1,0 1.9,0a0.95,0.95 0 1,0 -1.9,0M391.75,145.54a0.95,0.95 0 1,0 1.9,0a0.95,0.95 0 1,0 -1.9,0M392.18,155.43a0.95,0.95 0 1,0 1.9,0a0.95,0.95 0 1,0 -1.9,0M392.62,148.02a0.95,0.95 0 1,0 1.9,0a0.95,0.95 0 1,0 -1.9,0M393.06,145.71a0.95,0.95 0 1,0 1.9,0a0.95,0.95 0 1,0 -1.9,0M393.50,143.99a0.95,0.95 0 1,0 1.9,0a0.95,0.95 0 1,0 -1.9,0M393.93,142.67a0.95,0.95 0 1,0 1.9,0a0.95,0.95 0 1,0 -1.9,0M394.37,144.29a0.95,0.95 0 1,0 1.9,0a0.95,0.95 0 1,0 -1.9,0M394.81,142.96a0.95,0.95 0 1,0 1.9,0a0.95,0.95 0 1,0 -1.9,0M395.25,148.88a0.95,0.95 0 1,0 1.9,0a0.95,0.95 0 1,0 -1.9,0M395.68,143.96a0.95,0.95 0 1,0 1.9,0a0.95,0.95 0 1,0 -1.9,0M396.12,143.92a0.95,0.95 0 1,0 1.9,0a0.95,0.95 0 1,0 -1.9,0M396.56,140.68a0.95,0.95 0 1,0 1.9,0a0.95,0.95 0 1,0 -1.9,0M397.00,145.98a0.95,0.95 0 1,0 1.9,0a0.95,0.95 0 1,0 -1.9,0M397.43,142.35a0.95,0.95 0 1,0 1.9,0a0.95,0.95 0 1,0 -1.9,0M397.87,145.70a0.95,0.95 0 1,0 1.9,0a0.95,0.95 0 1,0 -1.9,0M398.31,151.34a0.95,0.95 0 1,0 1.9,0a0.95,0.95 0 1,0 -1.9,0M398.75,148.46a0.95,0.95 0 1,0 1.9,0a0.95,0.95 0 1,0 -1.9,0M399.18,149.18a0.95,0.95 0 1,0 1.9,0a0.95,0.95 0 1,0 -1.9,0M399.62,148.67a0.95,0.95 0 1,0 1.9,0a0.95,0.95 0 1,0 -1.9,0M400.06,147.51a0.95,0.95 0 1,0 1.9,0a0.95,0.95 0 1,0 -1.9,0M400.50,146.83a0.95,0.95 0 1,0 1.9,0a0.95,0.95 0 1,0 -1.9,0M400.93,146.18a0.95,0.95 0 1,0 1.9,0a0.95,0.95 0 1,0 -1.9,0M401.37,151.01a0.95,0.95 0 1,0 1.9,0a0.95,0.95 0 1,0 -1.9,0M401.81,143.04a0.95,0.95 0 1,0 1.9,0a0.95,0.95 0 1,0 -1.9,0M402.25,153.84a0.95,0.95 0 1,0 1.9,0a0.95,0.95 0 1,0 -1.9,0M402.68,148.23a0.95,0.95 0 1,0 1.9,0a0.95,0.95 0 1,0 -1.9,0M403.12,144.92a0.95,0.95 0 1,0 1.9,0a0.95,0.95 0 1,0 -1.9,0M403.56,146.20a0.95,0.95 0 1,0 1.9,0a0.95,0.95 0 1,0 -1.9,0M404.00,145.50a0.95,0.95 0 1,0 1.9,0a0.95,0.95 0 1,0 -1.9,0M404.43,149.31a0.95,0.95 0 1,0 1.9,0a0.95,0.95 0 1,0 -1.9,0M404.87,145.58a0.95,0.95 0 1,0 1.9,0a0.95,0.95 0 1,0 -1.9,0M405.31,153.89a0.95,0.95 0 1,0 1.9,0a0.95,0.95 0 1,0 -1.9,0M405.74,145.55a0.95,0.95 0 1,0 1.9,0a0.95,0.95 0 1,0 -1.9,0M406.18,139.11a0.95,0.95 0 1,0 1.9,0a0.95,0.95 0 1,0 -1.9,0M406.62,146.02a0.95,0.95 0 1,0 1.9,0a0.95,0.95 0 1,0 -1.9,0M407.06,140.51a0.95,0.95 0 1,0 1.9,0a0.95,0.95 0 1,0 -1.9,0M407.49,149.29a0.95,0.95 0 1,0 1.9,0a0.95,0.95 0 1,0 -1.9,0M407.93,154.25a0.95,0.95 0 1,0 1.9,0a0.95,0.95 0 1,0 -1.9,0M408.37,152.55a0.95,0.95 0 1,0 1.9,0a0.95,0.95 0 1,0 -1.9,0M408.81,143.94a0.95,0.95 0 1,0 1.9,0a0.95,0.95 0 1,0 -1.9,0M409.24,146.58a0.95,0.95 0 1,0 1.9,0a0.95,0.95 0 1,0 -1.9,0M409.68,157.87a0.95,0.95 0 1,0 1.9,0a0.95,0.95 0 1,0 -1.9,0M410.12,151.55a0.95,0.95 0 1,0 1.9,0a0.95,0.95 0 1,0 -1.9,0M410.56,150.28a0.95,0.95 0 1,0 1.9,0a0.95,0.95 0 1,0 -1.9,0M410.99,155.02a0.95,0.95 0 1,0 1.9,0a0.95,0.95 0 1,0 -1.9,0M411.43,161.27a0.95,0.95 0 1,0 1.9,0a0.95,0.95 0 1,0 -1.9,0M411.87,156.29a0.95,0.95 0 1,0 1.9,0a0.95,0.95 0 1,0 -1.9,0M412.31,151.30a0.95,0.95 0 1,0 1.9,0a0.95,0.95 0 1,0 -1.9,0M412.74,152.35a0.95,0.95 0 1,0 1.9,0a0.95,0.95 0 1,0 -1.9,0M413.18,153.60a0.95,0.95 0 1,0 1.9,0a0.95,0.95 0 1,0 -1.9,0M413.62,148.29a0.95,0.95 0 1,0 1.9,0a0.95,0.95 0 1,0 -1.9,0M414.06,146.43a0.95,0.95 0 1,0 1.9,0a0.95,0.95 0 1,0 -1.9,0M414.49,151.42a0.95,0.95 0 1,0 1.9,0a0.95,0.95 0 1,0 -1.9,0M414.93,147.11a0.95,0.95 0 1,0 1.9,0a0.95,0.95 0 1,0 -1.9,0M415.37,151.10a0.95,0.95 0 1,0 1.9,0a0.95,0.95 0 1,0 -1.9,0M415.81,151.89a0.95,0.95 0 1,0 1.9,0a0.95,0.95 0 1,0 -1.9,0M416.24,161.86a0.95,0.95 0 1,0 1.9,0a0.95,0.95 0 1,0 -1.9,0M416.68,147.91a0.95,0.95 0 1,0 1.9,0a0.95,0.95 0 1,0 -1.9,0M417.12,151.21a0.95,0.95 0 1,0 1.9,0a0.95,0.95 0 1,0 -1.9,0M417.56,151.10a0.95,0.95 0 1,0 1.9,0a0.95,0.95 0 1,0 -1.9,0M417.99,153.84a0.95,0.95 0 1,0 1.9,0a0.95,0.95 0 1,0 -1.9,0M418.43,156.60a0.95,0.95 0 1,0 1.9,0a0.95,0.95 0 1,0 -1.9,0M418.87,149.92a0.95,0.95 0 1,0 1.9,0a0.95,0.95 0 1,0 -1.9,0M419.31,148.55a0.95,0.95 0 1,0 1.9,0a0.95,0.95 0 1,0 -1.9,0M419.74,145.03a0.95,0.95 0 1,0 1.9,0a0.95,0.95 0 1,0 -1.9,0M420.18,148.26a0.95,0.95 0 1,0 1.9,0a0.95,0.95 0 1,0 -1.9,0M420.62,154.77a0.95,0.95 0 1,0 1.9,0a0.95,0.95 0 1,0 -1.9,0M421.06,152.69a0.95,0.95 0 1,0 1.9,0a0.95,0.95 0 1,0 -1.9,0M421.49,148.10a0.95,0.95 0 1,0 1.9,0a0.95,0.95 0 1,0 -1.9,0M421.93,151.00a0.95,0.95 0 1,0 1.9,0a0.95,0.95 0 1,0 -1.9,0M422.37,152.86a0.95,0.95 0 1,0 1.9,0a0.95,0.95 0 1,0 -1.9,0M422.81,155.01a0.95,0.95 0 1,0 1.9,0a0.95,0.95 0 1,0 -1.9,0M423.24,150.25a0.95,0.95 0 1,0 1.9,0a0.95,0.95 0 1,0 -1.9,0M423.68,151.83a0.95,0.95 0 1,0 1.9,0a0.95,0.95 0 1,0 -1.9,0M424.12,145.00a0.95,0.95 0 1,0 1.9,0a0.95,0.95 0 1,0 -1.9,0M424.56,148.01a0.95,0.95 0 1,0 1.9,0a0.95,0.95 0 1,0 -1.9,0M424.99,160.27a0.95,0.95 0 1,0 1.9,0a0.95,0.95 0 1,0 -1.9,0M425.43,143.59a0.95,0.95 0 1,0 1.9,0a0.95,0.95 0 1,0 -1.9,0M425.87,151.79a0.95,0.95 0 1,0 1.9,0a0.95,0.95 0 1,0 -1.9,0M426.31,154.31a0.95,0.95 0 1,0 1.9,0a0.95,0.95 0 1,0 -1.9,0M426.74,151.76a0.95,0.95 0 1,0 1.9,0a0.95,0.95 0 1,0 -1.9,0M427.18,149.92a0.95,0.95 0 1,0 1.9,0a0.95,0.95 0 1,0 -1.9,0M427.62,153.27a0.95,0.95 0 1,0 1.9,0a0.95,0.95 0 1,0 -1.9,0M428.06,153.58a0.95,0.95 0 1,0 1.9,0a0.95,0.95 0 1,0 -1.9,0M428.49,153.30a0.95,0.95 0 1,0 1.9,0a0.95,0.95 0 1,0 -1.9,0M428.93,145.45a0.95,0.95 0 1,0 1.9,0a0.95,0.95 0 1,0 -1.9,0M429.37,153.13a0.95,0.95 0 1,0 1.9,0a0.95,0.95 0 1,0 -1.9,0M429.81,150.07a0.95,0.95 0 1,0 1.9,0a0.95,0.95 0 1,0 -1.9,0M430.24,151.48a0.95,0.95 0 1,0 1.9,0a0.95,0.95 0 1,0 -1.9,0M430.68,154.95a0.95,0.95 0 1,0 1.9,0a0.95,0.95 0 1,0 -1.9,0M431.12,156.82a0.95,0.95 0 1,0 1.9,0a0.95,0.95 0 1,0 -1.9,0M431.56,158.00a0.95,0.95 0 1,0 1.9,0a0.95,0.95 0 1,0 -1.9,0M431.99,151.92a0.95,0.95 0 1,0 1.9,0a0.95,0.95 0 1,0 -1.9,0M432.43,158.22a0.95,0.95 0 1,0 1.9,0a0.95,0.95 0 1,0 -1.9,0M432.87,159.37a0.95,0.95 0 1,0 1.9,0a0.95,0.95 0 1,0 -1.9,0M433.31,159.26a0.95,0.95 0 1,0 1.9,0a0.95,0.95 0 1,0 -1.9,0M433.74,160.42a0.95,0.95 0 1,0 1.9,0a0.95,0.95 0 1,0 -1.9,0M434.18,153.71a0.95,0.95 0 1,0 1.9,0a0.95,0.95 0 1,0 -1.9,0M434.62,153.64a0.95,0.95 0 1,0 1.9,0a0.95,0.95 0 1,0 -1.9,0M435.06,158.08a0.95,0.95 0 1,0 1.9,0a0.95,0.95 0 1,0 -1.9,0M435.49,148.48a0.95,0.95 0 1,0 1.9,0a0.95,0.95 0 1,0 -1.9,0M435.93,155.46a0.95,0.95 0 1,0 1.9,0a0.95,0.95 0 1,0 -1.9,0M436.37,152.25a0.95,0.95 0 1,0 1.9,0a0.95,0.95 0 1,0 -1.9,0M436.81,153.00a0.95,0.95 0 1,0 1.9,0a0.95,0.95 0 1,0 -1.9,0M437.24,147.01a0.95,0.95 0 1,0 1.9,0a0.95,0.95 0 1,0 -1.9,0M437.68,150.79a0.95,0.95 0 1,0 1.9,0a0.95,0.95 0 1,0 -1.9,0M438.12,154.66a0.95,0.95 0 1,0 1.9,0a0.95,0.95 0 1,0 -1.9,0M438.56,158.70a0.95,0.95 0 1,0 1.9,0a0.95,0.95 0 1,0 -1.9,0M438.99,159.19a0.95,0.95 0 1,0 1.9,0a0.95,0.95 0 1,0 -1.9,0M439.43,154.52a0.95,0.95 0 1,0 1.9,0a0.95,0.95 0 1,0 -1.9,0M439.87,154.08a0.95,0.95 0 1,0 1.9,0a0.95,0.95 0 1,0 -1.9,0M440.30,151.29a0.95,0.95 0 1,0 1.9,0a0.95,0.95 0 1,0 -1.9,0M440.74,156.75a0.95,0.95 0 1,0 1.9,0a0.95,0.95 0 1,0 -1.9,0M441.18,153.93a0.95,0.95 0 1,0 1.9,0a0.95,0.95 0 1,0 -1.9,0M441.62,157.72a0.95,0.95 0 1,0 1.9,0a0.95,0.95 0 1,0 -1.9,0M442.05,162.79a0.95,0.95 0 1,0 1.9,0a0.95,0.95 0 1,0 -1.9,0M442.49,154.98a0.95,0.95 0 1,0 1.9,0a0.95,0.95 0 1,0 -1.9,0M442.93,148.56a0.95,0.95 0 1,0 1.9,0a0.95,0.95 0 1,0 -1.9,0M443.37,151.40a0.95,0.95 0 1,0 1.9,0a0.95,0.95 0 1,0 -1.9,0M443.80,148.80a0.95,0.95 0 1,0 1.9,0a0.95,0.95 0 1,0 -1.9,0M444.24,149.98a0.95,0.95 0 1,0 1.9,0a0.95,0.95 0 1,0 -1.9,0M444.68,161.02a0.95,0.95 0 1,0 1.9,0a0.95,0.95 0 1,0 -1.9,0M445.12,156.30a0.95,0.95 0 1,0 1.9,0a0.95,0.95 0 1,0 -1.9,0M445.55,148.65a0.95,0.95 0 1,0 1.9,0a0.95,0.95 0 1,0 -1.9,0M445.99,158.24a0.95,0.95 0 1,0 1.9,0a0.95,0.95 0 1,0 -1.9,0M446.43,160.94a0.95,0.95 0 1,0 1.9,0a0.95,0.95 0 1,0 -1.9,0M446.87,153.84a0.95,0.95 0 1,0 1.9,0a0.95,0.95 0 1,0 -1.9,0M447.30,152.47a0.95,0.95 0 1,0 1.9,0a0.95,0.95 0 1,0 -1.9,0M447.74,153.99a0.95,0.95 0 1,0 1.9,0a0.95,0.95 0 1,0 -1.9,0M448.18,156.75a0.95,0.95 0 1,0 1.9,0a0.95,0.95 0 1,0 -1.9,0M448.62,158.34a0.95,0.95 0 1,0 1.9,0a0.95,0.95 0 1,0 -1.9,0M449.05,160.75a0.95,0.95 0 1,0 1.9,0a0.95,0.95 0 1,0 -1.9,0M449.49,160.91a0.95,0.95 0 1,0 1.9,0a0.95,0.95 0 1,0 -1.9,0M449.93,160.81a0.95,0.95 0 1,0 1.9,0a0.95,0.95 0 1,0 -1.9,0M450.37,161.61a0.95,0.95 0 1,0 1.9,0a0.95,0.95 0 1,0 -1.9,0M450.80,158.55a0.95,0.95 0 1,0 1.9,0a0.95,0.95 0 1,0 -1.9,0M451.24,148.92a0.95,0.95 0 1,0 1.9,0a0.95,0.95 0 1,0 -1.9,0M451.68,155.11a0.95,0.95 0 1,0 1.9,0a0.95,0.95 0 1,0 -1.9,0M452.12,157.08a0.95,0.95 0 1,0 1.9,0a0.95,0.95 0 1,0 -1.9,0M452.55,154.03a0.95,0.95 0 1,0 1.9,0a0.95,0.95 0 1,0 -1.9,0M452.99,159.75a0.95,0.95 0 1,0 1.9,0a0.95,0.95 0 1,0 -1.9,0M453.43,154.17a0.95,0.95 0 1,0 1.9,0a0.95,0.95 0 1,0 -1.9,0M453.87,151.71a0.95,0.95 0 1,0 1.9,0a0.95,0.95 0 1,0 -1.9,0M454.30,162.15a0.95,0.95 0 1,0 1.9,0a0.95,0.95 0 1,0 -1.9,0M454.74,158.75a0.95,0.95 0 1,0 1.9,0a0.95,0.95 0 1,0 -1.9,0M455.18,156.80a0.95,0.95 0 1,0 1.9,0a0.95,0.95 0 1,0 -1.9,0M455.62,159.93a0.95,0.95 0 1,0 1.9,0a0.95,0.95 0 1,0 -1.9,0M456.05,160.54a0.95,0.95 0 1,0 1.9,0a0.95,0.95 0 1,0 -1.9,0M456.49,157.38a0.95,0.95 0 1,0 1.9,0a0.95,0.95 0 1,0 -1.9,0M456.93,145.08a0.95,0.95 0 1,0 1.9,0a0.95,0.95 0 1,0 -1.9,0M457.37,152.94a0.95,0.95 0 1,0 1.9,0a0.95,0.95 0 1,0 -1.9,0M457.80,153.92a0.95,0.95 0 1,0 1.9,0a0.95,0.95 0 1,0 -1.9,0M458.24,151.61a0.95,0.95 0 1,0 1.9,0a0.95,0.95 0 1,0 -1.9,0M458.68,156.83a0.95,0.95 0 1,0 1.9,0a0.95,0.95 0 1,0 -1.9,0M459.12,161.22a0.95,0.95 0 1,0 1.9,0a0.95,0.95 0 1,0 -1.9,0M459.55,153.85a0.95,0.95 0 1,0 1.9,0a0.95,0.95 0 1,0 -1.9,0M459.99,151.01a0.95,0.95 0 1,0 1.9,0a0.95,0.95 0 1,0 -1.9,0M460.43,163.60a0.95,0.95 0 1,0 1.9,0a0.95,0.95 0 1,0 -1.9,0M460.87,154.04a0.95,0.95 0 1,0 1.9,0a0.95,0.95 0 1,0 -1.9,0M461.30,150.61a0.95,0.95 0 1,0 1.9,0a0.95,0.95 0 1,0 -1.9,0M461.74,157.09a0.95,0.95 0 1,0 1.9,0a0.95,0.95 0 1,0 -1.9,0M462.18,157.93a0.95,0.95 0 1,0 1.9,0a0.95,0.95 0 1,0 -1.9,0M462.62,152.97a0.95,0.95 0 1,0 1.9,0a0.95,0.95 0 1,0 -1.9,0M463.05,159.56a0.95,0.95 0 1,0 1.9,0a0.95,0.95 0 1,0 -1.9,0M463.49,153.95a0.95,0.95 0 1,0 1.9,0a0.95,0.95 0 1,0 -1.9,0M463.93,152.04a0.95,0.95 0 1,0 1.9,0a0.95,0.95 0 1,0 -1.9,0M464.37,156.90a0.95,0.95 0 1,0 1.9,0a0.95,0.95 0 1,0 -1.9,0M464.80,159.52a0.95,0.95 0 1,0 1.9,0a0.95,0.95 0 1,0 -1.9,0M465.24,153.35a0.95,0.95 0 1,0 1.9,0a0.95,0.95 0 1,0 -1.9,0M465.68,157.60a0.95,0.95 0 1,0 1.9,0a0.95,0.95 0 1,0 -1.9,0M466.12,155.75a0.95,0.95 0 1,0 1.9,0a0.95,0.95 0 1,0 -1.9,0M466.55,163.60a0.95,0.95 0 1,0 1.9,0a0.95,0.95 0 1,0 -1.9,0M466.99,153.06a0.95,0.95 0 1,0 1.9,0a0.95,0.95 0 1,0 -1.9,0M467.43,162.28a0.95,0.95 0 1,0 1.9,0a0.95,0.95 0 1,0 -1.9,0M467.87,155.97a0.95,0.95 0 1,0 1.9,0a0.95,0.95 0 1,0 -1.9,0M468.30,155.65a0.95,0.95 0 1,0 1.9,0a0.95,0.95 0 1,0 -1.9,0M468.74,159.39a0.95,0.95 0 1,0 1.9,0a0.95,0.95 0 1,0 -1.9,0M469.18,160.16a0.95,0.95 0 1,0 1.9,0a0.95,0.95 0 1,0 -1.9,0M469.62,161.81a0.95,0.95 0 1,0 1.9,0a0.95,0.95 0 1,0 -1.9,0M470.05,157.69a0.95,0.95 0 1,0 1.9,0a0.95,0.95 0 1,0 -1.9,0M470.49,153.61a0.95,0.95 0 1,0 1.9,0a0.95,0.95 0 1,0 -1.9,0M470.93,153.89a0.95,0.95 0 1,0 1.9,0a0.95,0.95 0 1,0 -1.9,0M471.37,158.51a0.95,0.95 0 1,0 1.9,0a0.95,0.95 0 1,0 -1.9,0M471.80,158.83a0.95,0.95 0 1,0 1.9,0a0.95,0.95 0 1,0 -1.9,0M472.24,162.43a0.95,0.95 0 1,0 1.9,0a0.95,0.95 0 1,0 -1.9,0M472.68,158.13a0.95,0.95 0 1,0 1.9,0a0.95,0.95 0 1,0 -1.9,0M473.11,160.96a0.95,0.95 0 1,0 1.9,0a0.95,0.95 0 1,0 -1.9,0M473.55,162.98a0.95,0.95 0 1,0 1.9,0a0.95,0.95 0 1,0 -1.9,0M473.99,157.04a0.95,0.95 0 1,0 1.9,0a0.95,0.95 0 1,0 -1.9,0M474.43,149.79a0.95,0.95 0 1,0 1.9,0a0.95,0.95 0 1,0 -1.9,0M474.86,151.14a0.95,0.95 0 1,0 1.9,0a0.95,0.95 0 1,0 -1.9,0M475.30,150.01a0.95,0.95 0 1,0 1.9,0a0.95,0.95 0 1,0 -1.9,0M475.74,163.35a0.95,0.95 0 1,0 1.9,0a0.95,0.95 0 1,0 -1.9,0M476.18,152.63a0.95,0.95 0 1,0 1.9,0a0.95,0.95 0 1,0 -1.9,0M476.61,161.78a0.95,0.95 0 1,0 1.9,0a0.95,0.95 0 1,0 -1.9,0M477.05,158.95a0.95,0.95 0 1,0 1.9,0a0.95,0.95 0 1,0 -1.9,0M477.49,163.60a0.95,0.95 0 1,0 1.9,0a0.95,0.95 0 1,0 -1.9,0M477.93,160.80a0.95,0.95 0 1,0 1.9,0a0.95,0.95 0 1,0 -1.9,0M478.36,155.95a0.95,0.95 0 1,0 1.9,0a0.95,0.95 0 1,0 -1.9,0M478.80,155.52a0.95,0.95 0 1,0 1.9,0a0.95,0.95 0 1,0 -1.9,0M479.24,156.79a0.95,0.95 0 1,0 1.9,0a0.95,0.95 0 1,0 -1.9,0M479.68,157.19a0.95,0.95 0 1,0 1.9,0a0.95,0.95 0 1,0 -1.9,0M480.11,154.10a0.95,0.95 0 1,0 1.9,0a0.95,0.95 0 1,0 -1.9,0M480.55,156.30a0.95,0.95 0 1,0 1.9,0a0.95,0.95 0 1,0 -1.9,0M480.99,163.53a0.95,0.95 0 1,0 1.9,0a0.95,0.95 0 1,0 -1.9,0M481.43,148.97a0.95,0.95 0 1,0 1.9,0a0.95,0.95 0 1,0 -1.9,0M481.86,157.61a0.95,0.95 0 1,0 1.9,0a0.95,0.95 0 1,0 -1.9,0M482.30,152.49a0.95,0.95 0 1,0 1.9,0a0.95,0.95 0 1,0 -1.9,0M482.74,157.31a0.95,0.95 0 1,0 1.9,0a0.95,0.95 0 1,0 -1.9,0M483.18,160.19a0.95,0.95 0 1,0 1.9,0a0.95,0.95 0 1,0 -1.9,0M483.61,156.25a0.95,0.95 0 1,0 1.9,0a0.95,0.95 0 1,0 -1.9,0M484.05,159.92a0.95,0.95 0 1,0 1.9,0a0.95,0.95 0 1,0 -1.9,0M484.49,149.53a0.95,0.95 0 1,0 1.9,0a0.95,0.95 0 1,0 -1.9,0M484.93,161.41a0.95,0.95 0 1,0 1.9,0a0.95,0.95 0 1,0 -1.9,0M485.36,153.90a0.95,0.95 0 1,0 1.9,0a0.95,0.95 0 1,0 -1.9,0M485.80,159.30a0.95,0.95 0 1,0 1.9,0a0.95,0.95 0 1,0 -1.9,0M486.24,157.37a0.95,0.95 0 1,0 1.9,0a0.95,0.95 0 1,0 -1.9,0M486.68,145.21a0.95,0.95 0 1,0 1.9,0a0.95,0.95 0 1,0 -1.9,0M487.11,153.27a0.95,0.95 0 1,0 1.9,0a0.95,0.95 0 1,0 -1.9,0M487.55,157.58a0.95,0.95 0 1,0 1.9,0a0.95,0.95 0 1,0 -1.9,0M487.99,163.46a0.95,0.95 0 1,0 1.9,0a0.95,0.95 0 1,0 -1.9,0M488.43,157.90a0.95,0.95 0 1,0 1.9,0a0.95,0.95 0 1,0 -1.9,0M488.86,157.78a0.95,0.95 0 1,0 1.9,0a0.95,0.95 0 1,0 -1.9,0M489.30,150.44a0.95,0.95 0 1,0 1.9,0a0.95,0.95 0 1,0 -1.9,0M489.74,162.97a0.95,0.95 0 1,0 1.9,0a0.95,0.95 0 1,0 -1.9,0M490.18,163.60a0.95,0.95 0 1,0 1.9,0a0.95,0.95 0 1,0 -1.9,0M490.61,156.83a0.95,0.95 0 1,0 1.9,0a0.95,0.95 0 1,0 -1.9,0M491.05,155.75a0.95,0.95 0 1,0 1.9,0a0.95,0.95 0 1,0 -1.9,0M491.49,149.61a0.95,0.95 0 1,0 1.9,0a0.95,0.95 0 1,0 -1.9,0M491.93,160.63a0.95,0.95 0 1,0 1.9,0a0.95,0.95 0 1,0 -1.9,0M492.36,163.60a0.95,0.95 0 1,0 1.9,0a0.95,0.95 0 1,0 -1.9,0M492.80,159.93a0.95,0.95 0 1,0 1.9,0a0.95,0.95 0 1,0 -1.9,0M493.24,162.36a0.95,0.95 0 1,0 1.9,0a0.95,0.95 0 1,0 -1.9,0M493.68,159.20a0.95,0.95 0 1,0 1.9,0a0.95,0.95 0 1,0 -1.9,0M494.11,152.49a0.95,0.95 0 1,0 1.9,0a0.95,0.95 0 1,0 -1.9,0M494.55,162.73a0.95,0.95 0 1,0 1.9,0a0.95,0.95 0 1,0 -1.9,0M494.99,151.43a0.95,0.95 0 1,0 1.9,0a0.95,0.95 0 1,0 -1.9,0M495.43,155.96a0.95,0.95 0 1,0 1.9,0a0.95,0.95 0 1,0 -1.9,0M495.86,158.13a0.95,0.95 0 1,0 1.9,0a0.95,0.95 0 1,0 -1.9,0M496.30,160.81a0.95,0.95 0 1,0 1.9,0a0.95,0.95 0 1,0 -1.9,0M496.74,158.77a0.95,0.95 0 1,0 1.9,0a0.95,0.95 0 1,0 -1.9,0M497.18,158.66a0.95,0.95 0 1,0 1.9,0a0.95,0.95 0 1,0 -1.9,0M497.61,153.63a0.95,0.95 0 1,0 1.9,0a0.95,0.95 0 1,0 -1.9,0M498.05,151.33a0.95,0.95 0 1,0 1.9,0a0.95,0.95 0 1,0 -1.9,0M498.49,157.30a0.95,0.95 0 1,0 1.9,0a0.95,0.95 0 1,0 -1.9,0M498.93,153.93a0.95,0.95 0 1,0 1.9,0a0.95,0.95 0 1,0 -1.9,0M499.36,151.32a0.95,0.95 0 1,0 1.9,0a0.95,0.95 0 1,0 -1.9,0M499.80,151.53a0.95,0.95 0 1,0 1.9,0a0.95,0.95 0 1,0 -1.9,0M500.24,154.96a0.95,0.95 0 1,0 1.9,0a0.95,0.95 0 1,0 -1.9,0M500.68,149.00a0.95,0.95 0 1,0 1.9,0a0.95,0.95 0 1,0 -1.9,0M501.11,151.24a0.95,0.95 0 1,0 1.9,0a0.95,0.95 0 1,0 -1.9,0M501.55,150.00a0.95,0.95 0 1,0 1.9,0a0.95,0.95 0 1,0 -1.9,0M501.99,158.03a0.95,0.95 0 1,0 1.9,0a0.95,0.95 0 1,0 -1.9,0M502.43,159.04a0.95,0.95 0 1,0 1.9,0a0.95,0.95 0 1,0 -1.9,0M502.86,163.60a0.95,0.95 0 1,0 1.9,0a0.95,0.95 0 1,0 -1.9,0M503.30,150.72a0.95,0.95 0 1,0 1.9,0a0.95,0.95 0 1,0 -1.9,0M503.74,154.35a0.95,0.95 0 1,0 1.9,0a0.95,0.95 0 1,0 -1.9,0M504.18,161.38a0.95,0.95 0 1,0 1.9,0a0.95,0.95 0 1,0 -1.9,0M504.61,156.44a0.95,0.95 0 1,0 1.9,0a0.95,0.95 0 1,0 -1.9,0M505.05,155.99a0.95,0.95 0 1,0 1.9,0a0.95,0.95 0 1,0 -1.9,0" fill="#000"/>
<line x1="143.4" y1="25.5" x2="143.4" y2="104.9" stroke="#707070" stroke-width="1.4"/>
<line x1="141.9" y1="103.7" x2="241.5" y2="103.7" stroke="#707070" stroke-width="1.5"/>
<line x1="141.6" y1="103.70" x2="143.4" y2="103.70" stroke="#707070" stroke-width="0.8"/>
<text x="140.20000000000002" y="105.20" font-size="4.4" text-anchor="end" fill="#555" font-family="Liberation Sans, sans-serif">0.0</text>
<line x1="141.6" y1="66.55" x2="143.4" y2="66.55" stroke="#707070" stroke-width="0.8"/>
<text x="140.20000000000002" y="68.05" font-size="4.4" text-anchor="end" fill="#555" font-family="Liberation Sans, sans-serif">0.5</text>
<line x1="141.6" y1="29.40" x2="143.4" y2="29.40" stroke="#707070" stroke-width="0.8"/>
<text x="140.20000000000002" y="30.90" font-size="4.4" text-anchor="end" fill="#555" font-family="Liberation Sans, sans-serif">1.0</text>
<line x1="143.40" y1="103.7" x2="143.40" y2="105.5" stroke="#707070" stroke-width="0.8"/>
<text x="143.40" y="110.30" font-size="4.4" text-anchor="middle" fill="#555" font-family="Liberation Sans, sans-serif">0</text>
<line x1="162.70" y1="103.7" x2="162.70" y2="105.5" stroke="#707070" stroke-width="0.8"/>
<text x="162.70" y="110.30" font-size="4.4" text-anchor="middle" fill="#555" font-family="Liberation Sans, sans-serif">50</text>
<line x1="182.00" y1="103.7" x2="182.00" y2="105.5" stroke="#707070" stroke-width="0.8"/>
<text x="182.00" y="110.30" font-size="4.4" text-anchor="middle" fill="#555" font-family="Liberation Sans, sans-serif">100</text>
<line x1="201.30" y1="103.7" x2="201.30" y2="105.5" stroke="#707070" stroke-width="0.8"/>
<text x="201.30" y="110.30" font-size="4.4" text-anchor="middle" fill="#555" font-family="Liberation Sans, sans-serif">150</text>
<line x1="220.60" y1="103.7" x2="220.60" y2="105.5" stroke="#707070" stroke-width="0.8"/>
<text x="220.60" y="110.30" font-size="4.4" text-anchor="middle" fill="#555" font-family="Liberation Sans, sans-serif">200</text>
<line x1="239.90" y1="103.7" x2="239.90" y2="105.5" stroke="#707070" stroke-width="0.8"/>
<text x="239.90" y="110.30" font-size="4.4" text-anchor="middle" fill="#555" font-family="Liberation Sans, sans-serif">250</text>
<text x="187.6" y="119.4" font-size="6.7" fill="#333" font-family="Liberation Sans, sans-serif" textLength="10.2" lengthAdjust="spacingAndGlyphs">r(Å)</text>
<path d="M165.56,29.03 C165.70,29.12 166.14,29.43 166.43,29.61 C166.73,29.78 167.02,29.93 167.31,30.08 C167.60,30.23 167.90,30.37 168.19,30.51 C168.48,30.65 168.77,30.78 169.07,30.91 C169.36,31.05 169.65,31.18 169.94,31.32 C170.24,31.46 170.53,31.59 170.82,31.74 C171.11,31.88 171.41,32.03 171.70,32.19 C171.99,32.35 172.28,32.51 172.58,32.69 C172.87,32.86 173.16,33.05 173.45,33.25 C173.75,33.45 174.04,33.67 174.33,33.90 C174.62,34.13 174.92,34.38 175.21,34.65 C175.50,34.92 175.79,35.21 176.09,35.52 C176.38,35.83 176.67,36.17 176.96,36.53 C177.26,36.88 177.55,37.26 177.84,37.65 C178.13,38.05 178.43,38.46 178.72,38.89 C179.01,39.31 179.30,39.76 179.60,40.21 C179.89,40.66 180.18,41.13 180.47,41.60 C180.77,42.08 181.06,42.57 181.35,43.06 C181.64,43.55 181.94,44.05 182.23,44.55 C182.52,45.05 182.81,45.56 183.11,46.06 C183.40,46.57 183.69,47.08 183.98,47.58 C184.28,48.09 184.57,48.59 184.86,49.09 C185.15,49.59 185.45,50.08 185.74,50.58 C186.03,51.07 186.32,51.56 186.62,52.04 C186.91,52.52 187.20,53.00 187.49,53.48 C187.79,53.96 188.08,54.43 188.37,54.90 C188.66,55.38 188.96,55.84 189.25,56.31 C189.54,56.77 189.83,57.23 190.13,57.69 C190.42,58.15 190.71,58.61 191.01,59.06 C191.30,59.51 191.59,59.96 191.88,60.41 C192.18,60.86 192.47,61.30 192.76,61.75 C193.05,62.19 193.35,62.63 193.64,63.07 C193.93,63.50 194.22,63.94 194.52,64.37 C194.81,64.81 195.10,65.24 195.39,65.67 C195.69,66.10 195.98,66.53 196.27,66.95 C196.56,67.38 196.86,67.80 197.15,68.23 C197.44,68.65 197.73,69.07 198.03,69.49 C198.32,69.91 198.61,70.33 198.90,70.75 C199.20,71.16 199.49,71.58 199.78,71.99 C200.07,72.41 200.37,72.82 200.66,73.23 C200.95,73.65 201.24,74.06 201.54,74.47 C201.83,74.88 202.12,75.29 202.41,75.70 C202.71,76.11 203.00,76.52 203.29,76.92 C203.58,77.33 203.88,77.74 204.17,78.14 C204.46,78.54 204.75,78.94 205.05,79.34 C205.34,79.74 205.63,80.14 205.92,80.54 C206.22,80.93 206.51,81.33 206.80,81.72 C207.09,82.11 207.39,82.50 207.68,82.89 C207.97,83.27 208.26,83.66 208.56,84.04 C208.85,84.42 209.14,84.80 209.43,85.17 C209.73,85.55 210.02,85.92 210.31,86.29 C210.60,86.65 210.90,87.02 211.19,87.38 C211.48,87.74 211.77,88.10 212.07,88.45 C212.36,88.80 212.65,89.15 212.94,89.50 C213.24,89.84 213.53,90.19 213.82,90.52 C214.11,90.86 214.41,91.19 214.70,91.52 C214.99,91.85 215.28,92.17 215.58,92.49 C215.87,92.81 216.16,93.12 216.45,93.43 C216.75,93.73 217.04,94.04 217.33,94.33 C217.62,94.63 217.92,94.92 218.21,95.21 C218.50,95.50 218.79,95.78 219.09,96.05 C219.38,96.32 219.67,96.59 219.96,96.86 C220.26,97.12 220.55,97.37 220.84,97.62 C221.13,97.87 221.43,98.12 221.72,98.35 C222.01,98.59 222.30,98.82 222.60,99.04 C222.89,99.26 223.18,99.48 223.47,99.69 C223.77,99.90 224.06,100.10 224.35,100.29 C224.64,100.48 224.94,100.67 225.23,100.85 C225.52,101.03 225.81,101.20 226.11,101.36 C226.40,101.52 226.69,101.68 226.98,101.82 C227.28,101.97 227.57,102.11 227.86,102.24 C228.15,102.37 228.45,102.49 228.74,102.60 C229.03,102.71 229.32,102.82 229.62,102.91 C229.91,103.01 230.20,103.09 230.49,103.17 C230.79,103.24 231.08,103.31 231.37,103.37 C231.66,103.43 231.96,103.48 232.25,103.51 C232.54,103.55 232.83,103.58 233.13,103.60 C233.42,103.62 233.71,103.61 234.00,103.62 C234.30,103.64 234.74,103.69 234.88,103.70" fill="none" stroke="#3c5a98" stroke-width="1.1"/>
<path d="M143.40,103.70 C143.55,103.19 144.02,101.73 144.33,100.65 C144.64,99.57 144.95,98.42 145.26,97.23 C145.57,96.03 145.88,94.78 146.19,93.48 C146.49,92.18 146.80,90.83 147.11,89.45 C147.42,88.06 147.73,86.63 148.04,85.17 C148.35,83.71 148.66,82.21 148.97,80.69 C149.28,79.17 149.59,77.62 149.90,76.05 C150.21,74.48 150.52,72.89 150.83,71.29 C151.14,69.68 151.45,68.06 151.76,66.44 C152.06,64.82 152.37,63.18 152.68,61.55 C152.99,59.93 153.30,58.29 153.61,56.70 C153.92,55.11 154.23,53.52 154.54,52.00 C154.85,50.48 155.16,48.98 155.47,47.57 C155.78,46.16 156.09,44.79 156.40,43.53 C156.71,42.27 157.02,41.09 157.33,40.01 C157.63,38.93 157.94,37.95 158.25,37.05 C158.56,36.15 158.87,35.36 159.18,34.63 C159.49,33.90 159.80,33.27 160.11,32.70 C160.42,32.13 160.73,31.64 161.04,31.21 C161.35,30.78 161.66,30.42 161.97,30.11 C162.28,29.81 162.59,29.57 162.90,29.37 C163.20,29.18 163.51,29.04 163.82,28.94 C164.13,28.84 164.44,28.79 164.75,28.77 C165.06,28.75 165.37,28.78 165.68,28.84 C165.99,28.89 166.30,28.99 166.61,29.12 C166.92,29.24 167.23,29.41 167.54,29.60 C167.85,29.78 168.16,30.01 168.47,30.25 C168.78,30.50 169.08,30.77 169.39,31.06 C169.70,31.36 170.01,31.68 170.32,32.02 C170.63,32.35 170.94,32.71 171.25,33.09 C171.56,33.46 171.87,33.86 172.18,34.27 C172.49,34.67 172.80,35.10 173.11,35.54 C173.42,35.99 173.73,36.45 174.04,36.93 C174.35,37.41 174.65,37.91 174.96,38.43 C175.27,38.95 175.58,39.48 175.89,40.04 C176.20,40.60 176.51,41.18 176.82,41.78 C177.13,42.39 177.44,43.00 177.75,43.68 C178.06,44.36 178.37,45.06 178.68,45.84 C178.99,46.62 179.30,47.48 179.61,48.37 C179.92,49.26 180.22,50.26 180.53,51.20 C180.84,52.14 181.15,53.12 181.46,54.01 C181.77,54.91 182.08,55.75 182.39,56.56 C182.70,57.37 183.01,58.12 183.32,58.86 C183.63,59.59 183.94,60.29 184.25,60.98 C184.56,61.68 184.87,62.35 185.18,63.02 C185.49,63.68 185.79,64.33 186.10,64.98 C186.41,65.63 186.72,66.26 187.03,66.90 C187.34,67.53 187.65,68.15 187.96,68.78 C188.27,69.40 188.58,70.02 188.89,70.64 C189.20,71.26 189.51,71.88 189.82,72.50 C190.13,73.12 190.44,73.74 190.75,74.36 C191.06,74.98 191.36,75.61 191.67,76.23 C191.98,76.86 192.29,77.49 192.60,78.12 C192.91,78.76 193.22,79.40 193.53,80.04 C193.84,80.68 194.15,81.33 194.46,81.98 C194.77,82.64 195.08,83.30 195.39,83.95 C195.70,84.59 196.01,85.24 196.32,85.86 C196.63,86.47 196.94,87.08 197.24,87.64 C197.55,88.20 197.86,88.72 198.17,89.22 C198.48,89.71 198.79,90.17 199.10,90.60 C199.41,91.03 199.72,91.43 200.03,91.80 C200.34,92.18 200.65,92.52 200.96,92.84 C201.27,93.17 201.58,93.46 201.89,93.74 C202.20,94.02 202.51,94.28 202.81,94.52 C203.12,94.76 203.43,94.98 203.74,95.19 C204.05,95.40 204.36,95.60 204.67,95.78 C204.98,95.97 205.29,96.14 205.60,96.31 C205.91,96.48 206.22,96.63 206.53,96.79 C206.84,96.94 207.15,97.09 207.46,97.24 C207.77,97.39 208.08,97.54 208.38,97.68 C208.69,97.83 209.00,97.98 209.31,98.13 C209.62,98.29 209.93,98.44 210.24,98.61 C210.55,98.77 210.86,98.94 211.17,99.12 C211.48,99.29 211.79,99.48 212.10,99.68 C212.41,99.87 212.72,100.08 213.03,100.30 C213.34,100.53 213.65,100.76 213.95,101.01 C214.26,101.27 214.57,101.53 214.88,101.82 C215.19,102.11 215.50,102.43 215.81,102.74 C216.12,103.05 216.59,103.54 216.74,103.70" fill="none" stroke="#62ad45" stroke-width="1.1"/>
<path d="M143.40,103.70 C143.53,102.87 143.90,100.39 144.15,98.71 C144.40,97.03 144.65,95.32 144.90,93.62 C145.15,91.92 145.41,90.20 145.66,88.49 C145.91,86.78 146.16,85.07 146.41,83.36 C146.66,81.66 146.91,79.95 147.16,78.27 C147.41,76.58 147.66,74.90 147.91,73.24 C148.16,71.59 148.41,69.94 148.66,68.33 C148.91,66.72 149.17,65.13 149.42,63.57 C149.67,62.01 149.92,60.50 150.17,58.96 C150.42,57.42 150.67,55.92 150.92,54.35 C151.17,52.79 151.42,51.17 151.67,49.58 C151.92,48.00 152.17,46.34 152.42,44.86 C152.67,43.37 152.92,41.94 153.18,40.68 C153.43,39.41 153.68,38.29 153.93,37.27 C154.18,36.25 154.43,35.37 154.68,34.57 C154.93,33.78 155.18,33.10 155.43,32.50 C155.68,31.90 155.93,31.41 156.18,30.98 C156.43,30.55 156.68,30.21 156.94,29.92 C157.19,29.63 157.44,29.42 157.69,29.24 C157.94,29.07 158.19,28.96 158.44,28.87 C158.69,28.78 158.94,28.74 159.19,28.72 C159.44,28.70 159.69,28.72 159.94,28.75 C160.19,28.79 160.44,28.86 160.70,28.95 C160.95,29.04 161.20,29.16 161.45,29.30 C161.70,29.44 161.95,29.61 162.20,29.79 C162.45,29.98 162.70,30.19 162.95,30.42 C163.20,30.65 163.45,30.90 163.70,31.17 C163.95,31.44 164.20,31.73 164.46,32.04 C164.71,32.34 164.96,32.67 165.21,33.00 C165.46,33.34 165.71,33.70 165.96,34.07 C166.21,34.45 166.46,34.84 166.71,35.25 C166.96,35.66 167.21,36.10 167.46,36.55 C167.71,37.01 167.96,37.48 168.21,37.98 C168.47,38.49 168.72,39.01 168.97,39.56 C169.22,40.11 169.47,40.69 169.72,41.30 C169.97,41.90 170.22,42.54 170.47,43.20 C170.72,43.86 170.97,44.56 171.22,45.28 C171.47,46.00 171.72,46.76 171.97,47.52 C172.23,48.29 172.48,49.09 172.73,49.88 C172.98,50.68 173.23,51.50 173.48,52.31 C173.73,53.12 173.98,53.94 174.23,54.75 C174.48,55.56 174.73,56.38 174.98,57.17 C175.23,57.96 175.48,58.75 175.73,59.50 C175.99,60.26 176.24,61.00 176.49,61.71 C176.74,62.42 176.99,63.10 177.24,63.74 C177.49,64.38 177.74,64.98 177.99,65.55 C178.24,66.13 178.49,66.66 178.74,67.17 C178.99,67.68 179.24,68.15 179.49,68.61 C179.75,69.07 180.00,69.50 180.25,69.92 C180.50,70.35 180.75,70.75 181.00,71.14 C181.25,71.54 181.50,71.92 181.75,72.31 C182.00,72.69 182.25,73.07 182.50,73.45 C182.75,73.83 183.00,74.21 183.25,74.61 C183.50,75.00 183.76,75.40 184.01,75.81 C184.26,76.23 184.51,76.66 184.76,77.10 C185.01,77.53 185.26,77.99 185.51,78.44 C185.76,78.90 186.01,79.37 186.26,79.84 C186.51,80.32 186.76,80.80 187.01,81.28 C187.26,81.76 187.52,82.25 187.77,82.74 C188.02,83.23 188.27,83.72 188.52,84.21 C188.77,84.69 189.02,85.18 189.27,85.67 C189.52,86.15 189.77,86.63 190.02,87.10 C190.27,87.58 190.52,88.05 190.77,88.51 C191.02,88.97 191.28,89.42 191.53,89.86 C191.78,90.30 192.03,90.73 192.28,91.15 C192.53,91.57 192.78,91.97 193.03,92.36 C193.28,92.75 193.53,93.12 193.78,93.48 C194.03,93.83 194.28,94.17 194.53,94.49 C194.78,94.81 195.04,95.11 195.29,95.40 C195.54,95.69 195.79,95.97 196.04,96.24 C196.29,96.51 196.54,96.77 196.79,97.02 C197.04,97.28 197.29,97.53 197.54,97.78 C197.79,98.02 198.04,98.27 198.29,98.51 C198.54,98.76 198.79,99.00 199.05,99.26 C199.30,99.51 199.55,99.76 199.80,100.03 C200.05,100.29 200.30,100.56 200.55,100.85 C200.80,101.13 201.05,101.43 201.30,101.74 C201.55,102.05 201.80,102.39 202.05,102.72 C202.30,103.04 202.68,103.54 202.81,103.70" fill="none" stroke="#c0324a" stroke-width="1.1"/>
<line x1="392.6" y1="26.5" x2="392.6" y2="104.9" stroke="#707070" stroke-width="1.4"/>
<line x1="391.1" y1="103.7" x2="505" y2="103.7" stroke="#707070" stroke-width="1.5"/>
<line x1="390.8" y1="103.70" x2="392.6" y2="103.70" stroke="#707070" stroke-width="0.8"/>
<text x="389.40000000000003" y="105.20" font-size="4.4" text-anchor="end" fill="#555" font-family="Liberation Sans, sans-serif">0.0</text>
<line x1="390.8" y1="66.55" x2="392.6" y2="66.55" stroke="#707070" stroke-width="0.8"/>
<text x="389.40000000000003" y="68.05" font-size="4.4" text-anchor="end" fill="#555" font-family="Liberation Sans, sans-serif">0.5</text>
<line x1="390.8" y1="29.40" x2="392.6" y2="29.40" stroke="#707070" stroke-width="0.8"/>
<text x="389.40000000000003" y="30.90" font-size="4.4" text-anchor="end" fill="#555" font-family="Liberation Sans, sans-serif">1.0</text>
<line x1="392.60" y1="103.7" x2="392.60" y2="105.5" stroke="#707070" stroke-width="0.8"/>
<text x="392.60" y="110.30" font-size="4.4" text-anchor="middle" fill="#555" font-family="Liberation Sans, sans-serif">0</text>
<line x1="414.65" y1="103.7" x2="414.65" y2="105.5" stroke="#707070" stroke-width="0.8"/>
<text x="414.65" y="110.30" font-size="4.4" text-anchor="middle" fill="#555" font-family="Liberation Sans, sans-serif">50</text>
<line x1="436.70" y1="103.7" x2="436.70" y2="105.5" stroke="#707070" stroke-width="0.8"/>
<text x="436.70" y="110.30" font-size="4.4" text-anchor="middle" fill="#555" font-family="Liberation Sans, sans-serif">100</text>
<line x1="458.75" y1="103.7" x2="458.75" y2="105.5" stroke="#707070" stroke-width="0.8"/>
<text x="458.75" y="110.30" font-size="4.4" text-anchor="middle" fill="#555" font-family="Liberation Sans, sans-serif">150</text>
<line x1="480.80" y1="103.7" x2="480.80" y2="105.5" stroke="#707070" stroke-width="0.8"/>
<text x="480.80" y="110.30" font-size="4.4" text-anchor="middle" fill="#555" font-family="Liberation Sans, sans-serif">200</text>
<line x1="502.85" y1="103.7" x2="502.85" y2="105.5" stroke="#707070" stroke-width="0.8"/>
<text x="502.85" y="110.30" font-size="4.4" text-anchor="middle" fill="#555" font-family="Liberation Sans, sans-serif">250</text>
<text x="444.4" y="119.2" font-size="6.7" fill="#333" font-family="Liberation Sans, sans-serif" textLength="10.2" lengthAdjust="spacingAndGlyphs">r(Å)</text>
<path d="M437.07,46.41 C437.11,46.48 437.22,46.67 437.30,46.79 C437.37,46.91 437.45,47.02 437.52,47.14 C437.60,47.26 437.67,47.38 437.75,47.50 C437.82,47.62 437.90,47.74 437.97,47.86 C438.05,47.97 438.12,48.09 438.20,48.21 C438.27,48.33 438.35,48.45 438.42,48.58 C438.50,48.70 438.57,48.82 438.65,48.94 C438.72,49.06 438.80,49.18 438.87,49.30 C438.95,49.42 439.02,49.54 439.10,49.66 C439.17,49.79 439.25,49.91 439.32,50.03 C439.40,50.15 439.47,50.27 439.55,50.40 C439.62,50.52 439.70,50.64 439.77,50.76 C439.85,50.89 439.92,51.01 440.00,51.13 C440.07,51.25 440.15,51.38 440.22,51.50 C440.30,51.62 440.37,51.75 440.45,51.87 C440.52,51.99 440.60,52.12 440.67,52.24 C440.75,52.36 440.82,52.49 440.90,52.61 C440.97,52.73 441.05,52.86 441.12,52.98 C441.20,53.10 441.27,53.23 441.35,53.35 C441.42,53.47 441.50,53.60 441.57,53.72 C441.65,53.85 441.72,53.97 441.80,54.09 C441.87,54.22 441.95,54.34 442.02,54.46 C442.10,54.59 442.17,54.71 442.25,54.84 C442.32,54.96 442.40,55.08 442.47,55.21 C442.55,55.33 442.62,55.45 442.70,55.58 C442.77,55.70 442.85,55.82 442.92,55.95 C443.00,56.07 443.07,56.19 443.15,56.32 C443.22,56.44 443.30,56.56 443.37,56.69 C443.45,56.81 443.52,56.93 443.60,57.05 C443.67,57.18 443.75,57.30 443.82,57.42 C443.90,57.54 443.97,57.67 444.05,57.79 C444.12,57.91 444.20,58.03 444.27,58.15 C444.35,58.28 444.42,58.40 444.50,58.52 C444.57,58.64 444.65,58.76 444.72,58.88 C444.80,59.00 444.87,59.12 444.95,59.24 C445.02,59.36 445.10,59.49 445.17,59.61 C445.25,59.73 445.32,59.85 445.40,59.96 C445.47,60.08 445.55,60.20 445.62,60.32 C445.70,60.44 445.77,60.56 445.85,60.68 C445.92,60.80 446.00,60.92 446.07,61.03 C446.15,61.15 446.22,61.27 446.30,61.39 C446.37,61.50 446.45,61.62 446.52,61.74 C446.60,61.86 446.67,61.97 446.75,62.09 C446.82,62.20 446.90,62.32 446.97,62.44 C447.05,62.55 447.12,62.67 447.20,62.78 C447.27,62.89 447.35,63.01 447.42,63.12 C447.50,63.24 447.57,63.35 447.65,63.46 C447.72,63.58 447.80,63.69 447.87,63.80 C447.95,63.91 448.02,64.03 448.10,64.14 C448.17,64.25 448.25,64.36 448.32,64.47 C448.40,64.58 448.47,64.69 448.55,64.80 C448.62,64.91 448.70,65.02 448.77,65.13 C448.85,65.24 448.92,65.34 449.00,65.45 C449.07,65.56 449.15,65.67 449.22,65.77 C449.30,65.88 449.37,65.99 449.45,66.09 C449.52,66.20 449.60,66.30 449.67,66.41 C449.75,66.51 449.82,66.62 449.90,66.72 C449.97,66.82 450.05,66.93 450.12,67.03 C450.20,67.13 450.27,67.23 450.35,67.33 C450.42,67.44 450.50,67.54 450.57,67.64 C450.65,67.74 450.72,67.84 450.80,67.93 C450.87,68.03 450.95,68.13 451.02,68.23 C451.10,68.33 451.17,68.42 451.25,68.52 C451.32,68.62 451.40,68.71 451.47,68.81 C451.55,68.90 451.62,69.00 451.70,69.09 C451.77,69.18 451.85,69.28 451.92,69.37 C452.00,69.46 452.07,69.55 452.15,69.64 C452.22,69.73 452.30,69.82 452.37,69.91 C452.45,70.00 452.52,70.09 452.60,70.18 C452.67,70.27 452.75,70.35 452.82,70.44 C452.90,70.53 452.97,70.61 453.05,70.70 C453.12,70.78 453.20,70.87 453.27,70.95 C453.35,71.03 453.42,71.12 453.50,71.20 C453.57,71.28 453.65,71.36 453.72,71.44 C453.80,71.52 453.87,71.60 453.95,71.68 C454.02,71.76 454.10,71.83 454.17,71.91 C454.25,71.99 454.32,72.06 454.40,72.14 C454.47,72.21 454.55,72.29 454.62,72.36 C454.70,72.43 454.81,72.53 454.85,72.57" fill="none" stroke="#3c5a98" stroke-width="1.1"/>
<path d="M392.60,103.70 C392.82,102.98 393.50,100.95 393.94,99.40 C394.39,97.85 394.84,96.15 395.29,94.39 C395.73,92.63 396.18,90.76 396.63,88.85 C397.08,86.94 397.52,84.95 397.97,82.94 C398.42,80.93 398.87,78.86 399.32,76.81 C399.76,74.75 400.21,72.66 400.66,70.61 C401.11,68.56 401.55,66.49 402.00,64.49 C402.45,62.49 402.90,60.51 403.34,58.59 C403.79,56.68 404.24,54.81 404.69,53.03 C405.14,51.25 405.58,49.52 406.03,47.91 C406.48,46.30 406.93,44.76 407.37,43.35 C407.82,41.94 408.27,40.63 408.72,39.46 C409.16,38.29 409.61,37.25 410.06,36.33 C410.51,35.41 410.96,34.63 411.40,33.95 C411.85,33.26 412.30,32.70 412.75,32.23 C413.19,31.76 413.64,31.40 414.09,31.12 C414.54,30.83 414.98,30.65 415.43,30.53 C415.88,30.41 416.33,30.38 416.78,30.40 C417.22,30.42 417.67,30.52 418.12,30.66 C418.57,30.79 419.01,31.00 419.46,31.23 C419.91,31.46 420.36,31.75 420.81,32.04 C421.25,32.33 421.70,32.67 422.15,33.00 C422.60,33.33 423.04,33.68 423.49,34.01 C423.94,34.34 424.39,34.68 424.83,34.98 C425.28,35.29 425.73,35.57 426.18,35.85 C426.63,36.13 427.07,36.38 427.52,36.66 C427.97,36.93 428.42,37.20 428.86,37.51 C429.31,37.81 429.76,38.13 430.21,38.50 C430.65,38.87 431.10,39.27 431.55,39.72 C432.00,40.17 432.45,40.68 432.89,41.21 C433.34,41.74 433.79,42.32 434.24,42.92 C434.68,43.51 435.13,44.15 435.58,44.80 C436.03,45.45 436.47,46.13 436.92,46.82 C437.37,47.51 437.82,48.22 438.27,48.93 C438.71,49.64 439.16,50.36 439.61,51.08 C440.06,51.80 440.50,52.53 440.95,53.25 C441.40,53.96 441.85,54.68 442.29,55.39 C442.74,56.11 443.19,56.82 443.64,57.52 C444.09,58.23 444.53,58.93 444.98,59.62 C445.43,60.31 445.88,60.99 446.32,61.67 C446.77,62.35 447.22,63.01 447.67,63.67 C448.11,64.33 448.56,64.97 449.01,65.61 C449.46,66.24 449.91,66.87 450.35,67.47 C450.80,68.08 451.25,68.68 451.70,69.26 C452.14,69.83 452.59,70.40 453.04,70.95 C453.49,71.50 453.93,72.03 454.38,72.56 C454.83,73.08 455.28,73.59 455.73,74.09 C456.17,74.59 456.62,75.08 457.07,75.55 C457.52,76.03 457.96,76.50 458.41,76.96 C458.86,77.42 459.31,77.87 459.75,78.31 C460.20,78.76 460.65,79.19 461.10,79.62 C461.55,80.06 461.99,80.48 462.44,80.90 C462.89,81.32 463.34,81.74 463.78,82.15 C464.23,82.57 464.68,82.97 465.13,83.38 C465.57,83.79 466.02,84.20 466.47,84.61 C466.92,85.01 467.37,85.41 467.81,85.82 C468.26,86.22 468.71,86.62 469.16,87.01 C469.60,87.41 470.05,87.80 470.50,88.19 C470.95,88.58 471.39,88.97 471.84,89.35 C472.29,89.74 472.74,90.11 473.19,90.49 C473.63,90.86 474.08,91.23 474.53,91.60 C474.98,91.96 475.42,92.33 475.87,92.68 C476.32,93.03 476.77,93.38 477.22,93.73 C477.66,94.07 478.11,94.41 478.56,94.74 C479.01,95.07 479.45,95.40 479.90,95.71 C480.35,96.03 480.80,96.34 481.24,96.65 C481.69,96.95 482.14,97.25 482.59,97.53 C483.04,97.82 483.48,98.10 483.93,98.37 C484.38,98.64 484.83,98.91 485.27,99.16 C485.72,99.41 486.17,99.66 486.62,99.89 C487.06,100.13 487.51,100.35 487.96,100.57 C488.41,100.78 488.86,100.99 489.30,101.18 C489.75,101.38 490.20,101.56 490.65,101.73 C491.09,101.91 491.54,102.07 491.99,102.22 C492.44,102.37 492.88,102.51 493.33,102.63 C493.78,102.76 494.23,102.87 494.68,102.97 C495.12,103.07 495.57,103.16 496.02,103.24 C496.47,103.31 496.91,103.35 497.36,103.42 C497.81,103.50 498.48,103.65 498.70,103.70" fill="none" stroke="#62ad45" stroke-width="1.1"/>
<path d="M392.60,103.70 C392.74,102.75 393.16,99.82 393.44,97.99 C393.72,96.17 394.00,94.44 394.29,92.73 C394.57,91.02 394.85,89.39 395.13,87.74 C395.41,86.10 395.69,84.51 395.97,82.88 C396.25,81.26 396.53,79.66 396.81,78.00 C397.10,76.35 397.38,74.69 397.66,72.96 C397.94,71.22 398.22,69.45 398.50,67.60 C398.78,65.74 399.06,63.77 399.34,61.84 C399.62,59.90 399.91,57.87 400.19,55.99 C400.47,54.10 400.75,52.22 401.03,50.53 C401.31,48.84 401.59,47.27 401.87,45.83 C402.15,44.39 402.43,43.09 402.72,41.89 C403.00,40.70 403.28,39.63 403.56,38.66 C403.84,37.69 404.12,36.84 404.40,36.07 C404.68,35.31 404.96,34.65 405.24,34.06 C405.52,33.48 405.81,32.99 406.09,32.56 C406.37,32.14 406.65,31.80 406.93,31.51 C407.21,31.23 407.49,31.02 407.77,30.85 C408.05,30.69 408.33,30.58 408.62,30.52 C408.90,30.46 409.18,30.45 409.46,30.47 C409.74,30.49 410.02,30.56 410.30,30.65 C410.58,30.73 410.86,30.86 411.14,31.00 C411.43,31.14 411.71,31.31 411.99,31.48 C412.27,31.65 412.55,31.84 412.83,32.03 C413.11,32.22 413.39,32.42 413.67,32.61 C413.95,32.79 414.24,32.98 414.52,33.15 C414.80,33.33 415.08,33.48 415.36,33.64 C415.64,33.79 415.92,33.94 416.20,34.11 C416.48,34.28 416.76,34.46 417.04,34.68 C417.33,34.90 417.61,35.14 417.89,35.44 C418.17,35.74 418.45,36.07 418.73,36.49 C419.01,36.90 419.29,37.37 419.57,37.92 C419.85,38.47 420.14,39.10 420.42,39.77 C420.70,40.43 420.98,41.17 421.26,41.90 C421.54,42.64 421.82,43.43 422.10,44.20 C422.38,44.96 422.66,45.75 422.95,46.51 C423.23,47.26 423.51,48.01 423.79,48.74 C424.07,49.47 424.35,50.18 424.63,50.88 C424.91,51.58 425.19,52.27 425.47,52.94 C425.76,53.62 426.04,54.28 426.32,54.93 C426.60,55.58 426.88,56.22 427.16,56.85 C427.44,57.48 427.72,58.10 428.00,58.72 C428.28,59.33 428.56,59.93 428.85,60.53 C429.13,61.13 429.41,61.71 429.69,62.30 C429.97,62.88 430.25,63.46 430.53,64.03 C430.81,64.60 431.09,65.17 431.37,65.73 C431.66,66.29 431.94,66.85 432.22,67.41 C432.50,67.97 432.78,68.52 433.06,69.07 C433.34,69.62 433.62,70.16 433.90,70.70 C434.18,71.24 434.47,71.78 434.75,72.31 C435.03,72.84 435.31,73.37 435.59,73.89 C435.87,74.40 436.15,74.92 436.43,75.43 C436.71,75.93 436.99,76.44 437.27,76.93 C437.56,77.42 437.84,77.91 438.12,78.39 C438.40,78.87 438.68,79.34 438.96,79.81 C439.24,80.27 439.52,80.73 439.80,81.18 C440.08,81.62 440.37,82.06 440.65,82.49 C440.93,82.92 441.21,83.34 441.49,83.75 C441.77,84.16 442.05,84.56 442.33,84.95 C442.61,85.34 442.89,85.72 443.18,86.10 C443.46,86.47 443.74,86.83 444.02,87.18 C444.30,87.54 444.58,87.88 444.86,88.22 C445.14,88.56 445.42,88.89 445.70,89.22 C445.99,89.55 446.27,89.86 446.55,90.18 C446.83,90.49 447.11,90.80 447.39,91.10 C447.67,91.41 447.95,91.71 448.23,92.00 C448.51,92.30 448.79,92.59 449.08,92.88 C449.36,93.17 449.64,93.46 449.92,93.74 C450.20,94.03 450.48,94.31 450.76,94.59 C451.04,94.87 451.32,95.15 451.60,95.43 C451.89,95.71 452.17,95.99 452.45,96.28 C452.73,96.56 453.01,96.84 453.29,97.12 C453.57,97.41 453.85,97.69 454.13,97.98 C454.41,98.27 454.70,98.56 454.98,98.85 C455.26,99.15 455.54,99.45 455.82,99.75 C456.10,100.05 456.38,100.36 456.66,100.67 C456.94,100.98 457.22,101.30 457.51,101.62 C457.79,101.94 458.07,102.26 458.35,102.61 C458.63,102.95 459.05,103.52 459.19,103.70" fill="none" stroke="#c0324a" stroke-width="1.1"/>
<text x="7" y="211.2" font-size="11" fill="#111" font-family="Liberation Sans, sans-serif">B</text>
<text x="93.2" y="401.4" font-size="9" text-anchor="middle" fill="#222" font-family="Liberation Sans, sans-serif" textLength="25.4" lengthAdjust="spacingAndGlyphs">Pigeon</text>
<text x="93.2" y="411.8" font-size="9" text-anchor="middle" fill="#222" font-family="Liberation Sans, sans-serif" textLength="40" lengthAdjust="spacingAndGlyphs">ADAMTS13</text>
<text x="255.6" y="401.4" font-size="9" text-anchor="middle" fill="#222" font-family="Liberation Sans, sans-serif" textLength="26.9" lengthAdjust="spacingAndGlyphs">Human</text>
<text x="255.6" y="411.8" font-size="9" text-anchor="middle" fill="#222" font-family="Liberation Sans, sans-serif" textLength="33.1" lengthAdjust="spacingAndGlyphs">delT3to6</text>
<text x="427" y="401.4" font-size="9" text-anchor="middle" fill="#222" font-family="Liberation Sans, sans-serif" textLength="26.9" lengthAdjust="spacingAndGlyphs">Human</text>
<text x="427" y="411.8" font-size="9" text-anchor="middle" fill="#222" font-family="Liberation Sans, sans-serif" textLength="40.4" lengthAdjust="spacingAndGlyphs">ADAMTS13</text>
<path d="M55.40,225.00 C56.82,223.42 59.32,222.00 62.00,221.50 C64.68,221.00 67.67,221.78 71.50,222.00 C75.33,222.22 82.00,221.97 85.00,222.80 C88.00,223.63 88.33,224.97 89.50,227.00 C90.67,229.03 91.67,231.67 92.00,235.00 C92.33,238.33 91.33,244.08 91.50,247.00 C91.67,249.92 91.92,250.83 93.00,252.50 C94.08,254.17 96.20,255.28 98.00,257.00 C99.80,258.72 102.30,260.93 103.80,262.80 C105.30,264.67 104.63,265.72 107.00,268.20 C109.37,270.68 114.58,274.23 118.00,277.70 C121.42,281.17 125.28,284.57 127.50,289.00 C129.72,293.43 130.67,299.23 131.30,304.30 C131.93,309.37 131.93,314.98 131.30,319.40 C130.67,323.82 128.13,326.70 127.50,330.80 C126.87,334.90 127.18,339.57 127.50,344.00 C127.82,348.43 129.72,353.57 129.40,357.40 C129.08,361.23 127.83,364.47 125.60,367.00 C123.37,369.53 120.10,371.47 116.00,372.60 C111.90,373.73 105.08,374.43 101.00,373.80 C96.92,373.17 93.72,371.85 91.50,368.80 C89.28,365.75 88.65,360.25 87.70,355.50 C86.75,350.75 87.38,344.72 85.80,340.30 C84.22,335.88 81.83,333.22 78.20,329.00 C74.57,324.78 69.03,318.33 64.00,315.00 C58.97,311.67 52.10,311.73 48.00,309.00 C43.90,306.27 41.15,302.87 39.40,298.60 C37.65,294.33 37.37,287.83 37.50,283.40 C37.63,278.97 39.12,274.98 40.20,272.00 C41.28,269.02 42.70,267.83 44.00,265.50 C45.30,263.17 47.25,260.92 48.00,258.00 C48.75,255.08 47.92,251.05 48.50,248.00 C49.08,244.95 50.67,242.53 51.50,239.70 C52.33,236.87 52.85,233.45 53.50,231.00 C54.15,228.55 53.98,226.58 55.40,225.00Z" fill="#b1afb1" stroke="none" filter="url(#envf)"/>
<path d="M203.50,231.00 C204.52,229.32 205.75,226.80 207.50,225.50 C209.25,224.20 211.42,223.62 214.00,223.20 C216.58,222.78 219.50,222.45 223.00,223.00 C226.50,223.55 231.33,224.83 235.00,226.50 C238.67,228.17 242.03,230.17 245.00,233.00 C247.97,235.83 249.37,239.97 252.80,243.50 C256.23,247.03 262.40,251.00 265.60,254.20 C268.80,257.40 269.15,260.23 272.00,262.70 C274.85,265.17 279.87,266.85 282.70,269.00 C285.53,271.15 286.85,272.37 289.00,275.60 C291.15,278.83 293.43,284.50 295.60,288.40 C297.77,292.30 300.60,295.45 302.00,299.00 C303.40,302.55 302.93,305.77 304.00,309.70 C305.07,313.63 305.90,318.32 308.40,322.60 C310.90,326.88 315.80,331.13 319.00,335.40 C322.20,339.67 325.43,343.93 327.60,348.20 C329.77,352.47 331.65,356.37 332.00,361.00 C332.35,365.63 331.50,371.72 329.70,376.00 C327.90,380.28 324.40,384.37 321.20,386.70 C318.00,389.03 314.07,390.00 310.50,390.00 C306.93,390.00 303.00,389.40 299.80,386.70 C296.60,384.00 294.15,378.78 291.30,373.80 C288.45,368.82 285.20,362.48 282.70,356.80 C280.20,351.12 278.08,344.70 276.30,339.70 C274.52,334.70 275.95,329.92 272.00,326.80 C268.05,323.68 260.82,322.67 252.60,321.00 C244.38,319.33 230.53,318.57 222.70,316.80 C214.87,315.03 209.52,313.60 205.60,310.40 C201.68,307.20 200.97,301.50 199.20,297.60 C197.43,293.70 195.00,291.60 195.00,287.00 C195.00,282.40 197.78,275.72 199.20,270.00 C200.62,264.28 203.13,258.43 203.50,252.70 C203.87,246.97 201.40,239.22 201.40,235.60 C201.40,231.98 202.48,232.68 203.50,231.00Z" fill="#b1afb1" stroke="none" filter="url(#envf)"/>
<path d="M347.40,227.80 C348.35,225.90 350.03,224.12 351.70,222.10 C353.37,220.08 355.27,217.00 357.40,215.70 C359.53,214.40 361.18,214.53 364.50,214.30 C367.82,214.07 374.22,213.85 377.30,214.30 C380.38,214.75 380.88,215.72 383.00,217.00 C385.12,218.28 387.50,220.17 390.00,222.00 C392.50,223.83 395.50,226.00 398.00,228.00 C400.50,230.00 402.70,231.62 405.00,234.00 C407.30,236.38 408.83,239.45 411.80,242.30 C414.77,245.15 418.40,248.53 422.80,251.10 C427.20,253.67 434.18,254.77 438.20,257.70 C442.22,260.63 443.62,265.42 446.90,268.70 C450.18,271.98 453.87,274.48 457.90,277.40 C461.93,280.32 466.70,283.63 471.10,286.20 C475.50,288.77 481.02,289.50 484.30,292.80 C487.58,296.10 489.72,301.62 490.80,306.00 C491.88,310.38 489.52,314.60 490.80,319.10 C492.08,323.60 496.22,329.35 498.50,333.00 C500.78,336.65 503.00,338.40 504.50,341.00 C506.00,343.60 506.82,346.27 507.50,348.60 C508.18,350.93 508.78,352.27 508.60,355.00 C508.42,357.73 508.00,361.88 506.40,365.00 C504.80,368.12 501.57,371.45 499.00,373.70 C496.43,375.95 494.17,376.78 491.00,378.50 C487.83,380.22 483.50,383.58 480.00,384.00 C476.50,384.42 472.57,382.47 470.00,381.00 C467.43,379.53 466.30,377.70 464.60,375.20 C462.90,372.70 461.40,368.87 459.80,366.00 C458.20,363.13 456.42,362.15 455.00,358.00 C453.58,353.85 453.02,345.38 451.30,341.10 C449.58,336.82 447.98,334.13 444.70,332.30 C441.42,330.47 435.98,330.10 431.60,330.10 C427.22,330.10 423.53,331.57 418.40,332.30 C413.27,333.03 406.65,334.13 400.80,334.50 C394.95,334.87 388.42,335.60 383.30,334.50 C378.18,333.40 373.77,330.83 370.10,327.90 C366.43,324.97 364.22,319.82 361.30,316.90 C358.38,313.98 355.07,313.22 352.60,310.40 C350.13,307.58 347.27,302.73 346.50,300.00 C345.73,297.27 347.05,295.68 348.00,294.00 C348.95,292.32 350.30,291.78 352.20,289.90 C354.10,288.02 357.35,284.68 359.40,282.70 C361.45,280.72 363.40,279.70 364.50,278.00 C365.60,276.30 366.08,274.33 366.00,272.50 C365.92,270.67 365.50,268.25 364.00,267.00 C362.50,265.75 359.17,266.17 357.00,265.00 C354.83,263.83 352.25,262.17 351.00,260.00 C349.75,257.83 350.10,255.23 349.50,252.00 C348.90,248.77 347.98,243.68 347.40,240.60 C346.82,237.52 346.00,235.63 346.00,233.50 C346.00,231.37 346.45,229.70 347.40,227.80Z" fill="#b1afb1" stroke="none" filter="url(#envf)"/>
<path d="M54.50,229.00 C55.45,227.33 56.92,225.25 58.50,224.00 C60.08,222.75 61.92,221.75 64.00,221.50 C66.08,221.25 68.67,221.92 71.00,222.50 C73.33,223.08 75.83,224.33 78.00,225.00 C80.17,225.67 82.17,225.50 84.00,226.50 C85.83,227.50 87.50,229.33 89.00,231.00 C90.50,232.67 92.58,234.67 93.00,236.50 C93.42,238.33 92.42,240.42 91.50,242.00 C90.58,243.58 89.00,244.75 87.50,246.00 C86.00,247.25 84.17,248.58 82.50,249.50 C80.83,250.42 78.83,250.42 77.50,251.50 C76.17,252.58 75.50,254.50 74.50,256.00 C73.50,257.50 72.67,259.75 71.50,260.50 C70.33,261.25 68.83,261.08 67.50,260.50 C66.17,259.92 64.75,258.75 63.50,257.00 C62.25,255.25 61.17,252.00 60.00,250.00 C58.83,248.00 57.58,246.75 56.50,245.00 C55.42,243.25 54.12,241.33 53.50,239.50 C52.88,237.67 52.63,235.75 52.80,234.00 C52.97,232.25 53.55,230.67 54.50,229.00Z" fill="#c6722a" filter="url(#bump)" />
<path d="M42.10,244.70 C43.40,243.32 46.32,242.60 48.10,242.30 C49.88,242.00 51.22,242.40 52.80,242.90 C54.38,243.40 56.32,244.22 57.60,245.30 C58.88,246.38 60.12,247.72 60.50,249.40 C60.88,251.08 60.58,253.82 59.90,255.40 C59.22,256.98 57.98,258.02 56.40,258.90 C54.82,259.78 52.38,260.50 50.40,260.70 C48.42,260.90 46.08,260.88 44.50,260.10 C42.92,259.32 41.60,257.58 40.90,256.00 C40.20,254.42 40.10,252.48 40.30,250.60 C40.50,248.72 40.80,246.08 42.10,244.70Z" fill="#e8d83c" filter="url(#bump)" />
<path d="M61.80,262.50 C63.22,261.70 66.50,261.18 68.40,261.50 C70.30,261.82 72.25,262.82 73.20,264.40 C74.15,265.98 74.10,268.63 74.10,271.00 C74.10,273.37 73.03,276.07 73.20,278.60 C73.37,281.13 74.95,283.82 75.10,286.20 C75.25,288.58 74.90,291.00 74.10,292.90 C73.30,294.80 71.57,296.97 70.30,297.60 C69.03,298.23 67.45,297.97 66.50,296.70 C65.55,295.43 65.07,292.38 64.60,290.00 C64.13,287.62 64.33,285.25 63.70,282.40 C63.07,279.55 61.43,275.58 60.80,272.90 C60.17,270.22 59.73,268.03 59.90,266.30 C60.07,264.57 60.38,263.30 61.80,262.50Z" fill="#1ea840" filter="url(#bump)" />
<path d="M82.70,262.50 C83.97,261.70 87.57,261.03 89.30,261.50 C91.03,261.97 92.15,263.72 93.10,265.30 C94.05,266.88 93.73,269.42 95.00,271.00 C96.27,272.58 98.80,273.68 100.70,274.80 C102.60,275.92 104.82,276.75 106.40,277.70 C107.98,278.65 108.93,279.40 110.20,280.50 C111.47,281.60 112.42,282.72 114.00,284.30 C115.58,285.88 117.80,288.10 119.70,290.00 C121.60,291.90 124.13,293.80 125.40,295.70 C126.67,297.60 127.45,299.82 127.30,301.40 C127.15,302.98 125.77,304.88 124.50,305.20 C123.23,305.52 121.45,303.93 119.70,303.30 C117.95,302.67 115.90,302.03 114.00,301.40 C112.10,300.77 110.52,300.28 108.30,299.50 C106.08,298.72 102.92,297.48 100.70,296.70 C98.48,295.92 96.90,295.75 95.00,294.80 C93.10,293.85 90.88,292.43 89.30,291.00 C87.72,289.57 86.28,288.27 85.50,286.20 C84.72,284.13 84.60,281.13 84.60,278.60 C84.60,276.07 85.98,273.05 85.50,271.00 C85.02,268.95 82.17,267.72 81.70,266.30 C81.23,264.88 81.43,263.30 82.70,262.50Z" fill="#1ea840" filter="url(#bump)" />
<path d="M110.20,305.20 C111.15,304.25 115.27,302.98 117.80,303.30 C120.33,303.62 123.50,305.52 125.40,307.10 C127.30,308.68 128.25,310.58 129.20,312.80 C130.15,315.02 131.10,317.87 131.10,320.40 C131.10,322.93 130.47,326.07 129.20,328.00 C127.93,329.93 125.08,332.00 123.50,332.00 C121.92,332.00 120.65,329.93 119.70,328.00 C118.75,326.07 118.75,322.62 117.80,320.40 C116.85,318.18 114.95,316.60 114.00,314.70 C113.05,312.80 112.73,310.58 112.10,309.00 C111.47,307.42 109.25,306.15 110.20,305.20Z" fill="#4a824c" filter="url(#bump)" />
<path d="M43.70,284.30 C45.43,281.92 48.77,279.87 51.30,278.60 C53.83,277.33 57.00,276.07 58.90,276.70 C60.80,277.33 61.75,280.18 62.70,282.40 C63.65,284.62 64.43,287.47 64.60,290.00 C64.77,292.53 64.65,295.70 63.70,297.60 C62.75,299.50 60.97,300.45 58.90,301.40 C56.83,302.35 53.83,303.62 51.30,303.30 C48.77,302.98 45.43,301.23 43.70,299.50 C41.97,297.77 40.90,295.43 40.90,292.90 C40.90,290.37 41.97,286.68 43.70,284.30Z" fill="#9494b2" filter="url(#bump)" />
<path d="M74.10,274.80 C74.88,272.58 78.05,275.12 79.80,276.70 C81.55,278.28 83.65,281.77 84.60,284.30 C85.55,286.83 86.30,290.47 85.50,291.90 C84.70,293.33 81.53,293.22 79.80,292.90 C78.07,292.58 76.05,293.02 75.10,290.00 C74.15,286.98 73.32,277.02 74.10,274.80Z" fill="#b9b9d4" filter="url(#bump)" />
<path d="M68.40,292.90 C70.15,291.80 73.30,291.00 76.00,291.00 C78.70,291.00 82.22,291.95 84.60,292.90 C86.98,293.85 89.20,294.65 90.30,296.70 C91.40,298.75 91.37,302.20 91.20,305.20 C91.03,308.20 90.25,311.85 89.30,314.70 C88.35,317.55 87.08,320.23 85.50,322.30 C83.92,324.37 81.38,326.65 79.80,327.10 C78.22,327.55 77.63,326.52 76.00,325.00 C74.37,323.48 71.58,319.72 70.00,318.00 C68.42,316.28 67.40,316.83 66.50,314.70 C65.60,312.57 64.77,308.05 64.60,305.20 C64.43,302.35 64.87,299.65 65.50,297.60 C66.13,295.55 66.65,294.00 68.40,292.90Z" fill="#b272a8" filter="url(#bump)" />
<path d="M89.30,297.60 C91.03,296.18 95.95,294.80 98.80,294.80 C101.65,294.80 104.18,296.18 106.40,297.60 C108.62,299.02 111.47,301.40 112.10,303.30 C112.73,305.20 111.78,307.73 110.20,309.00 C108.62,310.27 105.13,310.42 102.60,310.90 C100.07,311.38 97.22,312.22 95.00,311.90 C92.78,311.58 90.40,310.43 89.30,309.00 C88.20,307.57 88.40,305.20 88.40,303.30 C88.40,301.40 87.57,299.02 89.30,297.60Z" fill="#686868" filter="url(#bump)" />
<path d="M90.00,334.00 C91.58,331.67 95.33,331.17 98.00,331.00 C100.67,330.83 103.33,333.00 106.00,333.00 C108.67,333.00 111.50,330.67 114.00,331.00 C116.50,331.33 118.75,333.50 121.00,335.00 C123.25,336.50 126.67,337.83 127.50,340.00 C128.33,342.17 126.92,345.50 126.00,348.00 C125.08,350.50 124.00,353.17 122.00,355.00 C120.00,356.83 117.00,357.83 114.00,359.00 C111.00,360.17 107.33,361.67 104.00,362.00 C100.67,362.33 96.50,362.17 94.00,361.00 C91.50,359.83 89.92,357.67 89.00,355.00 C88.08,352.33 88.33,348.50 88.50,345.00 C88.67,341.50 88.42,336.33 90.00,334.00Z" fill="#a8567a" filter="url(#bump)" />
<path d="M86.00,315.00 C87.72,313.47 92.23,312.87 95.00,312.80 C97.77,312.73 100.43,313.40 102.60,314.60 C104.77,315.80 106.87,317.77 108.00,320.00 C109.13,322.23 109.73,325.33 109.40,328.00 C109.07,330.67 107.90,334.00 106.00,336.00 C104.10,338.00 100.67,339.83 98.00,340.00 C95.33,340.17 92.08,338.67 90.00,337.00 C87.92,335.33 86.38,332.50 85.50,330.00 C84.62,327.50 84.62,324.50 84.70,322.00 C84.78,319.50 84.28,316.53 86.00,315.00Z" fill="#943a32" filter="url(#bump)" />
<path d="M215.00,230.00 C216.00,227.83 217.33,226.25 219.00,225.00 C220.67,223.75 222.83,222.67 225.00,222.50 C227.17,222.33 229.67,223.25 232.00,224.00 C234.33,224.75 237.00,225.75 239.00,227.00 C241.00,228.25 242.75,229.83 244.00,231.50 C245.25,233.17 245.58,235.33 246.50,237.00 C247.42,238.67 248.75,240.00 249.50,241.50 C250.25,243.00 251.25,244.50 251.00,246.00 C250.75,247.50 249.25,249.08 248.00,250.50 C246.75,251.92 245.17,253.50 243.50,254.50 C241.83,255.50 239.75,255.83 238.00,256.50 C236.25,257.17 234.58,257.58 233.00,258.50 C231.42,259.42 230.00,261.58 228.50,262.00 C227.00,262.42 225.33,262.00 224.00,261.00 C222.67,260.00 221.67,257.67 220.50,256.00 C219.33,254.33 218.08,252.83 217.00,251.00 C215.92,249.17 214.67,247.17 214.00,245.00 C213.33,242.83 212.83,240.50 213.00,238.00 C213.17,235.50 214.00,232.17 215.00,230.00Z" fill="#c6722a" filter="url(#bump)" />
<path d="M203.40,245.80 C205.18,244.65 207.45,243.35 209.50,242.70 C211.55,242.05 214.15,241.65 215.70,241.90 C217.25,242.15 218.03,242.78 218.80,244.20 C219.57,245.62 220.30,248.35 220.30,250.40 C220.30,252.45 219.82,254.83 218.80,256.50 C217.78,258.17 216.00,259.75 214.20,260.40 C212.40,261.05 209.80,260.67 208.00,260.40 C206.20,260.13 204.82,259.70 203.40,258.80 C201.98,257.90 200.27,256.53 199.50,255.00 C198.73,253.47 198.15,251.13 198.80,249.60 C199.45,248.07 201.62,246.95 203.40,245.80Z" fill="#e8d83c" filter="url(#bump)" />
<path d="M257.60,268.80 C258.73,267.63 264.40,269.17 267.10,270.10 C269.80,271.03 272.05,272.13 273.80,274.40 C275.55,276.67 275.53,280.87 277.60,283.70 C279.67,286.53 283.65,289.22 286.20,291.40 C288.75,293.58 291.48,295.13 292.90,296.80 C294.32,298.47 295.28,299.90 294.70,301.40 C294.12,302.90 291.85,305.30 289.40,305.80 C286.95,306.30 282.25,305.58 280.00,304.40 C277.75,303.22 277.72,300.33 275.90,298.70 C274.08,297.07 271.25,296.82 269.10,294.60 C266.95,292.38 264.47,288.32 263.00,285.40 C261.53,282.48 261.20,279.87 260.30,277.10 C259.40,274.33 256.47,269.97 257.60,268.80Z" fill="#6a9c72" filter="url(#bump)" />
<path d="M234.50,273.00 C235.73,271.07 239.82,270.55 243.00,270.90 C246.18,271.25 251.30,273.35 253.60,275.10 C255.90,276.85 257.15,279.47 256.80,281.40 C256.45,283.33 253.80,285.82 251.50,286.70 C249.20,287.58 245.65,287.40 243.00,286.70 C240.35,286.00 237.02,284.78 235.60,282.50 C234.18,280.22 233.27,274.93 234.50,273.00Z" fill="#686868" filter="url(#bump)" />
<path d="M217.60,259.20 C219.37,258.32 224.52,258.18 226.10,260.30 C227.68,262.42 227.10,268.20 227.10,271.90 C227.10,275.60 225.92,279.32 226.10,282.50 C226.28,285.68 228.55,288.88 228.20,291.00 C227.85,293.12 226.12,294.50 224.00,295.20 C221.88,295.90 217.27,296.62 215.50,295.20 C213.73,293.78 213.58,289.87 213.40,286.70 C213.22,283.53 214.05,279.72 214.40,276.20 C214.75,272.68 214.97,268.43 215.50,265.60 C216.03,262.77 215.83,260.08 217.60,259.20Z" fill="#1ea840" filter="url(#bump)" />
<path d="M227.10,263.50 C229.22,261.90 236.83,261.13 240.90,261.30 C244.97,261.47 247.98,263.43 251.50,264.50 C255.02,265.57 258.83,266.98 262.00,267.70 C265.17,268.42 268.55,267.75 270.50,268.80 C272.45,269.85 274.05,272.60 273.70,274.00 C273.35,275.40 270.70,276.83 268.40,277.20 C266.10,277.57 262.72,276.73 259.90,276.20 C257.08,275.67 254.32,274.72 251.50,274.00 C248.68,273.28 245.83,272.42 243.00,271.90 C240.17,271.38 236.97,271.07 234.50,270.90 C232.03,270.73 229.43,272.13 228.20,270.90 C226.97,269.67 224.98,265.10 227.10,263.50Z" fill="#1ea840" filter="url(#bump)" />
<path d="M192.20,284.60 C193.78,282.32 197.87,279.88 200.70,278.30 C203.53,276.72 206.73,275.10 209.20,275.10 C211.67,275.10 214.63,276.02 215.50,278.30 C216.37,280.58 214.75,285.80 214.40,288.80 C214.05,291.80 214.98,294.53 213.40,296.30 C211.82,298.07 207.72,299.23 204.90,299.40 C202.08,299.57 198.78,298.53 196.50,297.30 C194.22,296.07 191.92,294.12 191.20,292.00 C190.48,289.88 190.62,286.88 192.20,284.60Z" fill="#aaaacc" filter="url(#bump)" />
<path d="M226.10,278.30 C227.17,277.07 232.10,280.75 233.50,282.50 C234.90,284.25 235.57,287.57 234.50,288.80 C233.43,290.03 228.50,291.65 227.10,289.90 C225.70,288.15 225.03,279.53 226.10,278.30Z" fill="#b9b9d4" filter="url(#bump)" />
<path d="M257.80,288.80 C259.92,285.80 263.83,287.43 266.30,287.80 C268.77,288.17 270.83,289.07 272.60,291.00 C274.37,292.93 275.83,296.23 276.90,299.40 C277.97,302.57 278.30,306.82 279.00,310.00 C279.70,313.18 281.45,316.03 281.10,318.50 C280.75,320.97 279.02,323.57 276.90,324.80 C274.78,326.03 271.23,326.60 268.40,325.90 C265.57,325.20 261.67,322.90 259.90,320.60 C258.13,318.30 258.85,314.57 257.80,312.10 C256.75,309.63 253.60,309.68 253.60,305.80 C253.60,301.92 255.68,291.80 257.80,288.80Z" fill="#a8567a" filter="url(#bump)" />
<path d="M213.40,295.20 C215.87,292.90 220.83,291.82 224.00,292.00 C227.17,292.18 230.12,294.35 232.40,296.30 C234.68,298.25 237.17,300.72 237.70,303.70 C238.23,306.68 236.48,310.85 235.60,314.20 C234.72,317.55 234.33,321.68 232.40,323.80 C230.47,325.92 226.82,326.73 224.00,326.90 C221.18,327.07 217.80,326.55 215.50,324.80 C213.20,323.05 211.25,319.57 210.20,316.40 C209.15,313.23 208.67,309.33 209.20,305.80 C209.73,302.27 210.93,297.50 213.40,295.20Z" fill="#bf7ab6" filter="url(#bump)" />
<path d="M230.30,288.80 C231.72,287.03 237.37,286.17 240.90,286.70 C244.43,287.23 247.98,290.77 251.50,292.00 C255.02,293.23 258.48,293.38 262.00,294.10 C265.52,294.82 270.12,295.23 272.60,296.30 C275.08,297.37 276.55,298.92 276.90,300.50 C277.25,302.08 276.82,304.75 274.70,305.80 C272.58,306.85 268.07,306.63 264.20,306.80 C260.33,306.97 255.38,307.50 251.50,306.80 C247.62,306.10 244.08,304.18 240.90,302.60 C237.72,301.02 234.17,299.60 232.40,297.30 C230.63,295.00 228.88,290.57 230.30,288.80Z" fill="#1ea840" filter="url(#bump)" />
<path d="M233.50,305.80 C235.27,303.15 240.00,302.60 243.00,302.60 C246.00,302.60 249.03,304.22 251.50,305.80 C253.97,307.38 256.75,309.63 257.80,312.10 C258.85,314.57 258.85,317.95 257.80,320.60 C256.75,323.25 253.97,326.42 251.50,328.00 C249.03,329.58 245.65,330.28 243.00,330.10 C240.35,329.92 237.37,328.83 235.60,326.90 C233.83,324.97 232.75,322.02 232.40,318.50 C232.05,314.98 231.73,308.45 233.50,305.80Z" fill="#943a32" filter="url(#bump)" />
<path d="M366.00,232.00 C367.00,230.50 368.33,228.17 370.00,227.00 C371.67,225.83 373.83,225.17 376.00,225.00 C378.17,224.83 380.67,225.33 383.00,226.00 C385.33,226.67 387.67,227.83 390.00,229.00 C392.33,230.17 395.00,231.50 397.00,233.00 C399.00,234.50 400.75,236.33 402.00,238.00 C403.25,239.67 404.50,241.33 404.50,243.00 C404.50,244.67 403.25,246.50 402.00,248.00 C400.75,249.50 398.83,250.83 397.00,252.00 C395.17,253.17 392.67,253.83 391.00,255.00 C389.33,256.17 388.33,257.50 387.00,259.00 C385.67,260.50 384.50,263.00 383.00,264.00 C381.50,265.00 379.50,265.50 378.00,265.00 C376.50,264.50 375.33,262.67 374.00,261.00 C372.67,259.33 371.33,257.00 370.00,255.00 C368.67,253.00 367.08,251.17 366.00,249.00 C364.92,246.83 363.83,244.17 363.50,242.00 C363.17,239.83 363.58,237.67 364.00,236.00 C364.42,234.33 365.00,233.50 366.00,232.00Z" fill="#c6722a" filter="url(#bump)" />
<path d="M353.30,251.30 C354.83,249.77 357.78,248.60 360.00,247.90 C362.22,247.20 364.67,246.53 366.60,247.10 C368.53,247.67 370.48,249.50 371.60,251.30 C372.72,253.10 373.30,255.97 373.30,257.90 C373.30,259.83 372.98,261.52 371.60,262.90 C370.22,264.28 367.22,265.65 365.00,266.20 C362.78,266.75 360.25,266.75 358.30,266.20 C356.35,265.65 354.55,264.42 353.30,262.90 C352.05,261.38 350.80,259.03 350.80,257.10 C350.80,255.17 351.77,252.83 353.30,251.30Z" fill="#e8d83c" filter="url(#bump)" />
<path d="M421.20,264.50 C423.02,263.33 428.77,265.75 431.90,267.00 C435.03,268.25 437.60,270.50 440.00,272.00 C442.40,273.50 444.20,274.17 446.30,276.00 C448.40,277.83 451.03,280.28 452.60,283.00 C454.17,285.72 456.05,290.22 455.70,292.30 C455.35,294.38 452.42,295.67 450.50,295.50 C448.58,295.33 445.95,292.35 444.20,291.30 C442.45,290.25 442.37,291.08 440.00,289.20 C437.63,287.32 433.17,282.53 430.00,280.00 C426.83,277.47 422.47,276.58 421.00,274.00 C419.53,271.42 419.38,265.67 421.20,264.50Z" fill="#4a824c" filter="url(#bump)" />
<path d="M469.30,314.30 C470.00,313.60 473.52,317.10 475.60,318.50 C477.68,319.90 479.37,321.30 481.80,322.70 C484.23,324.10 487.75,325.52 490.20,326.90 C492.65,328.28 494.93,329.27 496.50,331.00 C498.07,332.73 499.10,334.80 499.60,337.30 C500.10,339.80 500.37,343.93 499.50,346.00 C498.63,348.07 496.48,348.90 494.40,349.70 C492.32,350.50 488.45,352.25 487.00,350.80 C485.55,349.35 486.57,343.60 485.70,341.00 C484.83,338.40 483.48,337.22 481.80,335.20 C480.12,333.18 477.33,330.98 475.60,328.90 C473.87,326.82 472.45,325.13 471.40,322.70 C470.35,320.27 468.60,315.00 469.30,314.30Z" fill="#4a824c" filter="url(#bump)" />
<path d="M393.40,272.10 C395.35,270.85 400.72,270.47 404.10,271.00 C407.48,271.53 411.57,273.33 413.70,275.30 C415.83,277.27 417.43,280.48 416.90,282.80 C416.37,285.12 413.35,287.95 410.50,289.20 C407.65,290.45 402.65,291.02 399.80,290.30 C396.95,289.58 394.63,286.87 393.40,284.90 C392.17,282.93 392.40,280.63 392.40,278.50 C392.40,276.37 391.45,273.35 393.40,272.10Z" fill="#686868" filter="url(#bump)" />
<path d="M374.20,267.80 C375.97,266.38 380.75,264.98 382.70,265.70 C384.65,266.42 385.53,269.62 385.90,272.10 C386.27,274.58 384.90,277.75 384.90,280.60 C384.90,283.45 385.90,286.35 385.90,289.20 C385.90,292.05 385.78,295.57 384.90,297.70 C384.02,299.83 382.20,301.63 380.60,302.00 C379.00,302.37 376.55,301.68 375.30,299.90 C374.05,298.12 373.63,294.52 373.10,291.30 C372.57,288.08 372.27,283.45 372.10,280.60 C371.93,277.75 371.75,276.33 372.10,274.20 C372.45,272.07 372.43,269.22 374.20,267.80Z" fill="#1ea840" filter="url(#bump)" />
<path d="M382.70,263.50 C384.85,261.90 391.32,262.85 395.60,262.50 C399.88,262.15 404.13,261.05 408.40,261.40 C412.67,261.75 417.28,263.70 421.20,264.60 C425.12,265.50 428.70,265.73 431.90,266.80 C435.10,267.87 437.55,269.40 440.40,271.00 C443.25,272.60 447.57,274.43 449.00,276.40 C450.43,278.37 450.43,282.45 449.00,282.80 C447.57,283.15 443.62,280.10 440.40,278.50 C437.18,276.90 433.62,274.27 429.70,273.20 C425.78,272.13 421.17,272.47 416.90,272.10 C412.63,271.73 408.37,271.18 404.10,271.00 C399.83,270.82 394.87,270.82 391.30,271.00 C387.73,271.18 384.13,273.35 382.70,272.10 C381.27,270.85 380.55,265.10 382.70,263.50Z" fill="#1ea840" filter="url(#bump)" />
<path d="M382.70,280.60 C384.13,278.28 388.80,281.37 391.30,282.80 C393.80,284.23 397.35,287.07 397.70,289.20 C398.05,291.33 395.90,294.35 393.40,295.60 C390.90,296.85 384.48,299.20 382.70,296.70 C380.92,294.20 381.27,282.92 382.70,280.60Z" fill="#b9b9d4" filter="url(#bump)" />
<path d="M348.50,295.60 C349.75,293.83 354.25,291.72 357.10,290.30 C359.95,288.88 363.10,288.53 365.60,287.10 C368.10,285.67 370.48,281.00 372.10,281.70 C373.72,282.40 374.60,288.27 375.30,291.30 C376.00,294.33 376.83,297.40 376.30,299.90 C375.77,302.40 374.23,304.88 372.10,306.30 C369.97,307.72 366.35,308.58 363.50,308.40 C360.65,308.22 357.32,306.45 355.00,305.20 C352.68,303.95 350.68,302.50 349.60,300.90 C348.52,299.30 347.25,297.37 348.50,295.60Z" fill="#9494b2" filter="url(#bump)" />
<path d="M419.10,287.10 C420.52,284.25 424.75,284.73 427.60,284.90 C430.45,285.07 433.70,286.67 436.20,288.10 C438.70,289.53 441.18,290.83 442.60,293.50 C444.02,296.17 444.30,301.02 444.70,304.10 C445.10,307.18 444.95,309.48 445.00,312.00 C445.05,314.52 445.95,317.53 445.00,319.20 C444.05,320.87 441.68,322.00 439.30,322.00 C436.92,322.00 432.65,320.03 430.70,319.20 C428.75,318.37 428.83,318.43 427.60,317.00 C426.37,315.57 424.72,313.10 423.30,310.60 C421.88,308.10 419.80,305.92 419.10,302.00 C418.40,298.08 417.68,289.95 419.10,287.10Z" fill="#a04870" filter="url(#bump)" />
<path d="M429.70,284.90 C430.75,283.57 434.12,283.48 436.00,284.00 C437.88,284.52 440.17,286.17 441.00,288.00 C441.83,289.83 442.17,293.67 441.00,295.00 C439.83,296.33 435.88,296.50 434.00,296.00 C432.12,295.50 430.42,293.85 429.70,292.00 C428.98,290.15 428.65,286.23 429.70,284.90Z" fill="#cf7fa2" filter="url(#bump)" />
<path d="M378.50,300.90 C380.80,298.77 386.25,295.60 389.10,295.60 C391.95,295.60 394.17,298.40 395.60,300.90 C397.03,303.40 397.17,307.22 397.70,310.60 C398.23,313.98 399.15,317.82 398.80,321.20 C398.45,324.58 397.22,328.75 395.60,330.90 C393.98,333.05 391.42,334.28 389.10,334.10 C386.78,333.92 384.00,332.30 381.70,329.80 C379.40,327.30 376.37,322.67 375.30,319.10 C374.23,315.53 374.77,311.43 375.30,308.40 C375.83,305.37 376.20,303.03 378.50,300.90Z" fill="#b272a8" filter="url(#bump)" />
<path d="M399.80,306.30 C401.75,304.70 407.28,305.02 410.50,305.20 C413.72,305.38 416.78,306.15 419.10,307.40 C421.42,308.65 423.33,310.40 424.40,312.70 C425.47,315.00 426.03,318.72 425.50,321.20 C424.97,323.68 423.35,325.82 421.20,327.60 C419.05,329.38 415.45,331.53 412.60,331.90 C409.75,332.27 406.23,331.22 404.10,329.80 C401.97,328.38 400.68,325.90 399.80,323.40 C398.92,320.90 398.80,317.65 398.80,314.80 C398.80,311.95 397.85,307.90 399.80,306.30Z" fill="#943a32" filter="url(#bump)" />
<path d="M393.40,292.40 C395.00,290.62 400.53,289.38 404.10,289.20 C407.67,289.02 411.23,290.42 414.80,291.30 C418.37,292.18 421.93,293.97 425.50,294.50 C429.07,295.03 433.53,293.97 436.20,294.50 C438.87,295.03 441.15,296.27 441.50,297.70 C441.85,299.13 440.27,302.03 438.30,303.10 C436.33,304.17 432.55,303.57 429.70,304.10 C426.85,304.63 424.40,305.93 421.20,306.30 C418.00,306.67 413.70,306.67 410.50,306.30 C407.30,305.93 404.67,305.17 402.00,304.10 C399.33,303.03 395.93,301.85 394.50,299.90 C393.07,297.95 391.80,294.18 393.40,292.40Z" fill="#1ea840" filter="url(#bump)" />
<path d="M440.00,300.70 C441.05,298.95 444.20,296.72 446.30,295.50 C448.40,294.28 450.15,293.93 452.60,293.40 C455.05,292.87 458.22,291.95 461.00,292.30 C463.78,292.65 466.70,294.10 469.30,295.50 C471.90,296.90 474.15,299.13 476.60,300.70 C479.05,302.27 482.08,303.15 484.00,304.90 C485.92,306.65 487.77,309.28 488.10,311.20 C488.43,313.12 487.40,315.72 486.00,316.40 C484.60,317.08 482.13,316.00 479.70,315.30 C477.27,314.60 474.18,313.07 471.40,312.20 C468.62,311.33 464.75,309.40 463.00,310.10 C461.25,310.80 460.90,313.95 460.90,316.40 C460.90,318.85 462.48,322.37 463.00,324.80 C463.52,327.23 464.52,329.43 464.00,331.00 C463.48,332.57 461.28,334.53 459.90,334.20 C458.52,333.87 456.92,331.27 455.70,329.00 C454.48,326.73 453.82,323.05 452.60,320.60 C451.38,318.15 450.15,316.05 448.40,314.30 C446.65,312.55 443.50,311.48 442.10,310.10 C440.70,308.72 440.35,307.57 440.00,306.00 C439.65,304.43 438.95,302.45 440.00,300.70Z" fill="#c4b440" filter="url(#bump)" />
<path d="M453.50,333.40 C455.17,333.17 460.02,335.20 462.10,336.30 C464.18,337.40 464.43,337.40 466.00,340.00 C467.57,342.60 469.68,349.02 471.50,351.90 C473.32,354.78 475.45,354.57 476.90,357.30 C478.35,360.03 480.20,365.93 480.20,368.30 C480.20,370.67 478.53,371.50 476.90,371.50 C475.27,371.50 472.22,369.75 470.40,368.30 C468.58,366.85 467.38,364.82 466.00,362.80 C464.62,360.78 463.70,358.97 462.10,356.20 C460.50,353.43 458.07,349.28 456.40,346.20 C454.73,343.12 452.58,339.83 452.10,337.70 C451.62,335.57 451.83,333.63 453.50,333.40Z" fill="#1ea840" filter="url(#bump)" />
<path d="M478.00,356.20 C479.28,354.02 483.15,353.35 485.70,351.90 C488.25,350.45 491.12,347.50 493.30,347.50 C495.48,347.50 497.52,350.72 498.80,351.90 C500.08,353.08 501.37,353.52 501.00,354.60 C500.63,355.68 498.43,357.22 496.60,358.40 C494.77,359.58 492.37,360.43 490.00,361.70 C487.63,362.97 484.40,365.45 482.40,366.00 C480.40,366.55 478.73,366.63 478.00,365.00 C477.27,363.37 476.72,358.38 478.00,356.20Z" fill="#686868" filter="url(#bump)" />
<ellipse cx="82" cy="252" rx="6.5" ry="4" fill="#c8bf6a" opacity="0.75" filter="url(#bump)"/>
<ellipse cx="240" cy="256.5" rx="5" ry="3.5" fill="#c8bf4a" opacity="0.8" filter="url(#bump)"/>
<ellipse cx="390" cy="260" rx="5" ry="3.5" fill="#c0b440" opacity="0.8" filter="url(#bump)"/>
<rect x="0" y="0" width="520" height="1" fill="#555"/>
<rect x="0" y="1" width="520" height="0.6" fill="#999"/>
<rect x="0" y="0" width="1.2" height="421" fill="#1a1a1a"/>
<rect x="518" y="0" width="2" height="421" fill="#454545"/>
<rect x="0" y="419" width="520" height="2" fill="#444"/>
</svg></body></html>
